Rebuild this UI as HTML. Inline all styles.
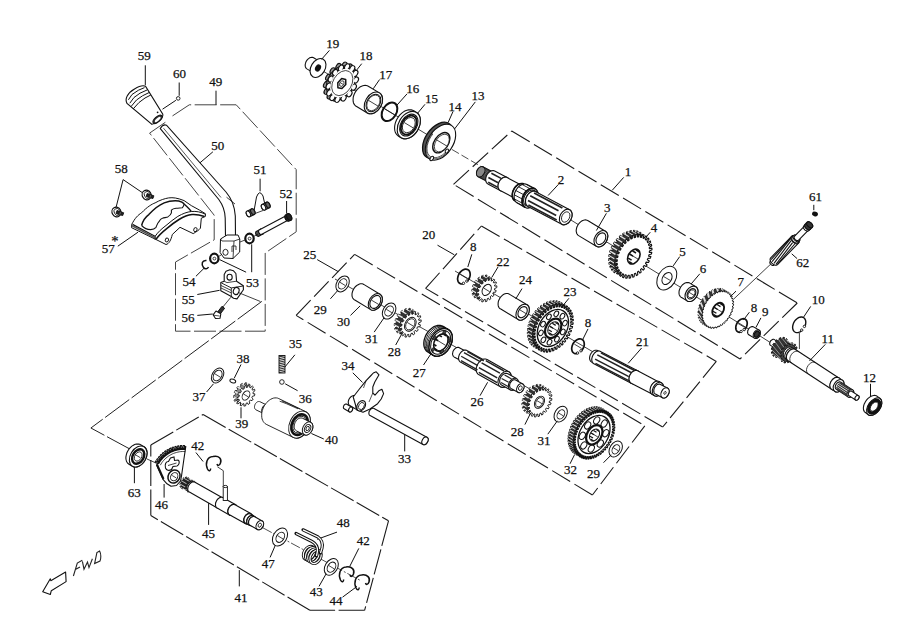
<!DOCTYPE html>
<html><head><meta charset="utf-8"><style>
html,body{margin:0;padding:0;background:#fff;width:906px;height:627px;overflow:hidden}
svg{display:block}
text{font-family:"Liberation Serif",serif;fill:#111;stroke:#111;stroke-width:0.25}
</style></head><body>
<svg width="906" height="627" viewBox="0 0 906 627">
<rect width="906" height="627" fill="#fff"/>
<polyline points="511.7,131 797.3,303" fill="none" stroke="#1a1a1a" stroke-width="1.1" stroke-dasharray="21 5" stroke-dashoffset="0"/>
<polyline points="797.3,303 740,359" fill="none" stroke="#1a1a1a" stroke-width="1.1" stroke-dasharray="21 5" stroke-dashoffset="0"/>
<polyline points="740,359 453.5,184.3" fill="none" stroke="#1a1a1a" stroke-width="1.1" stroke-dasharray="21 5" stroke-dashoffset="0"/>
<polyline points="453.5,184.3 511.7,131" fill="none" stroke="#1a1a1a" stroke-width="1.1" stroke-dasharray="21 5" stroke-dashoffset="0"/>
<polyline points="481.4,226 716.3,361.4" fill="none" stroke="#1a1a1a" stroke-width="1.1" stroke-dasharray="21 5" stroke-dashoffset="0"/>
<polyline points="716.3,361.4 662.7,427" fill="none" stroke="#1a1a1a" stroke-width="1.1" stroke-dasharray="21 5" stroke-dashoffset="0"/>
<polyline points="662.7,427 425.6,288.4" fill="none" stroke="#1a1a1a" stroke-width="1.1" stroke-dasharray="21 5" stroke-dashoffset="0"/>
<polyline points="425.6,288.4 481.4,226" fill="none" stroke="#1a1a1a" stroke-width="1.1" stroke-dasharray="21 5" stroke-dashoffset="0"/>
<polyline points="354.6,254.4 644.8,425.8" fill="none" stroke="#1a1a1a" stroke-width="1.1" stroke-dasharray="21 5" stroke-dashoffset="0"/>
<polyline points="644.8,425.8 592.4,495" fill="none" stroke="#1a1a1a" stroke-width="1.1" stroke-dasharray="21 5" stroke-dashoffset="0"/>
<polyline points="592.4,495 296.1,315.4" fill="none" stroke="#1a1a1a" stroke-width="1.1" stroke-dasharray="21 5" stroke-dashoffset="0"/>
<polyline points="296.1,315.4 354.6,254.4" fill="none" stroke="#1a1a1a" stroke-width="1.1" stroke-dasharray="21 5" stroke-dashoffset="0"/>
<polyline points="203.1,414.5 388.5,520.8" fill="none" stroke="#1a1a1a" stroke-width="1.1" stroke-dasharray="26 3.5" stroke-dashoffset="0"/>
<polyline points="388.5,520.8 364.6,610.3" fill="none" stroke="#1a1a1a" stroke-width="1.1" stroke-dasharray="26 3.5" stroke-dashoffset="0"/>
<polyline points="364.6,610.3 309.9,610.3" fill="none" stroke="#1a1a1a" stroke-width="1.1" stroke-dasharray="26 3.5" stroke-dashoffset="0"/>
<polyline points="309.9,610.3 150.8,515.5" fill="none" stroke="#1a1a1a" stroke-width="1.1" stroke-dasharray="26 3.5" stroke-dashoffset="0"/>
<polyline points="150.8,515.5 150.8,445" fill="none" stroke="#1a1a1a" stroke-width="1.1" stroke-dasharray="26 3.5" stroke-dashoffset="0"/>
<polyline points="150.8,445 203.1,414.5" fill="none" stroke="#1a1a1a" stroke-width="1.1" stroke-dasharray="26 3.5" stroke-dashoffset="0"/>
<polyline points="172.5,115.9 189.3,104.8 236.2,104.8 296.2,169.6 296.2,231.8 265.2,253 265.2,331.2 175.5,331.2 175.5,262 214.2,239.8 214.2,215.2 149.6,133.1 165.8,122" fill="none" stroke="#444" stroke-width="1.0" stroke-dasharray="22 3.5" stroke-dashoffset="0"/>
<polyline points="261.8,301.4 90.9,428 130.2,449.2" fill="none" stroke="#222" stroke-width="1.0" stroke-dasharray="30 3" stroke-dashoffset="0"/>
<text x="628" y="176" font-size="13.0" text-anchor="middle">1</text>
<text x="561" y="183.8" font-size="13.0" text-anchor="middle">2</text>
<text x="607.2" y="211.8" font-size="13.0" text-anchor="middle">3</text>
<text x="654" y="232.2" font-size="13.0" text-anchor="middle">4</text>
<text x="682.5" y="255.6" font-size="13.0" text-anchor="middle">5</text>
<text x="703" y="273.4" font-size="13.0" text-anchor="middle">6</text>
<text x="740.7" y="285.8" font-size="13.0" text-anchor="middle">7</text>
<text x="754" y="311.7" font-size="13.0" text-anchor="middle">8</text>
<text x="765.2" y="315.5" font-size="13.0" text-anchor="middle">9</text>
<text x="818.3" y="304" font-size="13.0" text-anchor="middle">10</text>
<text x="827.8" y="342.6" font-size="13.0" text-anchor="middle">11</text>
<text x="869.4" y="382.4" font-size="13.0" text-anchor="middle">12</text>
<text x="478" y="100.1" font-size="13.0" text-anchor="middle">13</text>
<text x="455" y="110.6" font-size="13.0" text-anchor="middle">14</text>
<text x="431.4" y="103" font-size="13.0" text-anchor="middle">15</text>
<text x="412.8" y="93.2" font-size="13.0" text-anchor="middle">16</text>
<text x="385.8" y="79.2" font-size="13.0" text-anchor="middle">17</text>
<text x="366" y="60.1" font-size="13.0" text-anchor="middle">18</text>
<text x="332.8" y="47.9" font-size="13.0" text-anchor="middle">19</text>
<text x="428.7" y="239.4" font-size="13.0" text-anchor="middle">20</text>
<text x="642.6" y="345.6" font-size="13.0" text-anchor="middle">21</text>
<text x="502.9" y="265.7" font-size="13.0" text-anchor="middle">22</text>
<text x="569.9" y="295.9" font-size="13.0" text-anchor="middle">23</text>
<text x="525.6" y="283.7" font-size="13.0" text-anchor="middle">24</text>
<text x="309.8" y="259.2" font-size="13.0" text-anchor="middle">25</text>
<text x="477" y="405.7" font-size="13.0" text-anchor="middle">26</text>
<text x="419.2" y="377" font-size="13.0" text-anchor="middle">27</text>
<text x="394.3" y="355.5" font-size="13.0" text-anchor="middle">28</text>
<text x="517.2" y="435.6" font-size="13.0" text-anchor="middle">28</text>
<text x="320.2" y="313.6" font-size="13.0" text-anchor="middle">29</text>
<text x="593.5" y="478" font-size="13.0" text-anchor="middle">29</text>
<text x="343.5" y="326.3" font-size="13.0" text-anchor="middle">30</text>
<text x="371.5" y="342.5" font-size="13.0" text-anchor="middle">31</text>
<text x="544" y="445.1" font-size="13.0" text-anchor="middle">31</text>
<text x="570.5" y="473.6" font-size="13.0" text-anchor="middle">32</text>
<text x="404.5" y="462.6" font-size="13.0" text-anchor="middle">33</text>
<text x="348" y="370.1" font-size="13.0" text-anchor="middle">34</text>
<text x="295.5" y="348.1" font-size="13.0" text-anchor="middle">35</text>
<text x="305.2" y="403.3" font-size="13.0" text-anchor="middle">36</text>
<text x="199" y="401.1" font-size="13.0" text-anchor="middle">37</text>
<text x="243.1" y="362.6" font-size="13.0" text-anchor="middle">38</text>
<text x="241.7" y="428.1" font-size="13.0" text-anchor="middle">39</text>
<text x="331.4" y="444" font-size="13.0" text-anchor="middle">40</text>
<text x="241.1" y="601.5" font-size="13.0" text-anchor="middle">41</text>
<text x="197.7" y="449.5" font-size="13.0" text-anchor="middle">42</text>
<text x="363.3" y="545.4" font-size="13.0" text-anchor="middle">42</text>
<text x="316.2" y="596.1" font-size="13.0" text-anchor="middle">43</text>
<text x="336.1" y="605.1" font-size="13.0" text-anchor="middle">44</text>
<text x="208.5" y="538.2" font-size="13.0" text-anchor="middle">45</text>
<text x="161.5" y="509.3" font-size="13.0" text-anchor="middle">46</text>
<text x="268.2" y="568" font-size="13.0" text-anchor="middle">47</text>
<text x="343.3" y="527.3" font-size="13.0" text-anchor="middle">48</text>
<text x="215.8" y="86.2" font-size="13.0" text-anchor="middle">49</text>
<text x="217.7" y="149.6" font-size="13.0" text-anchor="middle">50</text>
<text x="260" y="174" font-size="13.0" text-anchor="middle">51</text>
<text x="286" y="197.6" font-size="13.0" text-anchor="middle">52</text>
<text x="252.4" y="286.9" font-size="13.0" text-anchor="middle">53</text>
<text x="189" y="285.5" font-size="13.0" text-anchor="middle">54</text>
<text x="188.3" y="304.3" font-size="13.0" text-anchor="middle">55</text>
<text x="188" y="321.8" font-size="13.0" text-anchor="middle">56</text>
<text x="108.2" y="252.7" font-size="13.0" text-anchor="middle">57</text>
<text x="121.3" y="172.8" font-size="13.0" text-anchor="middle">58</text>
<text x="144.2" y="59.6" font-size="13.0" text-anchor="middle">59</text>
<text x="179.6" y="77.8" font-size="13.0" text-anchor="middle">60</text>
<text x="815.5" y="200.5" font-size="13.0" text-anchor="middle">61</text>
<text x="802.8" y="266.5" font-size="13.0" text-anchor="middle">62</text>
<text x="134.3" y="496.6" font-size="13.0" text-anchor="middle">63</text>
<line x1="318" y1="68" x2="445" y2="145.5" stroke="#111" stroke-width="0.8"/>
<line x1="566" y1="217" x2="760" y2="336" stroke="#111" stroke-width="0.8"/>
<line x1="760" y1="336" x2="790" y2="355" stroke="#111" stroke-width="0.8"/>
<line x1="770.5" y1="264.3" x2="734" y2="298.8" stroke="#111" stroke-width="0.8"/>
<polygon points="306.9,68.9 306.5,68.6 306.1,68.1 305.7,67.6 305.5,67 305.3,66.4 305.2,65.7 305.2,64.9 305.3,64.1 305.5,63.4 305.7,62.6 306,61.8 306.4,61.1 306.9,60.3 307.4,59.7 308,59.1 308.6,58.6 309.3,58.1 309.9,57.8 310.6,57.5 311.3,57.4 311.9,57.3 312.5,57.4 313.1,57.5 313.6,57.8 320.5,61.9 321,62.3 321.4,62.7 321.7,63.2 322,63.8 322.1,64.5 322.2,65.2 322.2,65.9 322.1,66.7 322,67.5 321.7,68.3 321.4,69 321,69.8 320.5,70.5 320,71.2 319.4,71.8 318.8,72.3 318.2,72.7 317.5,73.1 316.8,73.3 316.2,73.5 315.5,73.5 314.9,73.5 314.3,73.3 313.8,73.1" fill="#fff" stroke="#111" stroke-width="1.1" stroke-linejoin="round"/>
<ellipse cx="317.1" cy="67.5" rx="6.5" ry="4.5" transform="rotate(-59 317.1 67.5)" fill="#fff" stroke="#111" stroke-width="1.1"/>
<ellipse cx="318" cy="68" rx="10.2" ry="7" transform="rotate(-59 318 68)" fill="#fff" stroke="#111" stroke-width="1.1"/>
<ellipse cx="318" cy="68" rx="3.2" ry="2.2" transform="rotate(-59 318 68)" fill="#111" stroke="#111" stroke-width="1.1"/>
<ellipse cx="349.6" cy="67.2" rx="3.4" ry="2.3" transform="rotate(-59 349.6 67.2)" fill="#999" stroke="#111" stroke-width="1.1"/>
<ellipse cx="352.8" cy="71.9" rx="3.4" ry="2.3" transform="rotate(-59 352.8 71.9)" fill="#999" stroke="#111" stroke-width="1.1"/>
<ellipse cx="353.3" cy="78.5" rx="3.4" ry="2.3" transform="rotate(-59 353.3 78.5)" fill="#999" stroke="#111" stroke-width="1.1"/>
<ellipse cx="351.2" cy="85.7" rx="3.4" ry="2.3" transform="rotate(-59 351.2 85.7)" fill="#999" stroke="#111" stroke-width="1.1"/>
<ellipse cx="346.8" cy="92.1" rx="3.4" ry="2.3" transform="rotate(-59 346.8 92.1)" fill="#999" stroke="#111" stroke-width="1.1"/>
<ellipse cx="341" cy="96.4" rx="3.4" ry="2.3" transform="rotate(-59 341 96.4)" fill="#999" stroke="#111" stroke-width="1.1"/>
<ellipse cx="334.9" cy="97.8" rx="3.4" ry="2.3" transform="rotate(-59 334.9 97.8)" fill="#999" stroke="#111" stroke-width="1.1"/>
<ellipse cx="329.8" cy="95.9" rx="3.4" ry="2.3" transform="rotate(-59 329.8 95.9)" fill="#999" stroke="#111" stroke-width="1.1"/>
<ellipse cx="326.7" cy="91.2" rx="3.4" ry="2.3" transform="rotate(-59 326.7 91.2)" fill="#999" stroke="#111" stroke-width="1.1"/>
<ellipse cx="326.1" cy="84.6" rx="3.4" ry="2.3" transform="rotate(-59 326.1 84.6)" fill="#999" stroke="#111" stroke-width="1.1"/>
<ellipse cx="328.3" cy="77.4" rx="3.4" ry="2.3" transform="rotate(-59 328.3 77.4)" fill="#999" stroke="#111" stroke-width="1.1"/>
<ellipse cx="332.7" cy="71" rx="3.4" ry="2.3" transform="rotate(-59 332.7 71)" fill="#999" stroke="#111" stroke-width="1.1"/>
<ellipse cx="338.5" cy="66.7" rx="3.4" ry="2.3" transform="rotate(-59 338.5 66.7)" fill="#999" stroke="#111" stroke-width="1.1"/>
<ellipse cx="344.5" cy="65.3" rx="3.4" ry="2.3" transform="rotate(-59 344.5 65.3)" fill="#999" stroke="#111" stroke-width="1.1"/>
<ellipse cx="339.7" cy="81.6" rx="17" ry="11.7" transform="rotate(-59 339.7 81.6)" fill="#999" stroke="#111" stroke-width="1.0"/>
<ellipse cx="342.3" cy="83.1" rx="17" ry="11.7" transform="rotate(-59 342.3 83.1)" fill="#fff" stroke="#111" stroke-width="1.1"/>
<ellipse cx="352.2" cy="68.7" rx="3.3" ry="2.3" transform="rotate(-59 352.2 68.7)" fill="#fff" stroke="#111" stroke-width="1.1"/>
<ellipse cx="355.3" cy="73.4" rx="3.3" ry="2.3" transform="rotate(-59 355.3 73.4)" fill="#fff" stroke="#111" stroke-width="1.1"/>
<ellipse cx="355.9" cy="80" rx="3.3" ry="2.3" transform="rotate(-59 355.9 80)" fill="#fff" stroke="#111" stroke-width="1.1"/>
<ellipse cx="353.8" cy="87.2" rx="3.3" ry="2.3" transform="rotate(-59 353.8 87.2)" fill="#fff" stroke="#111" stroke-width="1.1"/>
<ellipse cx="349.4" cy="93.7" rx="3.3" ry="2.3" transform="rotate(-59 349.4 93.7)" fill="#fff" stroke="#111" stroke-width="1.1"/>
<ellipse cx="343.6" cy="98" rx="3.3" ry="2.3" transform="rotate(-59 343.6 98)" fill="#fff" stroke="#111" stroke-width="1.1"/>
<ellipse cx="337.5" cy="99.3" rx="3.3" ry="2.3" transform="rotate(-59 337.5 99.3)" fill="#fff" stroke="#111" stroke-width="1.1"/>
<ellipse cx="332.4" cy="97.5" rx="3.3" ry="2.3" transform="rotate(-59 332.4 97.5)" fill="#fff" stroke="#111" stroke-width="1.1"/>
<ellipse cx="329.3" cy="92.8" rx="3.3" ry="2.3" transform="rotate(-59 329.3 92.8)" fill="#fff" stroke="#111" stroke-width="1.1"/>
<ellipse cx="328.7" cy="86.2" rx="3.3" ry="2.3" transform="rotate(-59 328.7 86.2)" fill="#fff" stroke="#111" stroke-width="1.1"/>
<ellipse cx="330.8" cy="79" rx="3.3" ry="2.3" transform="rotate(-59 330.8 79)" fill="#fff" stroke="#111" stroke-width="1.1"/>
<ellipse cx="335.2" cy="72.5" rx="3.3" ry="2.3" transform="rotate(-59 335.2 72.5)" fill="#fff" stroke="#111" stroke-width="1.1"/>
<ellipse cx="341" cy="68.2" rx="3.3" ry="2.3" transform="rotate(-59 341 68.2)" fill="#fff" stroke="#111" stroke-width="1.1"/>
<ellipse cx="347.1" cy="66.9" rx="3.3" ry="2.3" transform="rotate(-59 347.1 66.9)" fill="#fff" stroke="#111" stroke-width="1.1"/>
<ellipse cx="342.3" cy="83.1" rx="15.5" ry="10.7" transform="rotate(-59 342.3 83.1)" fill="#fff" stroke="none" stroke-width="0"/>
<ellipse cx="342.3" cy="83.1" rx="13.5" ry="9.3" transform="rotate(-59 342.3 83.1)" fill="none" stroke="#111" stroke-width="0.7"/>
<polygon points="345.7,79.5 345.8,84.5 341.9,88.6 337.9,87.7 337.8,82.7 341.7,78.6" fill="#fff" stroke="#111" stroke-width="1.5" stroke-linejoin="round"/>
<polygon points="343.9,81.3 344,84.1 341.9,86.4 339.7,85.9 339.6,83.1 341.7,80.8" fill="#fff" stroke="#111" stroke-width="0.8" stroke-linejoin="round"/>
<polygon points="356.2,106.3 355.4,105.7 354.6,104.9 354,103.9 353.5,102.9 353.2,101.7 353.1,100.4 353.1,99.1 353.2,97.7 353.5,96.2 354,94.8 354.6,93.4 355.3,92.1 356.2,90.8 357.1,89.6 358.1,88.6 359.2,87.6 360.4,86.8 361.6,86.2 362.8,85.8 364,85.5 365.1,85.4 366.3,85.5 367.3,85.8 368.3,86.2 379.4,92.9 380.2,93.5 381,94.3 381.6,95.3 382.1,96.3 382.4,97.5 382.5,98.8 382.5,100.1 382.4,101.5 382.1,103 381.6,104.4 381,105.8 380.3,107.1 379.4,108.4 378.5,109.6 377.5,110.6 376.4,111.6 375.2,112.4 374,113 372.8,113.4 371.6,113.7 370.5,113.8 369.3,113.7 368.3,113.4 367.3,113" fill="#fff" stroke="#111" stroke-width="1.1" stroke-linejoin="round"/>
<ellipse cx="373.4" cy="102.9" rx="11.7" ry="8.1" transform="rotate(-59 373.4 102.9)" fill="#fff" stroke="#111" stroke-width="1.1"/>
<ellipse cx="373.4" cy="102.9" rx="9.4" ry="6.5" transform="rotate(-59 373.4 102.9)" fill="#fff" stroke="#111" stroke-width="1.0"/>
<ellipse cx="373.4" cy="102.9" rx="8.4" ry="5.8" transform="rotate(-59 373.4 102.9)" fill="#fff" stroke="#111" stroke-width="0.7"/>
<ellipse cx="389.5" cy="111.8" rx="10" ry="6.9" transform="rotate(-59 389.5 111.8)" fill="none" stroke="#111" stroke-width="2.0"/>
<polygon points="398.6,136.2 397.5,135.4 396.6,134.4 395.8,133.2 395.2,131.9 394.8,130.4 394.6,128.8 394.6,127.1 394.8,125.3 395.2,123.5 395.8,121.7 396.5,120 397.5,118.3 398.5,116.7 399.7,115.2 401,113.8 402.4,112.6 403.9,111.6 405.4,110.8 406.9,110.3 408.4,109.9 409.9,109.8 411.3,109.9 412.6,110.3 413.8,110.8 416.4,112.4 417.5,113.2 418.4,114.2 419.2,115.4 419.8,116.7 420.2,118.2 420.4,119.8 420.4,121.5 420.2,123.3 419.8,125.1 419.2,126.9 418.5,128.6 417.5,130.3 416.5,131.9 415.3,133.4 414,134.8 412.6,136 411.1,137 409.6,137.8 408.1,138.3 406.6,138.7 405.1,138.8 403.7,138.7 402.4,138.3 401.2,137.8" fill="#fff" stroke="#111" stroke-width="1.1" stroke-linejoin="round"/>
<ellipse cx="408.8" cy="125.1" rx="14.8" ry="10.2" transform="rotate(-59 408.8 125.1)" fill="#fff" stroke="#111" stroke-width="1.1"/>
<ellipse cx="408.8" cy="125.1" rx="11.8" ry="8.1" transform="rotate(-59 408.8 125.1)" fill="#fff" stroke="#111" stroke-width="1.0"/>
<ellipse cx="408.8" cy="125.1" rx="10.2" ry="7" transform="rotate(-59 408.8 125.1)" fill="#fff" stroke="#111" stroke-width="1.8"/>
<ellipse cx="408.8" cy="125.1" rx="8.2" ry="5.7" transform="rotate(-59 408.8 125.1)" fill="#fff" stroke="#111" stroke-width="0.8"/>
<ellipse cx="438" cy="140.5" rx="20.3" ry="12.6" transform="rotate(-56 438 140.5)" fill="#555" stroke="#111" stroke-width="1.3"/>
<ellipse cx="440.5" cy="142.2" rx="20" ry="12.4" transform="rotate(-56 440.5 142.2)" fill="#fff" stroke="#111" stroke-width="1.1"/>
<polyline points="448.1,151 445.7,153.6 443,155.8 440.3,157.4 437.5,158.5 434.8,158.9 432.4,158.7 430.3,157.9 428.5,156.4 427.2,154.4 426.4,152 426.2,149.1 426.4,146 427.3,142.8 428.6,139.5 430.3,136.4 432.5,133.4" fill="none" stroke="#111" stroke-width="0.7"/>
<polyline points="447.4,150.4 445.1,152.8 442.6,154.8 440.1,156.3 437.5,157.3 435,157.7 432.8,157.5 430.8,156.8 429.1,155.4 427.9,153.6 427.2,151.3 427,148.7 427.2,145.8 428,142.8 429.2,139.7 430.8,136.8 432.8,134" fill="none" stroke="#111" stroke-width="0.7"/>
<ellipse cx="441.3" cy="142.7" rx="11.3" ry="7" transform="rotate(-56 441.3 142.7)" fill="#fff" stroke="#111" stroke-width="1.4"/>
<ellipse cx="441.8" cy="143" rx="9.8" ry="6.1" transform="rotate(-56 441.8 143)" fill="#fff" stroke="#111" stroke-width="0.7"/>
<ellipse cx="431.8" cy="158.5" rx="2.4" ry="1.5" transform="rotate(-56 431.8 158.5)" fill="#fff" stroke="#111" stroke-width="1.0"/>
<ellipse cx="446.9" cy="151.1" rx="2.2" ry="1.4" transform="rotate(-56 446.9 151.1)" fill="#fff" stroke="#111" stroke-width="1.0"/>
<polyline points="452,149.5 481,166.5" fill="none" stroke="#222" stroke-width="0.8" stroke-dasharray="8 3" stroke-dashoffset="0"/>
<polygon points="478.1,176.7 477.7,176.4 477.3,176 477,175.6 476.8,175.1 476.6,174.6 476.5,174 476.5,173.3 476.5,172.7 476.6,172 476.8,171.3 477,170.7 477.3,170 477.7,169.4 478.1,168.8 478.6,168.3 479.1,167.8 479.6,167.4 480.2,167.1 480.7,166.9 481.3,166.7 481.8,166.6 482.3,166.6 482.8,166.8 483.3,166.9 493.9,172.6 494.3,172.9 494.7,173.2 495,173.6 495.2,174.1 495.4,174.7 495.5,175.3 495.5,175.9 495.5,176.5 495.4,177.2 495.2,177.9 495,178.6 494.6,179.2 494.3,179.8 493.9,180.4 493.4,180.9 492.9,181.4 492.4,181.8 491.8,182.1 491.3,182.4 490.7,182.5 490.2,182.6 489.7,182.6 489.2,182.5 488.7,182.3" fill="#666" stroke="#111" stroke-width="1.1" stroke-linejoin="round"/>
<ellipse cx="491.3" cy="177.4" rx="5.5" ry="3.8" transform="rotate(-62 491.3 177.4)" fill="#666" stroke="#111" stroke-width="1.1"/>
<polyline points="479.4,177.4 478.4,176.3 477.8,174.7 477.9,172.7 478.7,170.7 479.9,169 481.5,167.8 483.1,167.3 484.6,167.6" fill="none" stroke="#222" stroke-width="0.6"/>
<polyline points="480.9,178.1 479.8,177.1 479.2,175.4 479.4,173.5 480.1,171.5 481.3,169.8 482.9,168.6 484.5,168.1 486,168.4" fill="none" stroke="#222" stroke-width="0.6"/>
<polyline points="482.3,178.9 481.2,177.8 480.7,176.2 480.8,174.2 481.5,172.2 482.7,170.5 484.3,169.3 486,168.8 487.4,169.2" fill="none" stroke="#222" stroke-width="0.6"/>
<polyline points="483.7,179.6 482.6,178.6 482.1,176.9 482.2,175 482.9,173 484.2,171.3 485.7,170.1 487.4,169.6 488.8,169.9" fill="none" stroke="#222" stroke-width="0.6"/>
<polyline points="485.1,180.4 484,179.3 483.5,177.7 483.6,175.7 484.3,173.7 485.6,172 487.1,170.8 488.8,170.3 490.3,170.7" fill="none" stroke="#222" stroke-width="0.6"/>
<polyline points="486.5,181.1 485.4,180.1 484.9,178.4 485,176.5 485.7,174.5 487,172.8 488.5,171.6 490.2,171.1 491.7,171.4" fill="none" stroke="#222" stroke-width="0.6"/>
<polyline points="487.9,181.9 486.8,180.8 486.3,179.2 486.4,177.2 487.1,175.2 488.4,173.5 490,172.3 491.6,171.8 493.1,172.2" fill="none" stroke="#222" stroke-width="0.6"/>
<ellipse cx="480.7" cy="171.8" rx="5.5" ry="3.8" transform="rotate(-62 480.7 171.8)" fill="#888" stroke="#111" stroke-width="1.0"/>
<polygon points="487.9,183.9 487.3,183.5 486.8,183 486.4,182.5 486.1,181.8 485.9,181.1 485.7,180.3 485.7,179.5 485.7,178.6 485.9,177.7 486.1,176.8 486.4,175.9 486.8,175.1 487.3,174.2 487.9,173.5 488.5,172.8 489.2,172.2 489.9,171.6 490.6,171.2 491.3,170.9 492,170.7 492.8,170.6 493.5,170.6 494.1,170.7 494.7,171 507.1,177.6 507.6,177.9 508.1,178.4 508.5,179 508.8,179.6 509.1,180.3 509.2,181.1 509.3,182 509.2,182.8 509.1,183.7 508.8,184.6 508.5,185.5 508.1,186.4 507.6,187.2 507.1,188 506.5,188.7 505.8,189.3 505.1,189.8 504.4,190.2 503.6,190.6 502.9,190.8 502.2,190.9 501.5,190.8 500.8,190.7 500.2,190.5" fill="#fff" stroke="#111" stroke-width="1.1" stroke-linejoin="round"/>
<ellipse cx="503.7" cy="184" rx="7.3" ry="5" transform="rotate(-62 503.7 184)" fill="#fff" stroke="#111" stroke-width="1.1"/>
<polygon points="500.2,190.5 499.7,190.1 499.2,189.6 498.8,189.1 498.5,188.4 498.2,187.7 498.1,186.9 498,186.1 498.1,185.2 498.2,184.3 498.5,183.4 498.8,182.5 499.2,181.6 499.7,180.8 500.2,180.1 500.9,179.4 501.5,178.7 502.2,178.2 502.9,177.8 503.7,177.5 504.4,177.2 505.1,177.1 505.8,177.2 506.5,177.3 507.1,177.6 523,186 523.5,186.4 524,186.8 524.4,187.4 524.7,188.1 525,188.8 525.1,189.6 525.2,190.4 525.1,191.3 525,192.2 524.7,193.1 524.4,194 524,194.8 523.5,195.6 523,196.4 522.3,197.1 521.7,197.7 521,198.3 520.3,198.7 519.5,199 518.8,199.2 518.1,199.3 517.4,199.3 516.7,199.2 516.1,198.9" fill="#fff" stroke="#111" stroke-width="1.1" stroke-linejoin="round"/>
<ellipse cx="519.5" cy="192.5" rx="7.3" ry="5" transform="rotate(-62 519.5 192.5)" fill="#fff" stroke="#111" stroke-width="1.1"/>
<polygon points="515.1,200.8 514.4,200.4 513.7,199.8 513.2,199 512.8,198.2 512.5,197.2 512.3,196.2 512.2,195.1 512.3,194 512.5,192.8 512.8,191.7 513.2,190.5 513.8,189.4 514.4,188.3 515.1,187.3 515.9,186.4 516.8,185.6 517.7,184.9 518.6,184.3 519.6,183.9 520.5,183.7 521.5,183.5 522.4,183.6 523.2,183.7 524,184.1 526.7,185.5 527.4,186 528,186.6 528.5,187.3 529,188.1 529.3,189.1 529.4,190.1 529.5,191.2 529.4,192.3 529.3,193.5 528.9,194.7 528.5,195.8 528,196.9 527.4,198 526.6,199 525.8,199.9 525,200.7 524.1,201.4 523.1,202 522.2,202.4 521.2,202.7 520.3,202.8 519.4,202.8 518.5,202.6 517.7,202.3" fill="#fff" stroke="#111" stroke-width="1.1" stroke-linejoin="round"/>
<ellipse cx="522.2" cy="193.9" rx="9.5" ry="6.6" transform="rotate(-62 522.2 193.9)" fill="#fff" stroke="#111" stroke-width="1.1"/>
<polygon points="517.3,203.1 516.5,202.6 515.8,201.9 515.2,201.1 514.7,200.2 514.4,199.1 514.2,198 514.1,196.8 514.2,195.6 514.4,194.3 514.7,193 515.2,191.7 515.8,190.5 516.5,189.3 517.3,188.2 518.2,187.2 519.1,186.3 520.1,185.5 521.2,184.9 522.2,184.4 523.3,184.1 524.3,184 525.3,184 526.3,184.2 527.1,184.6 535.1,188.8 535.9,189.3 536.6,190 537.1,190.8 537.6,191.8 538,192.8 538.2,193.9 538.2,195.1 538.1,196.4 537.9,197.7 537.6,199 537.1,200.3 536.5,201.5 535.8,202.7 535,203.8 534.2,204.8 533.2,205.7 532.2,206.4 531.2,207.1 530.1,207.5 529.1,207.8 528,208 527,207.9 526.1,207.7 525.2,207.4" fill="#fff" stroke="#111" stroke-width="1.1" stroke-linejoin="round"/>
<ellipse cx="530.1" cy="198.1" rx="10.5" ry="7.2" transform="rotate(-62 530.1 198.1)" fill="#fff" stroke="#111" stroke-width="1.1"/>
<polygon points="526.2,205.6 525.5,205.2 525,204.6 524.5,204 524.1,203.2 523.8,202.4 523.7,201.5 523.6,200.5 523.7,199.5 523.8,198.4 524.1,197.4 524.5,196.3 525,195.3 525.5,194.4 526.2,193.5 526.9,192.7 527.7,192 528.5,191.3 529.3,190.8 530.2,190.5 531,190.2 531.9,190.1 532.7,190.1 533.4,190.3 534.1,190.6 535.9,191.5 536.5,191.9 537.1,192.5 537.6,193.1 538,193.9 538.2,194.8 538.4,195.7 538.4,196.6 538.4,197.7 538.2,198.7 537.9,199.7 537.6,200.8 537.1,201.8 536.5,202.7 535.9,203.6 535.2,204.4 534.4,205.2 533.6,205.8 532.8,206.3 531.9,206.7 531,206.9 530.2,207 529.4,207 528.6,206.8 527.9,206.5" fill="#fff" stroke="#111" stroke-width="1.1" stroke-linejoin="round"/>
<ellipse cx="531.9" cy="199" rx="8.5" ry="5.9" transform="rotate(-62 531.9 199)" fill="#fff" stroke="#111" stroke-width="1.1"/>
<polygon points="528,206.4 527.4,205.9 526.8,205.4 526.4,204.8 526,204 525.7,203.2 525.6,202.3 525.5,201.4 525.6,200.4 525.7,199.3 526,198.3 526.4,197.3 526.9,196.3 527.4,195.4 528,194.5 528.7,193.7 529.5,193 530.3,192.4 531.1,191.9 531.9,191.6 532.8,191.3 533.6,191.2 534.4,191.3 535.1,191.4 535.8,191.7 569.6,209.7 570.3,210.1 570.8,210.6 571.3,211.3 571.6,212 571.9,212.8 572.1,213.7 572.1,214.7 572.1,215.7 571.9,216.7 571.6,217.7 571.2,218.7 570.8,219.7 570.2,220.6 569.6,221.5 568.9,222.3 568.2,223 567.4,223.6 566.5,224.1 565.7,224.5 564.9,224.7 564.1,224.8 563.3,224.8 562.5,224.6 561.8,224.3" fill="#fff" stroke="#111" stroke-width="1.1" stroke-linejoin="round"/>
<ellipse cx="565.7" cy="217" rx="8.3" ry="5.7" transform="rotate(-62 565.7 217)" fill="#fff" stroke="#111" stroke-width="1.1"/>
<line x1="488.2" y1="182.2" x2="497.9" y2="187.4" stroke="#222" stroke-width="1.6"/>
<line x1="488.4" y1="177.5" x2="498.1" y2="182.7" stroke="#222" stroke-width="1.6"/>
<line x1="491.4" y1="173.3" x2="501.1" y2="178.4" stroke="#222" stroke-width="1.6"/>
<polyline points="515.1,200.8 514,200.1 513.2,199 512.6,197.7 512.3,196.2 512.3,194.6 512.5,192.8 513,191.1 513.8,189.4 514.7,187.8 515.9,186.4 517.2,185.2 518.6,184.3 520,183.8 521.5,183.5 522.8,183.6 524,184.1" fill="none" stroke="#111" stroke-width="1.6"/>
<line x1="516" y1="202.1" x2="523.9" y2="206.4" stroke="#111" stroke-width="0.9"/>
<line x1="514.4" y1="199" x2="522.3" y2="203.2" stroke="#111" stroke-width="0.9"/>
<line x1="514.3" y1="194.8" x2="522.2" y2="199" stroke="#111" stroke-width="0.9"/>
<line x1="515.8" y1="190.5" x2="523.7" y2="194.7" stroke="#111" stroke-width="0.9"/>
<line x1="518.6" y1="186.8" x2="526.5" y2="191" stroke="#111" stroke-width="0.9"/>
<line x1="522.1" y1="184.5" x2="530" y2="188.7" stroke="#111" stroke-width="0.9"/>
<line x1="525.6" y1="184.1" x2="533.5" y2="188.3" stroke="#111" stroke-width="0.9"/>
<polyline points="525.2,207.4 524.1,206.5 523.1,205.4 522.5,203.9 522.1,202.2 522.1,200.4 522.3,198.5 522.9,196.6 523.7,194.7 524.8,192.9 526.1,191.4 527.6,190.1 529.1,189.1 530.7,188.5 532.3,188.2 533.7,188.3 535.1,188.8" fill="none" stroke="#111" stroke-width="1.8"/>
<line x1="528.4" y1="204.9" x2="556.7" y2="219.9" stroke="#222" stroke-width="1.7"/>
<line x1="528" y1="200.4" x2="556.2" y2="215.4" stroke="#222" stroke-width="1.7"/>
<line x1="530.2" y1="195.7" x2="558.5" y2="210.7" stroke="#222" stroke-width="1.7"/>
<line x1="534.1" y1="193" x2="562.4" y2="208" stroke="#222" stroke-width="1.7"/>
<ellipse cx="565.7" cy="217" rx="5.5" ry="3.8" transform="rotate(-62 565.7 217)" fill="#fff" stroke="#111" stroke-width="0.8"/>
<polygon points="578.6,235.6 578,235.1 577.4,234.5 576.9,233.8 576.6,233 576.4,232.1 576.2,231.2 576.2,230.2 576.4,229.1 576.6,228.1 576.9,227 577.4,226 577.9,224.9 578.6,224 579.3,223.1 580.1,222.3 580.9,221.6 581.8,221 582.7,220.5 583.6,220.2 584.5,220 585.3,219.9 586.2,220 586.9,220.2 587.7,220.5 605.4,231.2 606,231.7 606.6,232.3 607.1,233 607.4,233.8 607.6,234.7 607.8,235.6 607.8,236.6 607.6,237.7 607.4,238.7 607.1,239.8 606.6,240.8 606.1,241.9 605.4,242.8 604.7,243.7 603.9,244.5 603.1,245.2 602.2,245.8 601.3,246.3 600.4,246.6 599.5,246.8 598.7,246.9 597.8,246.8 597.1,246.6 596.3,246.3" fill="#fff" stroke="#111" stroke-width="1.1" stroke-linejoin="round"/>
<ellipse cx="600.9" cy="238.7" rx="8.8" ry="6.1" transform="rotate(-59 600.9 238.7)" fill="#fff" stroke="#111" stroke-width="1.1"/>
<ellipse cx="600.9" cy="238.7" rx="6.3" ry="4.3" transform="rotate(-59 600.9 238.7)" fill="#fff" stroke="#111" stroke-width="1.1"/>
<polygon points="637.9,234.8 639.9,232.3 640.9,233 639.3,235.9 640.1,236.6 642.3,234.4 643.1,235.4 641.2,238 641.8,239 644.2,237.3 644.7,238.5 642.5,240.7 642.9,241.9 645.4,240.7 645.7,242.1 643.3,243.9 643.4,245.2 645.9,244.5 646,246.1 643.4,247.4 643.3,248.8 645.8,248.7 645.5,250.3 643,251.1 642.6,252.5 644.9,253 644.3,254.7 641.9,254.8 641.3,256.2 643.3,257.3 642.5,258.9 640.2,258.5 639.5,259.8 641.1,261.4 640.1,262.9 638.1,261.9 637.2,263.1 638.4,265.2 637.2,266.5 635.6,265 634.5,266 635.2,268.5 633.9,269.6 632.7,267.6 631.5,268.4 631.8,271.1 630.4,272 629.6,269.6 628.4,270.2 628.1,273.1 626.8,273.6 626.4,270.9 625.2,271.2 624.5,274.3 623.1,274.5 623.3,271.6 622.2,271.6 620.9,274.6 619.7,274.5 620.3,271.5 619.3,271.2 617.6,274 616.5,273.6 617.6,270.6 616.7,270.2 614.7,272.7 613.7,272 615.3,269.1 614.5,268.4 612.3,270.6 611.5,269.6 613.4,267 612.8,266 610.4,267.7 609.9,266.5 612.1,264.3 611.7,263.1 609.2,264.3 608.9,262.9 611.3,261.1 611.2,259.8 608.7,260.5 608.6,258.9 611.2,257.6 611.3,256.2 608.8,256.3 609.1,254.7 611.6,253.9 612,252.5 609.7,252 610.3,250.3 612.7,250.2 613.3,248.8 611.3,247.7 612.1,246.1 614.4,246.5 615.1,245.2 613.5,243.6 614.5,242.1 616.5,243.1 617.4,241.9 616.2,239.8 617.4,238.5 619,240 620.1,239 619.4,236.5 620.7,235.4 621.9,237.4 623.1,236.6 622.8,233.8 624.2,233 625,235.4 626.2,234.8 626.5,231.9 627.8,231.4 628.2,234.1 629.4,233.7 630.1,230.7 631.5,230.5 631.3,233.4 632.4,233.4 633.7,230.4 634.9,230.5 634.3,233.5 635.3,233.7 637,230.9 638.1,231.4 637,234.3" fill="#333" stroke="#111" stroke-width="1.1" stroke-linejoin="round"/>
<polygon points="616.7,270.2 615.7,269.4 614.7,268.6 613.9,267.7 613.2,266.6 612.5,265.4 612,264.1 611.6,262.8 611.3,261.3 611.2,259.8 611.1,258.2 611.2,256.6 611.4,255 611.8,253.3 612.2,251.7 612.8,250 613.5,248.4 614.2,246.7 615.1,245.2 616.1,243.7 617.1,242.2 618.3,240.9 619.5,239.6 620.7,238.4 622.1,237.3 623.4,236.4 624.8,235.5 626.2,234.8 627.6,234.3 629,233.8 630.4,233.5 631.8,233.4 633.1,233.4 634.4,233.5 635.6,233.8 636.8,234.3 637.9,234.8 643.9,238.4 644.9,239.1 645.9,240 646.7,240.9 647.4,242 648.1,243.2 648.6,244.5 649,245.8 649.3,247.3 649.4,248.8 649.5,250.4 649.4,252 649.2,253.6 648.8,255.3 648.4,256.9 647.8,258.6 647.1,260.2 646.4,261.9 645.5,263.4 644.5,264.9 643.5,266.4 642.3,267.7 641.1,269 639.9,270.2 638.5,271.3 637.2,272.2 635.8,273.1 634.4,273.8 633,274.3 631.6,274.8 630.2,275.1 628.8,275.2 627.5,275.2 626.2,275.1 625,274.8 623.8,274.3 622.7,273.8" fill="#333" stroke="none" stroke-width="0" stroke-linejoin="round"/>
<polygon points="646,236 646.8,236.5 640.8,232.9 640,232.4" fill="#e8e8e8" stroke="none" stroke-width="0" stroke-linejoin="round"/>
<polygon points="648.4,238.2 649,238.9 643,235.3 642.4,234.6" fill="#e8e8e8" stroke="none" stroke-width="0" stroke-linejoin="round"/>
<polygon points="626.8,278.2 625.8,278.1 619.8,274.5 620.8,274.6" fill="#e8e8e8" stroke="none" stroke-width="0" stroke-linejoin="round"/>
<polygon points="623.5,277.6 622.6,277.3 616.6,273.7 617.5,274" fill="#e8e8e8" stroke="none" stroke-width="0" stroke-linejoin="round"/>
<polygon points="620.6,276.2 619.8,275.7 613.8,272.1 614.6,272.6" fill="#e8e8e8" stroke="none" stroke-width="0" stroke-linejoin="round"/>
<polygon points="618.2,274 617.6,273.3 611.6,269.7 612.2,270.4" fill="#e8e8e8" stroke="none" stroke-width="0" stroke-linejoin="round"/>
<polygon points="616.3,271.2 615.9,270.3 609.9,266.7 610.3,267.6" fill="#e8e8e8" stroke="none" stroke-width="0" stroke-linejoin="round"/>
<polygon points="615.1,267.7 614.9,266.7 608.9,263.1 609.1,264.1" fill="#e8e8e8" stroke="none" stroke-width="0" stroke-linejoin="round"/>
<polygon points="614.6,263.9 614.6,262.7 608.6,259.1 608.6,260.3" fill="#e8e8e8" stroke="none" stroke-width="0" stroke-linejoin="round"/>
<polygon points="614.9,259.7 615.1,258.5 609.1,254.9 608.9,256.1" fill="#e8e8e8" stroke="none" stroke-width="0" stroke-linejoin="round"/>
<polygon points="615.8,255.4 616.2,254.1 610.2,250.5 609.8,251.8" fill="#e8e8e8" stroke="none" stroke-width="0" stroke-linejoin="round"/>
<polygon points="617.4,251.1 618,249.9 612,246.3 611.4,247.5" fill="#e8e8e8" stroke="none" stroke-width="0" stroke-linejoin="round"/>
<polygon points="619.6,247 620.4,245.9 614.4,242.3 613.6,243.4" fill="#e8e8e8" stroke="none" stroke-width="0" stroke-linejoin="round"/>
<polygon points="622.4,243.2 623.2,242.3 617.2,238.6 616.4,239.6" fill="#e8e8e8" stroke="none" stroke-width="0" stroke-linejoin="round"/>
<polygon points="625.5,240 626.5,239.2 620.5,235.6 619.5,236.4" fill="#e8e8e8" stroke="none" stroke-width="0" stroke-linejoin="round"/>
<polygon points="629,237.3 630,236.7 624,233.1 623,233.7" fill="#e8e8e8" stroke="none" stroke-width="0" stroke-linejoin="round"/>
<polygon points="632.6,235.4 633.7,235 627.7,231.4 626.6,231.8" fill="#e8e8e8" stroke="none" stroke-width="0" stroke-linejoin="round"/>
<polygon points="636.3,234.3 637.3,234.1 631.3,230.5 630.3,230.7" fill="#e8e8e8" stroke="none" stroke-width="0" stroke-linejoin="round"/>
<polygon points="639.8,234 640.8,234.1 634.8,230.5 633.8,230.4" fill="#e8e8e8" stroke="none" stroke-width="0" stroke-linejoin="round"/>
<polygon points="643.1,234.6 644,234.9 638,231.3 637.1,231" fill="#e8e8e8" stroke="none" stroke-width="0" stroke-linejoin="round"/>
<polygon points="643.9,238.4 645.9,235.9 646.9,236.6 645.3,239.5 646.1,240.2 648.3,238 649.1,239 647.2,241.6 647.8,242.6 650.2,240.9 650.7,242.1 648.5,244.3 648.9,245.5 651.4,244.3 651.7,245.7 649.3,247.5 649.4,248.8 651.9,248.1 652,249.7 649.4,251 649.3,252.4 651.8,252.3 651.5,253.9 649,254.7 648.6,256.1 650.9,256.6 650.3,258.3 647.9,258.4 647.3,259.8 649.3,260.9 648.5,262.5 646.2,262.1 645.5,263.4 647.1,265 646.1,266.5 644.1,265.5 643.2,266.7 644.4,268.8 643.2,270.1 641.6,268.6 640.5,269.6 641.2,272.1 639.9,273.2 638.7,271.2 637.5,272 637.8,274.8 636.4,275.6 635.6,273.2 634.4,273.8 634.1,276.7 632.8,277.2 632.4,274.5 631.2,274.8 630.5,277.9 629.1,278.1 629.3,275.2 628.2,275.2 626.9,278.2 625.7,278.1 626.3,275.1 625.3,274.8 623.6,277.7 622.5,277.2 623.6,274.3 622.7,273.8 620.7,276.3 619.7,275.6 621.3,272.7 620.5,272 618.3,274.2 617.5,273.2 619.4,270.6 618.8,269.6 616.4,271.3 615.9,270.1 618.1,267.9 617.7,266.7 615.2,267.9 614.9,266.5 617.3,264.7 617.2,263.4 614.7,264.1 614.6,262.5 617.2,261.2 617.3,259.8 614.8,259.9 615.1,258.3 617.6,257.5 618,256.1 615.7,255.6 616.3,253.9 618.7,253.8 619.3,252.4 617.3,251.3 618.1,249.7 620.4,250.1 621.1,248.8 619.5,247.2 620.5,245.7 622.5,246.7 623.4,245.5 622.2,243.4 623.4,242.1 625,243.6 626.1,242.6 625.4,240.1 626.7,239 627.9,241 629.1,240.2 628.8,237.4 630.2,236.6 631,239 632.2,238.4 632.5,235.5 633.8,235 634.2,237.7 635.4,237.4 636.1,234.3 637.5,234.1 637.3,237 638.4,237 639.7,234 640.9,234.1 640.3,237.1 641.3,237.4 643,234.5 644.1,235 643,237.9" fill="#fff" stroke="#111" stroke-width="1.1" stroke-linejoin="round"/>
<ellipse cx="633.8" cy="256.6" rx="8" ry="5.5" transform="rotate(-59 633.8 256.6)" fill="#fff" stroke="#111" stroke-width="1.6"/>
<line x1="629" y1="261.7" x2="632.4" y2="263.7" stroke="#111" stroke-width="1.5"/>
<line x1="628.2" y1="258.2" x2="631.6" y2="260.2" stroke="#111" stroke-width="1.5"/>
<line x1="629.5" y1="254" x2="633" y2="256.1" stroke="#111" stroke-width="1.5"/>
<line x1="632.5" y1="250.9" x2="636" y2="253" stroke="#111" stroke-width="1.5"/>
<line x1="636" y1="249.9" x2="639.4" y2="252" stroke="#111" stroke-width="1.5"/>
<ellipse cx="666.8" cy="278.1" rx="12.8" ry="8.8" transform="rotate(-59 666.8 278.1)" fill="#fff" stroke="#111" stroke-width="1.0"/>
<ellipse cx="667" cy="278.5" rx="6.5" ry="4.5" transform="rotate(-59 667 278.5)" fill="#fff" stroke="#111" stroke-width="1.0"/>
<polygon points="681.2,297.3 680.6,296.9 680.1,296.3 679.7,295.6 679.3,294.9 679.1,294 679,293.1 679,292.2 679.1,291.2 679.3,290.2 679.7,289.2 680.1,288.2 680.6,287.2 681.2,286.3 681.9,285.5 682.6,284.7 683.4,284.1 684.2,283.5 685.1,283.1 685.9,282.8 686.7,282.6 687.6,282.5 688.4,282.6 689.1,282.8 689.8,283.1 695.8,286.7 696.4,287.1 696.9,287.7 697.3,288.4 697.7,289.1 697.9,290 698,290.9 698,291.8 697.9,292.8 697.7,293.8 697.3,294.8 696.9,295.8 696.4,296.8 695.8,297.7 695.1,298.5 694.4,299.3 693.6,299.9 692.8,300.5 691.9,300.9 691.1,301.2 690.3,301.4 689.4,301.5 688.6,301.4 687.9,301.2 687.2,300.9" fill="#fff" stroke="#111" stroke-width="1.1" stroke-linejoin="round"/>
<ellipse cx="691.5" cy="293.8" rx="8.3" ry="5.7" transform="rotate(-59 691.5 293.8)" fill="#fff" stroke="#111" stroke-width="1.1"/>
<ellipse cx="691.5" cy="293.8" rx="5.6" ry="3.9" transform="rotate(-59 691.5 293.8)" fill="#fff" stroke="#111" stroke-width="1.1"/>
<ellipse cx="691.5" cy="293.8" rx="4.3" ry="3" transform="rotate(-59 691.5 293.8)" fill="#fff" stroke="#111" stroke-width="0.8"/>
<polygon points="723.5,291.1 724.5,289.9 725.3,290.5 724.7,291.9 725.3,292.5 726.4,291.5 727,292.2 726.2,293.6 726.7,294.3 727.9,293.6 728.4,294.5 727.4,295.7 727.8,296.6 729,296 729.3,297.1 728.2,298.1 728.4,299.1 729.6,298.8 729.7,300 728.6,300.9 728.6,301.9 729.8,301.9 729.7,303.1 728.5,303.8 728.3,304.9 729.4,305.1 729.1,306.4 727.9,306.8 727.6,307.9 728.6,308.4 728.1,309.6 727,309.8 726.5,311 727.3,311.6 726.7,312.9 725.6,312.8 725,313.9 725.6,314.8 724.9,315.9 723.9,315.6 723.1,316.6 723.6,317.6 722.7,318.7 721.8,318.1 721,319 721.3,320.2 720.3,321.1 719.5,320.3 718.6,321 718.7,322.4 717.7,323.1 717.1,322.1 716.1,322.7 716,324.1 714.9,324.6 714.6,323.4 713.6,323.8 713.2,325.3 712.2,325.6 712,324.3 711,324.5 710.5,325.9 709.4,326 709.5,324.6 708.5,324.6 707.8,326 706.9,325.9 707.1,324.4 706.2,324.2 705.3,325.5 704.5,325.1 704.9,323.7 704.2,323.3 703.1,324.4 702.4,323.9 703,322.5 702.4,321.9 701.3,322.9 700.6,322.1 701.4,320.8 700.9,320 699.8,320.8 699.3,319.9 700.2,318.7 699.9,317.8 698.7,318.3 698.4,317.3 699.5,316.2 699.3,315.2 698.1,315.5 698,314.4 699.1,313.5 699.1,312.4 697.9,312.5 698,311.3 699.2,310.6 699.4,309.5 698.3,309.2 698.5,308 699.8,307.6 700.1,306.4 699.1,306 699.5,304.7 700.7,304.5 701.2,303.4 700.4,302.7 701,301.5 702.1,301.6 702.7,300.5 702.1,299.6 702.8,298.5 703.8,298.8 704.6,297.8 704.1,296.7 705,295.7 705.9,296.3 706.7,295.4 706.4,294.2 707.4,293.3 708.1,294.1 709.1,293.3 709,292 710,291.3 710.6,292.3 711.5,291.7 711.7,290.3 712.7,289.8 713.1,290.9 714.1,290.5 714.5,289.1 715.5,288.8 715.7,290.1 716.7,289.9 717.2,288.5 718.2,288.4 718.2,289.7 719.1,289.8 719.9,288.4 720.8,288.5 720.6,289.9 721.4,290.2 722.3,288.9 723.2,289.2 722.8,290.7" fill="#333" stroke="#111" stroke-width="0.9" stroke-linejoin="round"/>
<polygon points="704.1,323.5 703.1,322.8 702.3,322 701.5,321.2 700.8,320.2 700.2,319.1 699.7,317.9 699.4,316.7 699.1,315.3 699,313.9 698.9,312.5 699,311 699.2,309.5 699.5,307.9 699.9,306.4 700.5,304.9 701.1,303.4 701.8,301.9 702.6,300.4 703.5,299 704.5,297.7 705.5,296.4 706.6,295.3 707.8,294.2 709,293.2 710.3,292.3 711.5,291.5 712.8,290.9 714.1,290.4 715.4,290 716.7,289.7 718,289.6 719.2,289.6 720.4,289.7 721.5,290 722.6,290.4 723.6,290.9 727.5,293.2 728.4,293.9 729.3,294.6 730.1,295.5 730.7,296.5 731.3,297.6 731.8,298.8 732.2,300 732.4,301.4 732.6,302.8 732.6,304.2 732.5,305.7 732.3,307.2 732,308.7 731.6,310.3 731.1,311.8 730.5,313.3 729.7,314.8 728.9,316.3 728,317.6 727.1,319 726,320.2 724.9,321.4 723.7,322.5 722.5,323.5 721.3,324.4 720,325.1 718.7,325.8 717.4,326.3 716.1,326.7 714.8,327 713.6,327.1 712.3,327.1 711.2,327 710,326.7 708.9,326.3 707.9,325.8" fill="#333" stroke="none" stroke-width="0" stroke-linejoin="round"/>
<polygon points="711.5,328.2 709.8,327.9 703.6,324.6 705.1,325.3" fill="#ddd" stroke="none" stroke-width="0" stroke-linejoin="round"/>
<polygon points="707.5,326.9 706.1,325.9 700.5,321.8 701.6,323.1" fill="#ddd" stroke="none" stroke-width="0" stroke-linejoin="round"/>
<polygon points="704.3,324.1 703.4,322.5 698.6,317.6 699.2,319.4" fill="#ddd" stroke="none" stroke-width="0" stroke-linejoin="round"/>
<polygon points="702.4,319.9 702,318 698,312.5 698.1,314.6" fill="#ddd" stroke="none" stroke-width="0" stroke-linejoin="round"/>
<polygon points="701.9,314.8 702,312.6 698.9,307 698.4,309.2" fill="#ddd" stroke="none" stroke-width="0" stroke-linejoin="round"/>
<polygon points="702.7,309.2 703.5,307 701.1,301.4 700.1,303.6" fill="#ddd" stroke="none" stroke-width="0" stroke-linejoin="round"/>
<polygon points="705,303.7 706.2,301.6 704.5,296.4 703,298.3" fill="#ddd" stroke="none" stroke-width="0" stroke-linejoin="round"/>
<polygon points="708.3,298.7 709.9,296.9 708.7,292.3 706.9,293.8" fill="#ddd" stroke="none" stroke-width="0" stroke-linejoin="round"/>
<polygon points="712.6,294.6 714.4,293.4 713.4,289.6 711.5,290.5" fill="#ddd" stroke="none" stroke-width="0" stroke-linejoin="round"/>
<polygon points="717.2,291.9 719.1,291.3 718.1,288.5 716.2,288.7" fill="#ddd" stroke="none" stroke-width="0" stroke-linejoin="round"/>
<polygon points="721.9,290.8 723.7,290.8 722.4,289 720.8,288.6" fill="#ddd" stroke="none" stroke-width="0" stroke-linejoin="round"/>
<polygon points="726.3,291.3 727.8,292 726,291.2 724.7,290.1" fill="#ddd" stroke="none" stroke-width="0" stroke-linejoin="round"/>
<polygon points="727.6,293 728.4,292.3 729.2,292.8 728.8,293.9 729.4,294.5 730.3,293.8 730.9,294.6 730.4,295.6 730.9,296.4 731.8,295.9 732.2,296.8 731.6,297.7 731.9,298.7 732.9,298.4 733.2,299.4 732.4,300.2 732.6,301.3 733.5,301.2 733.6,302.3 732.7,303 732.8,304.1 733.6,304.2 733.5,305.4 732.6,306 732.5,307.2 733.3,307.4 733,308.7 732.1,309.1 731.8,310.3 732.4,310.7 732,312 731.1,312.2 730.6,313.4 731.2,314 730.6,315.2 729.7,315.2 729.1,316.3 729.5,317.1 728.7,318.2 727.9,318.1 727.2,319.1 727.4,320 726.6,321 725.8,320.6 725,321.5 725.1,322.5 724.2,323.4 723.5,322.9 722.6,323.6 722.6,324.7 721.5,325.4 721,324.7 720,325.3 719.8,326.4 718.8,326.9 718.4,326.1 717.4,326.5 717.1,327.6 716,327.9 715.8,327 714.8,327.2 714.3,328.2 713.3,328.3 713.2,327.3 712.3,327.3 711.7,328.3 710.7,328.2 710.8,327.1 709.9,326.9 709.2,327.8 708.3,327.5 708.6,326.4 707.8,326 707,326.7 706.2,326.2 706.6,325.1 706,324.5 705.1,325.2 704.5,324.4 705,323.4 704.5,322.6 703.6,323.1 703.2,322.2 703.8,321.3 703.5,320.3 702.5,320.6 702.2,319.6 703,318.8 702.8,317.7 701.9,317.8 701.8,316.7 702.7,316 702.6,314.9 701.8,314.8 701.9,313.6 702.8,313 702.9,311.8 702.1,311.6 702.4,310.3 703.3,309.9 703.6,308.7 703,308.3 703.4,307 704.3,306.8 704.8,305.6 704.2,305 704.8,303.8 705.7,303.8 706.3,302.7 705.9,301.9 706.7,300.8 707.5,300.9 708.2,299.9 708,299 708.8,298 709.6,298.4 710.4,297.5 710.3,296.5 711.2,295.6 711.9,296.1 712.8,295.4 712.8,294.3 713.9,293.6 714.4,294.3 715.4,293.7 715.6,292.6 716.6,292.1 717,292.9 718,292.5 718.3,291.4 719.4,291.1 719.6,292 720.6,291.8 721.1,290.8 722.1,290.7 722.2,291.7 723.1,291.7 723.7,290.7 724.7,290.8 724.6,291.9 725.5,292.1 726.2,291.2 727.1,291.5 726.8,292.6" fill="#fff" stroke="#111" stroke-width="1.0" stroke-linejoin="round"/>
<ellipse cx="718.2" cy="309.8" rx="7.5" ry="5.2" transform="rotate(-59 718.2 309.8)" fill="#fff" stroke="#111" stroke-width="1.9"/>
<line x1="713.7" y1="314.5" x2="717.1" y2="316.6" stroke="#111" stroke-width="1.3"/>
<line x1="713" y1="311.2" x2="716.4" y2="313.3" stroke="#111" stroke-width="1.3"/>
<line x1="714.2" y1="307.4" x2="717.7" y2="309.5" stroke="#111" stroke-width="1.3"/>
<line x1="717" y1="304.5" x2="720.5" y2="306.6" stroke="#111" stroke-width="1.3"/>
<line x1="720.3" y1="303.6" x2="723.7" y2="305.7" stroke="#111" stroke-width="1.3"/>
<polyline points="741.1,332.1 740.3,332.2 739.5,332.3 738.7,332.2 738.1,331.9 737.5,331.6 736.9,331.1 736.5,330.5 736.1,329.8 735.9,329 735.8,328.1 735.8,327.2 735.9,326.3 736.1,325.3 736.5,324.4 736.9,323.4 737.4,322.5 738,321.7 738.7,320.9 739.4,320.3 740.2,319.7 741,319.3 741.8,319 742.6,318.8 743.4,318.7 744.2,318.8 744.9,319 745.5,319.4 746,319.9 746.5,320.5 746.8,321.1 747.1,321.9 747.2,322.8 747.2,323.7 747.1,324.6 746.9,325.6 746.6,326.5 746.2,327.5 745.6,328.4 745,329.2 744.4,330" fill="none" stroke="#111" stroke-width="1.7"/>
<circle cx="744.1" cy="329.6" r="1.2" fill="#fff" stroke="#111" stroke-width="0.9"/>
<circle cx="741.1" cy="331.5" r="1.2" fill="#fff" stroke="#111" stroke-width="0.9"/>
<polygon points="748.8,334.8 748.5,334.5 748.2,334.2 748,333.8 747.8,333.4 747.7,333 747.6,332.5 747.6,331.9 747.7,331.4 747.8,330.8 748,330.3 748.2,329.7 748.5,329.2 748.8,328.7 749.2,328.2 749.6,327.8 750,327.4 750.5,327.1 751,326.9 751.4,326.7 751.9,326.6 752.4,326.6 752.8,326.6 753.2,326.7 753.6,326.9 759.2,330.2 759.5,330.5 759.8,330.8 760,331.2 760.2,331.6 760.3,332 760.4,332.5 760.4,333.1 760.3,333.6 760.2,334.2 760,334.7 759.8,335.3 759.5,335.8 759.2,336.3 758.8,336.8 758.4,337.2 758,337.6 757.5,337.9 757,338.1 756.6,338.3 756.1,338.4 755.6,338.4 755.2,338.4 754.8,338.3 754.4,338.1" fill="#fff" stroke="#111" stroke-width="1.1" stroke-linejoin="round"/>
<ellipse cx="756.8" cy="334.2" rx="4.6" ry="3.2" transform="rotate(-59 756.8 334.2)" fill="#fff" stroke="#111" stroke-width="1.1"/>
<ellipse cx="756.8" cy="334.2" rx="3.2" ry="2.2" transform="rotate(-59 756.8 334.2)" fill="#fff" stroke="#111" stroke-width="1.1"/>
<ellipse cx="756.8" cy="334.2" rx="3.2" ry="2.2" transform="rotate(-59 756.8 334.2)" fill="#333" stroke="#111" stroke-width="1.0"/>
<polyline points="801.9,330.5 801,331.2 800.1,331.8 799.2,332.2 798.3,332.5 797.3,332.6 796.5,332.6 795.6,332.4 794.9,332 794.2,331.5 793.7,330.9 793.2,330.1 792.9,329.3 792.7,328.3 792.6,327.3 792.7,326.3 792.9,325.2 793.2,324.1 793.6,323 794.2,321.9 794.8,320.9 795.6,320 796.4,319.2 797.3,318.5 798.2,317.9 799.1,317.4 800,317.2 801,317 801.8,317 802.7,317.2 803.4,317.5 804.1,318 804.7,318.6 805.1,319.4 805.5,320.2 805.7,321.1 805.8,322.2 805.7,323.2 805.6,324.3 805.3,325.4 804.8,326.5" fill="none" stroke="#111" stroke-width="1.4"/>
<circle cx="804.4" cy="326.4" r="1.2" fill="#fff" stroke="#111" stroke-width="0.9"/>
<circle cx="801.7" cy="330.1" r="1.2" fill="#fff" stroke="#111" stroke-width="0.9"/>
<polygon points="770.6,345.4 770.3,345.2 770.1,345 770,344.7 769.8,344.4 769.7,344 769.7,343.6 769.7,343.2 769.8,342.8 769.9,342.4 770.1,342 770.2,341.6 770.5,341.2 770.7,340.8 771,340.5 771.4,340.2 771.7,339.9 772.1,339.7 772.4,339.5 772.8,339.4 773.1,339.3 773.5,339.3 773.8,339.3 774.1,339.4 774.4,339.6 779.4,342.9 779.7,343.1 779.9,343.3 780.1,343.6 780.2,343.9 780.3,344.3 780.3,344.6 780.3,345.1 780.2,345.5 780.1,345.9 780,346.3 779.8,346.7 779.5,347.1 779.3,347.5 779,347.8 778.7,348.1 778.3,348.4 778,348.6 777.6,348.8 777.2,348.9 776.9,349 776.5,349 776.2,349 775.9,348.9 775.6,348.7" fill="#fff" stroke="#111" stroke-width="1.1" stroke-linejoin="round"/>
<ellipse cx="777.5" cy="345.8" rx="3.5" ry="2.4" transform="rotate(-56.8 777.5 345.8)" fill="#fff" stroke="#111" stroke-width="1.1"/>
<polygon points="785,339.9 786.4,338.5 787.3,339.4 786.2,341.1 786.7,342.1 788.4,341.4 788.7,342.8 787.2,344.1 787.2,345.4 788.7,345.5 788.4,347.2 786.7,347.7 786.2,349.1 787.3,350 786.4,351.6 785,351.2 784,352.4 784.5,354 783.1,355.2 782.2,354 781,354.8 780.8,356.7 779.3,357.2 779,355.5 777.8,355.7 776.9,357.5 775.6,357.3 776.1,355.4 775.1,355 773.7,356.4 772.7,355.5 773.9,353.7 773.3,352.7 771.7,353.5 771.4,352 772.9,350.8 772.9,349.5 771.4,349.4 771.7,347.7 773.3,347.2 773.9,345.8 772.7,344.9 773.7,343.3 775.1,343.6 776.1,342.4 775.6,340.9 776.9,339.7 777.9,340.8 779,340.1 779.3,338.2 780.8,337.6 781,339.3 782.2,339.2 783.1,337.3 784.5,337.5 784,339.4" fill="#333" stroke="#111" stroke-width="0.9" stroke-linejoin="round"/>
<polygon points="774.8,355.4 774.4,355 774,354.6 773.6,354.2 773.3,353.7 773,353.1 772.8,352.5 772.6,351.9 772.5,351.2 772.5,350.5 772.5,349.8 772.6,349 772.7,348.3 772.9,347.5 773.1,346.8 773.4,346 773.7,345.3 774.1,344.5 774.5,343.8 775,343.2 775.5,342.5 776.1,341.9 776.7,341.3 777.3,340.8 777.9,340.3 778.5,339.9 779.2,339.6 779.8,339.3 780.5,339 781.1,338.9 781.8,338.7 782.4,338.7 783,338.7 783.6,338.8 784.2,339 784.7,339.2 785.2,339.5 793.6,345 794.1,345.3 794.5,345.7 794.8,346.2 795.2,346.7 795.4,347.2 795.6,347.8 795.8,348.5 795.9,349.1 796,349.8 795.9,350.5 795.9,351.3 795.7,352 795.6,352.8 795.3,353.6 795,354.3 794.7,355.1 794.3,355.8 793.9,356.5 793.4,357.2 792.9,357.8 792.4,358.4 791.8,359 791.2,359.5 790.5,360 789.9,360.4 789.3,360.8 788.6,361.1 787.9,361.3 787.3,361.5 786.6,361.6 786,361.6 785.4,361.6 784.8,361.5 784.2,361.4 783.7,361.1 783.2,360.9" fill="#333" stroke="none" stroke-width="0" stroke-linejoin="round"/>
<polygon points="793.3,345.4 794.8,343.9 795.7,344.9 794.6,346.6 795.1,347.6 796.7,346.8 797.1,348.3 795.5,349.5 795.5,350.9 797.1,350.9 796.7,352.7 795.1,353.1 794.6,354.5 795.7,355.4 794.7,357.1 793.3,356.7 792.4,357.9 792.9,359.4 791.5,360.6 790.6,359.5 789.4,360.3 789.1,362.1 787.6,362.7 787.4,361 786.2,361.2 785.3,363 783.9,362.8 784.4,360.9 783.5,360.4 782,361.9 781.1,361 782.2,359.2 781.7,358.2 780.1,359 779.7,357.5 781.3,356.3 781.3,354.9 779.7,354.9 780.1,353.2 781.7,352.7 782.2,351.3 781.1,350.4 782,348.7 783.5,349.1 784.4,347.9 783.9,346.4 785.3,345.2 786.2,346.3 787.4,345.5 787.7,343.7 789.1,343.1 789.4,344.8 790.6,344.6 791.5,342.8 792.9,343 792.4,344.9" fill="#444" stroke="#111" stroke-width="0.9" stroke-linejoin="round"/>
<line x1="787.3" y1="341.2" x2="793.9" y2="344.5" stroke="#bbb" stroke-width="0.7"/>
<line x1="772.7" y1="353.7" x2="782.9" y2="361.3" stroke="#bbb" stroke-width="0.7"/>
<line x1="772.1" y1="350.1" x2="781" y2="358.8" stroke="#bbb" stroke-width="0.7"/>
<line x1="773" y1="346" x2="780.5" y2="355.2" stroke="#bbb" stroke-width="0.7"/>
<line x1="775.3" y1="342.2" x2="781.6" y2="351.1" stroke="#bbb" stroke-width="0.7"/>
<line x1="778.5" y1="339.5" x2="784" y2="347.4" stroke="#bbb" stroke-width="0.7"/>
<line x1="782.1" y1="338.3" x2="787.3" y2="344.7" stroke="#bbb" stroke-width="0.7"/>
<line x1="785.2" y1="338.9" x2="790.8" y2="343.7" stroke="#bbb" stroke-width="0.7"/>
<ellipse cx="788.4" cy="352.9" rx="6.5" ry="4.5" transform="rotate(-56.8 788.4 352.9)" fill="#fff" stroke="#111" stroke-width="0.9"/>
<polygon points="786.5,359.5 786,359.1 785.6,358.7 785.3,358.1 785,357.5 784.9,356.9 784.8,356.1 784.8,355.4 785,354.6 785.2,353.8 785.5,353 785.8,352.2 786.3,351.5 786.8,350.8 787.3,350.2 787.9,349.6 788.6,349.1 789.2,348.7 789.9,348.3 790.6,348.1 791.3,348 792,347.9 792.6,348 793.2,348.2 793.7,348.5 795.4,349.6 795.8,349.9 796.2,350.4 796.5,350.9 796.8,351.6 796.9,352.2 797,353 797,353.7 796.9,354.5 796.6,355.3 796.4,356.1 796,356.8 795.6,357.6 795.1,358.3 794.5,358.9 793.9,359.5 793.2,360 792.6,360.4 791.9,360.8 791.2,361 790.5,361.1 789.9,361.2 789.2,361.1 788.7,360.9 788.1,360.6" fill="#fff" stroke="#111" stroke-width="1.1" stroke-linejoin="round"/>
<ellipse cx="791.7" cy="355.1" rx="6.6" ry="4.6" transform="rotate(-56.8 791.7 355.1)" fill="#fff" stroke="#111" stroke-width="1.1"/>
<polygon points="788.1,360.7 787.6,360.3 787.2,359.9 786.9,359.3 786.6,358.7 786.5,358 786.4,357.3 786.4,356.5 786.6,355.7 786.8,354.9 787.1,354.1 787.4,353.3 787.9,352.6 788.4,351.9 789,351.2 789.6,350.6 790.2,350.1 790.9,349.7 791.6,349.3 792.3,349.1 793,349 793.7,348.9 794.3,349 794.9,349.2 795.4,349.5 838.9,378 839.4,378.3 839.8,378.8 840.1,379.4 840.4,380 840.5,380.7 840.6,381.4 840.6,382.2 840.4,383 840.2,383.8 839.9,384.6 839.6,385.3 839.1,386.1 838.6,386.8 838,387.5 837.4,388.1 836.8,388.6 836.1,389 835.4,389.3 834.7,389.6 834,389.7 833.3,389.7 832.7,389.6 832.1,389.5 831.6,389.2" fill="#fff" stroke="#111" stroke-width="1.1" stroke-linejoin="round"/>
<ellipse cx="835.3" cy="383.6" rx="6.7" ry="4.6" transform="rotate(-56.8 835.3 383.6)" fill="#fff" stroke="#111" stroke-width="1.1"/>
<polygon points="831.5,389.3 831.1,388.9 830.6,388.4 830.3,387.8 830.1,387.2 829.9,386.5 829.8,385.8 829.9,385 830,384.2 830.2,383.4 830.5,382.6 830.9,381.8 831.3,381 831.9,380.3 832.4,379.6 833.1,379 833.7,378.5 834.4,378.1 835.1,377.7 835.8,377.5 836.5,377.4 837.2,377.3 837.8,377.4 838.4,377.6 839,377.9 842.3,380.1 842.8,380.5 843.2,380.9 843.5,381.5 843.8,382.1 843.9,382.8 844,383.6 844,384.3 843.9,385.1 843.7,386 843.4,386.8 843,387.6 842.5,388.3 842,389 841.4,389.7 840.8,390.3 840.1,390.8 839.5,391.3 838.7,391.6 838,391.8 837.3,392 836.7,392 836,391.9 835.4,391.7 834.9,391.4" fill="#fff" stroke="#111" stroke-width="1.1" stroke-linejoin="round"/>
<ellipse cx="838.6" cy="385.8" rx="6.8" ry="4.7" transform="rotate(-56.8 838.6 385.8)" fill="#fff" stroke="#111" stroke-width="1.1"/>
<polygon points="836.3,389.3 836,389 835.8,388.7 835.6,388.4 835.4,388 835.3,387.6 835.3,387.1 835.3,386.6 835.4,386.1 835.5,385.6 835.7,385.1 835.9,384.6 836.2,384.2 836.5,383.7 836.9,383.3 837.2,382.9 837.7,382.6 838.1,382.4 838.5,382.2 839,382 839.4,381.9 839.8,381.9 840.2,382 840.6,382.1 840.9,382.2 852.6,389.9 852.9,390.1 853.2,390.4 853.4,390.8 853.5,391.2 853.6,391.6 853.7,392.1 853.6,392.5 853.6,393 853.4,393.5 853.3,394 853,394.5 852.7,395 852.4,395.5 852.1,395.9 851.7,396.2 851.3,396.6 850.8,396.8 850.4,397 850,397.2 849.5,397.3 849.1,397.3 848.7,397.2 848.4,397.1 848,396.9" fill="#fff" stroke="#111" stroke-width="1.1" stroke-linejoin="round"/>
<ellipse cx="850.3" cy="393.4" rx="4.2" ry="2.9" transform="rotate(-56.8 850.3 393.4)" fill="#fff" stroke="#111" stroke-width="1.1"/>
<polygon points="848.9,395.6 848.7,395.5 848.6,395.3 848.4,395.1 848.3,394.8 848.3,394.6 848.3,394.3 848.3,394 848.3,393.7 848.4,393.3 848.5,393 848.6,392.7 848.8,392.4 849,392.2 849.2,391.9 849.5,391.7 849.7,391.5 850,391.3 850.3,391.2 850.5,391.1 850.8,391 851.1,391 851.3,391.1 851.5,391.1 851.7,391.2 858.4,395.6 858.6,395.8 858.8,396 858.9,396.2 859,396.4 859.1,396.7 859.1,397 859.1,397.3 859,397.6 858.9,397.9 858.8,398.2 858.7,398.5 858.5,398.8 858.3,399.1 858.1,399.3 857.9,399.5 857.6,399.7 857.3,399.9 857.1,400 856.8,400.1 856.5,400.2 856.3,400.2 856,400.2 855.8,400.1 855.6,400" fill="#fff" stroke="#111" stroke-width="1.1" stroke-linejoin="round"/>
<ellipse cx="857" cy="397.8" rx="2.6" ry="1.8" transform="rotate(-56.8 857 397.8)" fill="#fff" stroke="#111" stroke-width="1.1"/>
<polyline points="791.4,362.9 790.4,361.8 789.9,360.3 789.8,358.5 790.3,356.6 791.2,354.8 792.5,353.1 794.1,351.9 795.8,351.3 797.4,351.2 798.8,351.7" fill="none" stroke="#111" stroke-width="0.8"/>
<polyline points="808.2,373.8 807.1,372.8 806.6,371.3 806.5,369.5 807,367.6 808,365.7 809.3,364.1 810.9,362.9 812.5,362.2 814.1,362.1 815.5,362.6" fill="none" stroke="#111" stroke-width="0.8"/>
<line x1="836.7" y1="388.8" x2="847.6" y2="395.9" stroke="#333" stroke-width="1.2"/>
<line x1="836.4" y1="387.3" x2="847.2" y2="394.4" stroke="#333" stroke-width="1.2"/>
<line x1="836.8" y1="385.6" x2="847.7" y2="392.7" stroke="#333" stroke-width="1.2"/>
<line x1="837.9" y1="384" x2="848.8" y2="391.1" stroke="#333" stroke-width="1.2"/>
<line x1="839.4" y1="383" x2="850.2" y2="390.1" stroke="#333" stroke-width="1.2"/>
<line x1="840.8" y1="382.8" x2="851.7" y2="389.9" stroke="#333" stroke-width="1.2"/>
<line x1="799.4" y1="333" x2="799.4" y2="349" stroke="#111" stroke-width="0.8"/>
<polygon points="865.1,412.3 864.5,411.8 864,411.1 863.7,410.3 863.5,409.5 863.4,408.5 863.4,407.5 863.6,406.4 863.8,405.2 864.2,404.1 864.8,402.9 865.4,401.8 866.1,400.7 866.9,399.7 867.8,398.7 868.7,397.9 869.7,397.1 870.7,396.5 871.7,396 872.7,395.7 873.6,395.5 874.6,395.4 875.4,395.5 876.2,395.7 876.9,396.1 880.1,398.5 880.7,399 881.2,399.7 881.5,400.5 881.7,401.3 881.8,402.3 881.8,403.3 881.6,404.4 881.4,405.6 881,406.7 880.4,407.9 879.8,409 879.1,410.1 878.3,411.1 877.4,412.1 876.5,412.9 875.5,413.7 874.5,414.3 873.5,414.8 872.5,415.1 871.6,415.3 870.6,415.4 869.8,415.3 869,415.1 868.3,414.7" fill="#fff" stroke="#111" stroke-width="1.1" stroke-linejoin="round"/>
<ellipse cx="874.2" cy="406.6" rx="10" ry="6" transform="rotate(-54 874.2 406.6)" fill="#fff" stroke="#111" stroke-width="1.1"/>
<ellipse cx="874.2" cy="406.6" rx="7.2" ry="4.3" transform="rotate(-54 874.2 406.6)" fill="none" stroke="#111" stroke-width="3.4"/>
<ellipse cx="874.2" cy="406.6" rx="5.2" ry="3.1" transform="rotate(-54 874.2 406.6)" fill="#fff" stroke="#111" stroke-width="0.8"/>
<polygon points="773.9,265.2 773.7,265.3 773.5,265.4 773.3,265.5 773.1,265.5 772.8,265.5 772.5,265.5 772.3,265.4 772,265.3 771.7,265.1 771.4,264.9 771.2,264.7 770.9,264.5 770.7,264.3 770.5,264 770.3,263.7 770.1,263.5 770,263.2 769.9,262.9 769.9,262.6 769.8,262.4 769.9,262.1 769.9,261.9 770,261.7 770.1,261.6 772.2,259.4 772.4,259.3 772.6,259.2 772.8,259.1 773,259.1 773.3,259.1 773.5,259.2 773.8,259.3 774.1,259.4 774.4,259.5 774.7,259.7 774.9,259.9 775.2,260.1 775.4,260.4 775.6,260.6 775.8,260.9 776,261.2 776.1,261.5 776.2,261.7 776.2,262 776.3,262.3 776.2,262.5 776.2,262.7 776.1,262.9 776,263.1" fill="#fff" stroke="#111" stroke-width="1.1" stroke-linejoin="round"/>
<ellipse cx="774.1" cy="261.3" rx="2.6" ry="1.6" transform="rotate(-135.7 774.1 261.3)" fill="#fff" stroke="#111" stroke-width="1.1"/>
<polygon points="777.5,264.6 777.2,264.8 776.9,265 776.5,265.1 776.1,265.2 775.6,265.2 775.1,265.1 774.6,264.9 774.1,264.7 773.6,264.4 773,264.1 772.5,263.7 772.1,263.3 771.7,262.9 771.3,262.4 770.9,261.9 770.6,261.4 770.4,260.8 770.2,260.3 770.1,259.8 770.1,259.4 770.2,258.9 770.3,258.5 770.4,258.2 770.7,257.9 791.6,236.4 791.9,236.2 792.3,236 792.6,235.9 793.1,235.8 793.5,235.9 794,236 794.6,236.1 795.1,236.3 795.6,236.6 796.1,236.9 796.6,237.3 797.1,237.7 797.5,238.2 797.9,238.7 798.2,239.2 798.5,239.7 798.7,240.2 798.9,240.7 799,241.2 799,241.7 799,242.1 798.9,242.5 798.7,242.8 798.5,243.1" fill="#fff" stroke="#111" stroke-width="1.1" stroke-linejoin="round"/>
<ellipse cx="795" cy="239.8" rx="4.8" ry="2.9" transform="rotate(-135.7 795 239.8)" fill="#fff" stroke="#111" stroke-width="1.1"/>
<polygon points="797.9,242.6 797.7,242.8 797.4,242.9 797.1,243 796.7,243.1 796.3,243 795.9,243 795.5,242.8 795,242.7 794.6,242.4 794.2,242.2 793.8,241.8 793.4,241.5 793,241.1 792.7,240.7 792.4,240.3 792.2,239.9 792,239.4 791.8,239 791.8,238.6 791.7,238.2 791.8,237.9 791.8,237.5 792,237.2 792.2,237 793.6,235.6 793.8,235.4 794.1,235.2 794.4,235.1 794.8,235.1 795.2,235.1 795.6,235.2 796,235.3 796.5,235.5 796.9,235.7 797.3,236 797.7,236.3 798.1,236.6 798.5,237 798.8,237.4 799.1,237.8 799.3,238.3 799.5,238.7 799.7,239.1 799.7,239.5 799.8,239.9 799.7,240.3 799.6,240.6 799.5,240.9 799.3,241.1" fill="#fff" stroke="#111" stroke-width="1.1" stroke-linejoin="round"/>
<ellipse cx="796.4" cy="238.4" rx="4" ry="2.4" transform="rotate(-135.7 796.4 238.4)" fill="#fff" stroke="#111" stroke-width="1.1"/>
<polygon points="798.4,240.3 798.3,240.4 798.1,240.6 797.8,240.6 797.6,240.6 797.3,240.6 797,240.6 796.7,240.5 796.4,240.4 796.1,240.2 795.8,240 795.5,239.8 795.3,239.6 795,239.3 794.8,239 794.6,238.7 794.4,238.4 794.3,238.1 794.2,237.8 794.1,237.5 794.1,237.3 794.1,237 794.2,236.8 794.3,236.6 794.4,236.4 804.2,226.4 804.4,226.2 804.6,226.1 804.8,226.1 805.1,226 805.3,226 805.6,226.1 805.9,226.2 806.2,226.3 806.5,226.5 806.8,226.7 807.1,226.9 807.4,227.1 807.6,227.4 807.9,227.7 808.1,228 808.2,228.3 808.4,228.6 808.5,228.9 808.5,229.2 808.5,229.4 808.5,229.7 808.5,229.9 808.4,230.1 808.2,230.3" fill="#fff" stroke="#111" stroke-width="1.1" stroke-linejoin="round"/>
<ellipse cx="806.2" cy="228.3" rx="2.8" ry="1.7" transform="rotate(-135.7 806.2 228.3)" fill="#fff" stroke="#111" stroke-width="1.1"/>
<polygon points="808.7,230.7 808.4,230.9 808.2,231 807.9,231.1 807.6,231.1 807.3,231.1 806.9,231 806.6,230.9 806.2,230.8 805.8,230.6 805.5,230.4 805.1,230.1 804.8,229.8 804.5,229.5 804.2,229.1 804,228.8 803.8,228.4 803.6,228 803.5,227.7 803.4,227.3 803.4,227 803.4,226.7 803.5,226.4 803.6,226.2 803.8,226 805.2,224.5 805.4,224.4 805.6,224.2 805.9,224.1 806.2,224.1 806.6,224.1 806.9,224.2 807.3,224.3 807.6,224.4 808,224.6 808.4,224.9 808.7,225.1 809,225.4 809.3,225.8 809.6,226.1 809.9,226.5 810.1,226.8 810.2,227.2 810.3,227.5 810.4,227.9 810.4,228.2 810.4,228.5 810.3,228.8 810.2,229.1 810.1,229.3" fill="#fff" stroke="#111" stroke-width="1.1" stroke-linejoin="round"/>
<ellipse cx="807.6" cy="226.9" rx="3.4" ry="2" transform="rotate(-135.7 807.6 226.9)" fill="#fff" stroke="#111" stroke-width="1.1"/>
<polygon points="810.2,229.4 810,229.6 809.7,229.7 809.4,229.8 809.1,229.9 808.7,229.8 808.4,229.8 808,229.7 807.6,229.5 807.2,229.3 806.8,229 806.5,228.8 806.1,228.4 805.8,228.1 805.5,227.7 805.2,227.4 805,227 804.9,226.6 804.7,226.2 804.7,225.8 804.6,225.5 804.7,225.2 804.7,224.9 804.9,224.6 805,224.4 807.1,222.2 807.4,222.1 807.6,221.9 807.9,221.8 808.2,221.8 808.6,221.8 809,221.9 809.3,222 809.7,222.2 810.1,222.4 810.5,222.6 810.9,222.9 811.2,223.2 811.5,223.5 811.8,223.9 812.1,224.3 812.3,224.7 812.5,225.1 812.6,225.4 812.7,225.8 812.7,226.2 812.7,226.5 812.6,226.8 812.5,227 812.3,227.3" fill="#333" stroke="#111" stroke-width="1.1" stroke-linejoin="round"/>
<ellipse cx="809.7" cy="224.8" rx="3.6" ry="2.2" transform="rotate(-135.7 809.7 224.8)" fill="#333" stroke="#111" stroke-width="1.1"/>
<line x1="777.7" y1="264" x2="794.7" y2="244" stroke="#111" stroke-width="1.1"/>
<line x1="776" y1="264.3" x2="792.6" y2="242.7" stroke="#111" stroke-width="1.1"/>
<line x1="774" y1="263.4" x2="791.1" y2="240.7" stroke="#111" stroke-width="1.1"/>
<line x1="772.1" y1="261.7" x2="790.5" y2="238.7" stroke="#111" stroke-width="1.1"/>
<line x1="771.1" y1="259.7" x2="791.1" y2="237.3" stroke="#111" stroke-width="1.1"/>
<ellipse cx="815" cy="214" rx="3" ry="2.3" transform="rotate(20 815 214)" fill="#111"/>
<line x1="455" y1="271" x2="600" y2="356" stroke="#111" stroke-width="0.8"/>
<polyline points="463.4,283.8 462.5,284 461.7,284 460.9,283.9 460.1,283.6 459.5,283.2 458.9,282.7 458.4,282.1 458,281.3 457.8,280.4 457.6,279.5 457.6,278.5 457.8,277.4 458,276.4 458.4,275.3 458.8,274.3 459.4,273.3 460.1,272.4 460.8,271.6 461.6,270.9 462.5,270.3 463.4,269.8 464.3,269.4 465.2,269.2 466,269.2 466.8,269.3 467.6,269.5 468.3,269.9 468.9,270.4 469.4,271.1 469.7,271.8 470,272.7 470.1,273.6 470.2,274.6 470.1,275.6 469.8,276.7 469.5,277.7 469,278.8 468.4,279.7 467.8,280.7 467,281.5" fill="none" stroke="#111" stroke-width="1.7"/>
<circle cx="466.8" cy="281.1" r="1.2" fill="#fff" stroke="#111" stroke-width="0.9"/>
<circle cx="463.5" cy="283.3" r="1.2" fill="#fff" stroke="#111" stroke-width="0.9"/>
<polygon points="487.3,278.2 489,276.2 490.1,277 488.6,279.4 489.2,280.3 491.3,279 491.8,280.4 489.9,282.1 490,283.4 492.2,283 492.1,284.7 489.9,285.6 489.6,287.1 491.5,287.6 490.8,289.4 488.8,289.4 488.1,290.7 489.4,292.2 488.2,293.8 486.6,292.7 485.6,293.8 486.1,296 484.7,297.1 483.7,295.3 482.5,295.9 482.2,298.4 480.7,298.9 480.6,296.5 479.4,296.6 478.3,299.1 476.9,298.9 477.6,296.3 476.7,295.9 474.9,298 473.9,297.1 475.4,294.8 474.8,293.8 472.7,295.2 472.1,293.8 474.1,292 473.9,290.7 471.8,291.1 471.9,289.4 474,288.5 474.3,287.1 472.5,286.5 473.1,284.7 475.2,284.8 475.9,283.4 474.6,281.9 475.8,280.4 477.4,281.4 478.4,280.3 477.9,278.1 479.3,277 480.2,278.9 481.4,278.2 481.8,275.7 483.3,275.2 483.4,277.6 484.6,277.5 485.7,275 487.1,275.2 486.3,277.8" fill="#333" stroke="#111" stroke-width="0.9" stroke-linejoin="round"/>
<polygon points="476.7,295.9 476.2,295.5 475.7,295.1 475.3,294.6 474.9,294.1 474.6,293.5 474.3,292.9 474.1,292.2 474,291.5 473.9,290.7 473.9,289.9 474,289.1 474.1,288.3 474.2,287.5 474.4,286.6 474.7,285.8 475.1,285 475.5,284.2 475.9,283.4 476.4,282.7 476.9,281.9 477.5,281.2 478.1,280.6 478.7,280 479.4,279.5 480,279 480.7,278.6 481.4,278.2 482.1,278 482.8,277.7 483.5,277.6 484.2,277.5 484.9,277.5 485.5,277.6 486.2,277.7 486.7,278 487.3,278.2 492,281.1 492.5,281.4 493,281.8 493.4,282.3 493.8,282.9 494.1,283.4 494.3,284.1 494.5,284.8 494.7,285.5 494.8,286.2 494.8,287 494.7,287.8 494.6,288.7 494.5,289.5 494.2,290.3 494,291.2 493.6,292 493.2,292.8 492.8,293.6 492.3,294.3 491.8,295 491.2,295.7 490.6,296.4 490,296.9 489.3,297.5 488.6,298 488,298.4 487.3,298.7 486.6,299 485.8,299.2 485.2,299.4 484.5,299.4 483.8,299.4 483.2,299.4 482.5,299.2 481.9,299 481.4,298.7" fill="#333" stroke="none" stroke-width="0" stroke-linejoin="round"/>
<polygon points="493.9,279.1 494.6,279.7 489.9,276.9 489.2,276.3" fill="#e8e8e8" stroke="none" stroke-width="0" stroke-linejoin="round"/>
<polygon points="482.8,301.9 481.8,301.8 477.1,298.9 478.1,299.1" fill="#e8e8e8" stroke="none" stroke-width="0" stroke-linejoin="round"/>
<polygon points="479.5,300.7 478.8,300.1 474,297.2 474.8,297.9" fill="#e8e8e8" stroke="none" stroke-width="0" stroke-linejoin="round"/>
<polygon points="477.3,297.8 476.9,296.8 472.2,294 472.6,295" fill="#e8e8e8" stroke="none" stroke-width="0" stroke-linejoin="round"/>
<polygon points="476.5,293.8 476.6,292.5 471.8,289.6 471.8,290.9" fill="#e8e8e8" stroke="none" stroke-width="0" stroke-linejoin="round"/>
<polygon points="477.3,289.1 477.8,287.8 473,284.9 472.6,286.3" fill="#e8e8e8" stroke="none" stroke-width="0" stroke-linejoin="round"/>
<polygon points="479.5,284.5 480.3,283.4 475.6,280.6 474.8,281.7" fill="#e8e8e8" stroke="none" stroke-width="0" stroke-linejoin="round"/>
<polygon points="482.8,280.8 483.8,280 479.1,277.2 478.1,278" fill="#e8e8e8" stroke="none" stroke-width="0" stroke-linejoin="round"/>
<polygon points="486.7,278.5 487.8,278.1 483.1,275.3 482,275.6" fill="#e8e8e8" stroke="none" stroke-width="0" stroke-linejoin="round"/>
<polygon points="490.6,277.9 491.6,278 486.9,275.2 485.9,275" fill="#e8e8e8" stroke="none" stroke-width="0" stroke-linejoin="round"/>
<polygon points="492,281.1 493.8,279 494.8,279.9 493.3,282.2 493.9,283.1 496,281.8 496.5,283.2 494.6,285 494.8,286.2 496.9,285.8 496.8,287.6 494.7,288.5 494.4,289.9 496.2,290.5 495.5,292.3 493.5,292.2 492.8,293.6 494.1,295 492.9,296.6 491.3,295.6 490.3,296.7 490.8,298.8 489.4,299.9 488.4,298.1 487.3,298.7 486.9,301.3 485.4,301.7 485.3,299.4 484.1,299.5 483,301.9 481.6,301.7 482.4,299.2 481.4,298.7 479.6,300.8 478.6,299.9 480.1,297.6 479.5,296.7 477.4,298 476.9,296.6 478.8,294.8 478.6,293.6 476.5,294 476.6,292.2 478.7,291.3 479,289.9 477.2,289.3 477.9,287.5 479.9,287.6 480.6,286.2 479.3,284.8 480.5,283.2 482.1,284.2 483.1,283.1 482.6,281 484,279.9 485,281.7 486.1,281.1 486.5,278.5 488,278.1 488.1,280.4 489.3,280.3 490.4,277.9 491.8,278.1 491,280.6" fill="#fff" stroke="#111" stroke-width="0.9" stroke-linejoin="round"/>
<ellipse cx="486.7" cy="289.9" rx="6" ry="4.1" transform="rotate(-59 486.7 289.9)" fill="#fff" stroke="#111" stroke-width="0.9"/>
<polygon points="500.4,308.8 499.7,308.4 499.2,307.8 498.7,307.1 498.4,306.3 498.2,305.4 498.1,304.5 498.1,303.5 498.2,302.5 498.4,301.4 498.7,300.4 499.2,299.4 499.7,298.4 500.3,297.5 501,296.6 501.8,295.8 502.6,295.1 503.4,294.5 504.3,294.1 505.2,293.7 506.1,293.5 506.9,293.5 507.7,293.5 508.5,293.7 509.2,294.1 527,304.8 527.7,305.2 528.2,305.8 528.7,306.5 529,307.3 529.2,308.2 529.3,309.1 529.3,310.1 529.2,311.1 529,312.2 528.7,313.2 528.2,314.2 527.7,315.2 527.1,316.1 526.4,317 525.6,317.8 524.8,318.5 524,319.1 523.1,319.5 522.2,319.9 521.3,320.1 520.5,320.1 519.7,320.1 518.9,319.9 518.2,319.5" fill="#fff" stroke="#111" stroke-width="1.1" stroke-linejoin="round"/>
<ellipse cx="522.6" cy="312.2" rx="8.6" ry="5.9" transform="rotate(-59 522.6 312.2)" fill="#fff" stroke="#111" stroke-width="1.1"/>
<ellipse cx="522.6" cy="312.2" rx="6" ry="4.1" transform="rotate(-59 522.6 312.2)" fill="#fff" stroke="#111" stroke-width="1.1"/>
<polygon points="559.5,305.4 561.4,302.8 562.3,303.4 560.8,306.2 561.5,306.9 563.6,304.6 564.4,305.4 562.5,308 563.1,308.8 565.4,306.9 566,307.9 563.9,310.2 564.3,311.2 566.8,309.6 567.2,310.7 564.9,312.8 565.2,313.9 567.7,312.7 567.9,314 565.5,315.7 565.6,316.8 568.1,316.1 568.1,317.5 565.6,318.8 565.6,320 568,319.7 567.9,321.1 565.3,322 565.1,323.3 567.4,323.5 567.1,324.9 564.6,325.3 564.2,326.6 566.4,327.3 565.8,328.7 563.5,328.6 562.9,329.9 564.8,331 564.1,332.4 561.9,331.8 561.2,333 562.9,334.6 562,335.9 560,334.9 559.2,336 560.6,337.9 559.6,339.1 557.9,337.7 557,338.7 557.9,340.9 556.8,342 555.4,340.2 554.4,341 555,343.6 553.9,344.4 552.8,342.3 551.8,343 552,345.7 550.8,346.4 550.1,343.9 549,344.5 548.8,347.4 547.6,347.9 547.2,345.2 546.2,345.5 545.6,348.5 544.4,348.7 544.5,345.9 543.4,346 542.4,349 541.3,349 541.7,346.1 540.8,346 539.4,348.9 538.3,348.7 539.2,345.7 538.3,345.5 536.6,348.3 535.6,347.9 536.8,344.9 536,344.5 534.1,347 533.2,346.4 534.8,343.6 534,342.9 531.9,345.2 531.1,344.4 533,341.8 532.4,341 530.1,343 529.5,342 531.6,339.6 531.2,338.6 528.7,340.2 528.3,339.1 530.6,337 530.3,336 527.8,337.1 527.6,335.9 530,334.2 529.9,333 527.4,333.7 527.4,332.4 529.9,331.1 529.9,329.8 527.5,330.1 527.6,328.7 530.2,327.8 530.4,326.6 528.1,326.3 528.4,324.9 530.9,324.5 531.3,323.2 529.1,322.6 529.7,321.1 532.1,321.2 532.6,320 530.7,318.8 531.4,317.4 533.6,318 534.3,316.8 532.6,315.3 533.5,313.9 535.5,314.9 536.3,313.8 535,311.9 535.9,310.7 537.7,312.1 538.6,311.2 537.6,308.9 538.7,307.8 540.1,309.7 541.1,308.8 540.5,306.3 541.6,305.4 542.7,307.6 543.7,306.9 543.6,304.1 544.8,303.4 545.5,305.9 546.5,305.4 546.7,302.4 548,302 548.3,304.7 549.3,304.3 549.9,301.3 551.1,301.1 551.1,304 552.1,303.8 553.1,300.8 554.2,300.8 553.8,303.8 554.8,303.8 556.1,300.9 557.2,301.1 556.3,304.1 557.2,304.3 558.9,301.6 559.9,302 558.7,304.9" fill="#333" stroke="#111" stroke-width="1.1" stroke-linejoin="round"/>
<polygon points="536,344.5 534.9,343.7 533.9,342.7 532.9,341.7 532.1,340.5 531.4,339.2 530.8,337.8 530.4,336.3 530.1,334.7 529.9,333 529.9,331.3 530,329.5 530.2,327.7 530.6,325.8 531.1,324 531.7,322.1 532.4,320.3 533.3,318.5 534.3,316.8 535.3,315.1 536.5,313.5 537.8,312 539.1,310.6 540.5,309.3 542,308.1 543.4,307.1 545,306.1 546.5,305.4 548.1,304.7 549.6,304.3 551.2,303.9 552.7,303.8 554.2,303.8 555.6,303.9 557,304.3 558.3,304.7 559.5,305.4 564.6,308.5 565.8,309.2 566.8,310.2 567.7,311.2 568.5,312.4 569.2,313.7 569.8,315.1 570.3,316.6 570.6,318.2 570.7,319.9 570.8,321.6 570.7,323.4 570.4,325.2 570.1,327.1 569.6,328.9 569,330.8 568.2,332.6 567.4,334.4 566.4,336.1 565.3,337.8 564.1,339.4 562.9,340.9 561.6,342.3 560.2,343.6 558.7,344.8 557.2,345.8 555.7,346.8 554.1,347.5 552.6,348.2 551,348.7 549.5,349 548,349.1 546.5,349.1 545,349 543.7,348.7 542.4,348.2 541.2,347.5" fill="#333" stroke="none" stroke-width="0" stroke-linejoin="round"/>
<polygon points="566.7,306 567.3,306.4 562.2,303.3 561.6,302.9" fill="#e8e8e8" stroke="none" stroke-width="0" stroke-linejoin="round"/>
<polygon points="568.9,307.8 569.4,308.4 564.3,305.3 563.7,304.7" fill="#e8e8e8" stroke="none" stroke-width="0" stroke-linejoin="round"/>
<polygon points="544.4,352 543.6,351.9 538.5,348.8 539.3,348.9" fill="#e8e8e8" stroke="none" stroke-width="0" stroke-linejoin="round"/>
<polygon points="541.6,351.3 540.9,351 535.7,347.9 536.5,348.2" fill="#e8e8e8" stroke="none" stroke-width="0" stroke-linejoin="round"/>
<polygon points="539.1,350 538.5,349.6 533.3,346.5 534,346.9" fill="#e8e8e8" stroke="none" stroke-width="0" stroke-linejoin="round"/>
<polygon points="536.9,348.2 536.4,347.6 531.2,344.5 531.8,345.1" fill="#e8e8e8" stroke="none" stroke-width="0" stroke-linejoin="round"/>
<polygon points="535.1,345.9 534.7,345.2 529.6,342.1 530,342.8" fill="#e8e8e8" stroke="none" stroke-width="0" stroke-linejoin="round"/>
<polygon points="533.8,343.2 533.5,342.3 528.4,339.2 528.6,340.1" fill="#e8e8e8" stroke="none" stroke-width="0" stroke-linejoin="round"/>
<polygon points="532.9,340 532.8,339.1 527.6,336 527.8,337" fill="#e8e8e8" stroke="none" stroke-width="0" stroke-linejoin="round"/>
<polygon points="532.5,336.6 532.5,335.6 527.4,332.5 527.4,333.5" fill="#e8e8e8" stroke="none" stroke-width="0" stroke-linejoin="round"/>
<polygon points="532.6,333 532.8,332 527.6,328.9 527.5,329.9" fill="#e8e8e8" stroke="none" stroke-width="0" stroke-linejoin="round"/>
<polygon points="533.3,329.2 533.5,328.2 528.4,325.1 528.1,326.2" fill="#e8e8e8" stroke="none" stroke-width="0" stroke-linejoin="round"/>
<polygon points="534.4,325.5 534.7,324.4 529.6,321.3 529.2,322.4" fill="#e8e8e8" stroke="none" stroke-width="0" stroke-linejoin="round"/>
<polygon points="535.9,321.7 536.4,320.7 531.3,317.6 530.8,318.6" fill="#e8e8e8" stroke="none" stroke-width="0" stroke-linejoin="round"/>
<polygon points="537.9,318.2 538.5,317.2 533.4,314.1 532.7,315.1" fill="#e8e8e8" stroke="none" stroke-width="0" stroke-linejoin="round"/>
<polygon points="540.2,314.8 540.9,314 535.8,310.9 535.1,311.8" fill="#e8e8e8" stroke="none" stroke-width="0" stroke-linejoin="round"/>
<polygon points="542.9,311.8 543.7,311.1 538.5,308 537.7,308.8" fill="#e8e8e8" stroke="none" stroke-width="0" stroke-linejoin="round"/>
<polygon points="545.8,309.2 546.6,308.6 541.5,305.5 540.6,306.1" fill="#e8e8e8" stroke="none" stroke-width="0" stroke-linejoin="round"/>
<polygon points="548.9,307.1 549.7,306.6 544.6,303.5 543.7,304" fill="#e8e8e8" stroke="none" stroke-width="0" stroke-linejoin="round"/>
<polygon points="552,305.5 552.9,305.1 547.8,302 546.9,302.4" fill="#e8e8e8" stroke="none" stroke-width="0" stroke-linejoin="round"/>
<polygon points="555.2,304.4 556.1,304.2 551,301.1 550.1,301.3" fill="#e8e8e8" stroke="none" stroke-width="0" stroke-linejoin="round"/>
<polygon points="558.4,303.9 559.2,303.9 554.1,300.8 553.2,300.8" fill="#e8e8e8" stroke="none" stroke-width="0" stroke-linejoin="round"/>
<polygon points="561.4,304 562.2,304.1 557,301.1 556.2,300.9" fill="#e8e8e8" stroke="none" stroke-width="0" stroke-linejoin="round"/>
<polygon points="564.2,304.7 564.9,305 559.8,301.9 559,301.6" fill="#e8e8e8" stroke="none" stroke-width="0" stroke-linejoin="round"/>
<polygon points="564.6,308.5 566.6,305.9 567.5,306.5 565.9,309.3 566.6,310 568.8,307.7 569.5,308.5 567.7,311.1 568.2,311.9 570.6,310 571.2,310.9 569.1,313.3 569.5,314.3 572,312.7 572.4,313.8 570.1,315.9 570.3,317 572.9,315.8 573.1,317.1 570.6,318.8 570.7,319.9 573.3,319.2 573.3,320.6 570.8,321.8 570.7,323.1 573.2,322.8 573,324.2 570.5,325.1 570.2,326.3 572.6,326.6 572.2,328 569.7,328.4 569.4,329.7 571.5,330.4 571,331.8 568.6,331.7 568.1,332.9 570,334.1 569.3,335.5 567.1,334.9 566.4,336.1 568,337.7 567.2,339 565.2,338 564.4,339.1 565.7,341 564.7,342.2 563,340.8 562.1,341.7 563.1,344 562,345.1 560.6,343.2 559.6,344.1 560.2,346.6 559,347.5 557.9,345.4 556.9,346 557.1,348.8 555.9,349.5 555.2,347 554.1,347.5 553.9,350.5 552.7,350.9 552.4,348.2 551.3,348.6 550.7,351.6 549.5,351.8 549.6,349 548.6,349.1 547.6,352.1 546.4,352.1 546.9,349.2 545.9,349.1 544.6,352 543.5,351.8 544.3,348.8 543.4,348.6 541.8,351.3 540.8,350.9 542,348 541.2,347.5 539.2,350.1 538.3,349.5 539.9,346.7 539.2,346 537,348.3 536.3,347.5 538.1,344.9 537.6,344.1 535.2,346 534.6,345.1 536.7,342.7 536.3,341.7 533.8,343.3 533.4,342.2 535.7,340.1 535.5,339 532.9,340.2 532.7,338.9 535.2,337.2 535.1,336.1 532.5,336.8 532.5,335.4 535,334.2 535.1,332.9 532.6,333.2 532.8,331.8 535.3,330.9 535.6,329.7 533.2,329.4 533.6,328 536.1,327.6 536.4,326.3 534.3,325.6 534.8,324.2 537.2,324.3 537.7,323.1 535.8,321.9 536.5,320.5 538.7,321.1 539.4,319.9 537.8,318.3 538.6,317 540.6,318 541.4,316.9 540.1,315 541.1,313.8 542.8,315.2 543.7,314.3 542.7,312 543.8,310.9 545.2,312.8 546.2,311.9 545.6,309.4 546.8,308.5 547.9,310.6 548.9,310 548.7,307.2 549.9,306.5 550.6,309 551.7,308.5 551.9,305.5 553.1,305.1 553.4,307.8 554.5,307.4 555.1,304.4 556.3,304.2 556.2,307 557.2,306.9 558.2,303.9 559.4,303.9 558.9,306.8 559.9,306.9 561.2,304 562.3,304.2 561.5,307.2 562.4,307.4 564,304.7 565,305.1 563.8,308" fill="#fff" stroke="#111" stroke-width="1.1" stroke-linejoin="round"/>
<ellipse cx="552.9" cy="328" rx="20" ry="13.8" transform="rotate(-59 552.9 328)" fill="#fff" stroke="#111" stroke-width="1.3"/>
<ellipse cx="562.4" cy="316.2" rx="3" ry="2.1" transform="rotate(-59 562.4 316.2)" fill="#fff" stroke="#111" stroke-width="1.0"/>
<ellipse cx="564.9" cy="323.1" rx="3" ry="2.1" transform="rotate(-59 564.9 323.1)" fill="#fff" stroke="#111" stroke-width="1.0"/>
<ellipse cx="562.8" cy="331.9" rx="3" ry="2.1" transform="rotate(-59 562.8 331.9)" fill="#fff" stroke="#111" stroke-width="1.0"/>
<ellipse cx="556.9" cy="339.2" rx="3" ry="2.1" transform="rotate(-59 556.9 339.2)" fill="#fff" stroke="#111" stroke-width="1.0"/>
<ellipse cx="549.5" cy="342.2" rx="3" ry="2.1" transform="rotate(-59 549.5 342.2)" fill="#fff" stroke="#111" stroke-width="1.0"/>
<ellipse cx="543.4" cy="339.8" rx="3" ry="2.1" transform="rotate(-59 543.4 339.8)" fill="#fff" stroke="#111" stroke-width="1.0"/>
<ellipse cx="540.9" cy="332.9" rx="3" ry="2.1" transform="rotate(-59 540.9 332.9)" fill="#fff" stroke="#111" stroke-width="1.0"/>
<ellipse cx="543" cy="324.1" rx="3" ry="2.1" transform="rotate(-59 543 324.1)" fill="#fff" stroke="#111" stroke-width="1.0"/>
<ellipse cx="548.9" cy="316.8" rx="3" ry="2.1" transform="rotate(-59 548.9 316.8)" fill="#fff" stroke="#111" stroke-width="1.0"/>
<ellipse cx="556.3" cy="313.8" rx="3" ry="2.1" transform="rotate(-59 556.3 313.8)" fill="#fff" stroke="#111" stroke-width="1.0"/>
<ellipse cx="553.2" cy="328.3" rx="10.5" ry="7.2" transform="rotate(-59 553.2 328.3)" fill="#fff" stroke="#111" stroke-width="2.2"/>
<ellipse cx="553.4" cy="328.4" rx="7.2" ry="5" transform="rotate(-59 553.4 328.4)" fill="#fff" stroke="#111" stroke-width="1.0"/>
<line x1="549.1" y1="332.9" x2="552.5" y2="335" stroke="#111" stroke-width="1.3"/>
<line x1="548.4" y1="329.8" x2="551.8" y2="331.8" stroke="#111" stroke-width="1.3"/>
<line x1="549.6" y1="326.1" x2="553" y2="328.2" stroke="#111" stroke-width="1.3"/>
<line x1="552.3" y1="323.3" x2="555.7" y2="325.4" stroke="#111" stroke-width="1.3"/>
<line x1="555.4" y1="322.5" x2="558.8" y2="324.5" stroke="#111" stroke-width="1.3"/>
<polyline points="577.5,353.5 576.6,353.7 575.8,353.7 575,353.6 574.2,353.3 573.6,352.9 573,352.4 572.5,351.8 572.1,351 571.9,350.1 571.7,349.2 571.7,348.2 571.9,347.1 572.1,346.1 572.5,345 572.9,344 573.5,343 574.2,342.1 574.9,341.3 575.7,340.6 576.6,340 577.5,339.5 578.4,339.1 579.3,338.9 580.1,338.9 580.9,339 581.7,339.2 582.4,339.6 583,340.1 583.5,340.8 583.8,341.5 584.1,342.4 584.2,343.3 584.3,344.3 584.2,345.3 583.9,346.4 583.6,347.4 583.1,348.5 582.5,349.4 581.9,350.4 581.1,351.2" fill="none" stroke="#111" stroke-width="1.7"/>
<circle cx="580.9" cy="350.8" r="1.2" fill="#fff" stroke="#111" stroke-width="0.9"/>
<circle cx="577.6" cy="353" r="1.2" fill="#fff" stroke="#111" stroke-width="0.9"/>
<polygon points="591.5,361.9 591.1,361.6 590.6,361.2 590.3,360.7 590,360.1 589.8,359.5 589.6,358.8 589.6,358 589.6,357.3 589.8,356.5 590,355.7 590.2,354.9 590.6,354.2 591,353.4 591.5,352.8 592,352.1 592.6,351.6 593.2,351.1 593.8,350.7 594.5,350.5 595.1,350.3 595.7,350.2 596.3,350.2 596.9,350.3 597.5,350.5 600.1,351.9 600.6,352.2 601,352.6 601.4,353.1 601.7,353.7 601.9,354.3 602,355 602.1,355.7 602,356.5 601.9,357.3 601.7,358.1 601.4,358.9 601.1,359.6 600.7,360.3 600.2,361 599.6,361.6 599.1,362.2 598.5,362.7 597.8,363 597.2,363.3 596.6,363.5 595.9,363.6 595.3,363.6 594.7,363.5 594.2,363.3" fill="#fff" stroke="#111" stroke-width="1.1" stroke-linejoin="round"/>
<ellipse cx="597.2" cy="357.6" rx="6.4" ry="4.4" transform="rotate(-62.5 597.2 357.6)" fill="#fff" stroke="#111" stroke-width="1.1"/>
<polygon points="593.9,363.8 593.4,363.5 592.9,363 592.5,362.5 592.2,361.8 592,361.2 591.8,360.4 591.8,359.6 591.8,358.8 592,357.9 592.2,357 592.5,356.2 592.9,355.4 593.3,354.6 593.9,353.8 594.4,353.1 595.1,352.5 595.7,352 596.4,351.6 597.1,351.3 597.8,351.1 598.5,351 599.2,351 599.8,351.1 600.4,351.4 637.6,370.8 638.2,371.1 638.6,371.6 639,372.1 639.4,372.7 639.6,373.4 639.7,374.2 639.8,375 639.7,375.8 639.6,376.7 639.4,377.5 639.1,378.4 638.7,379.2 638.2,380 637.7,380.7 637.1,381.4 636.5,382 635.8,382.5 635.2,382.9 634.5,383.3 633.8,383.5 633.1,383.6 632.4,383.6 631.8,383.4 631.2,383.2" fill="#fff" stroke="#111" stroke-width="1.1" stroke-linejoin="round"/>
<ellipse cx="634.4" cy="377" rx="7" ry="4.8" transform="rotate(-62.5 634.4 377)" fill="#fff" stroke="#111" stroke-width="1.1"/>
<polygon points="631.2,383.2 630.7,382.8 630.2,382.4 629.8,381.9 629.5,381.2 629.2,380.5 629.1,379.8 629,379 629.1,378.2 629.2,377.3 629.4,376.4 629.7,375.6 630.1,374.7 630.6,374 631.1,373.2 631.7,372.5 632.3,371.9 633,371.4 633.7,371 634.4,370.7 635.1,370.5 635.8,370.4 636.4,370.4 637.1,370.5 637.6,370.8 658.9,381.9 659.5,382.2 659.9,382.6 660.3,383.2 660.6,383.8 660.9,384.5 661,385.2 661.1,386.1 661,386.9 660.9,387.7 660.7,388.6 660.4,389.5 660,390.3 659.5,391.1 659,391.8 658.4,392.5 657.8,393.1 657.1,393.6 656.4,394 655.7,394.3 655,394.6 654.4,394.7 653.7,394.6 653.1,394.5 652.5,394.3" fill="#fff" stroke="#111" stroke-width="1.1" stroke-linejoin="round"/>
<ellipse cx="655.7" cy="388.1" rx="7" ry="4.8" transform="rotate(-62.5 655.7 388.1)" fill="#fff" stroke="#111" stroke-width="1.1"/>
<polygon points="652.3,394.5 651.8,394.2 651.3,393.7 650.9,393.2 650.6,392.5 650.3,391.8 650.2,391 650.1,390.2 650.1,389.3 650.3,388.4 650.5,387.5 650.8,386.6 651.2,385.7 651.7,384.9 652.3,384.1 652.9,383.4 653.5,382.8 654.2,382.3 654.9,381.8 655.7,381.5 656.4,381.3 657.1,381.2 657.8,381.2 658.5,381.3 659.1,381.6 661.3,382.7 661.8,383.1 662.3,383.6 662.7,384.1 663.1,384.8 663.3,385.5 663.5,386.3 663.5,387.1 663.5,388 663.3,388.9 663.1,389.8 662.8,390.7 662.4,391.5 661.9,392.4 661.4,393.1 660.8,393.8 660.1,394.5 659.4,395 658.7,395.4 658,395.8 657.2,396 656.5,396.1 655.8,396.1 655.2,395.9 654.6,395.7" fill="#fff" stroke="#111" stroke-width="1.1" stroke-linejoin="round"/>
<ellipse cx="657.9" cy="389.2" rx="7.3" ry="5" transform="rotate(-62.5 657.9 389.2)" fill="#fff" stroke="#111" stroke-width="1.1"/>
<polygon points="655.4,394 655,393.7 654.7,393.4 654.4,393 654.1,392.5 653.9,392 653.8,391.4 653.8,390.8 653.8,390.1 653.9,389.5 654.1,388.8 654.3,388.1 654.6,387.5 655,386.9 655.4,386.3 655.8,385.8 656.3,385.3 656.8,384.9 657.3,384.6 657.9,384.4 658.4,384.2 659,384.1 659.5,384.1 660,384.2 660.4,384.4 667.5,388.1 667.9,388.4 668.3,388.7 668.6,389.1 668.8,389.6 669,390.2 669.1,390.7 669.2,391.4 669.1,392 669,392.7 668.9,393.3 668.6,394 668.3,394.6 668,395.2 667.6,395.8 667.1,396.3 666.6,396.8 666.1,397.2 665.6,397.5 665.1,397.8 664.5,397.9 664,398 663.5,398 663,397.9 662.5,397.7" fill="#fff" stroke="#111" stroke-width="1.1" stroke-linejoin="round"/>
<ellipse cx="665" cy="392.9" rx="5.4" ry="3.7" transform="rotate(-62.5 665 392.9)" fill="#fff" stroke="#111" stroke-width="1.1"/>
<line x1="595.5" y1="363.4" x2="629.2" y2="380.9" stroke="#222" stroke-width="1.5"/>
<line x1="595.1" y1="359.1" x2="628.8" y2="376.6" stroke="#222" stroke-width="1.5"/>
<line x1="597.3" y1="354.9" x2="631" y2="372.5" stroke="#222" stroke-width="1.5"/>
<line x1="600.9" y1="352.9" x2="634.6" y2="370.5" stroke="#222" stroke-width="1.5"/>
<ellipse cx="665" cy="392.9" rx="1.5" ry="1" transform="rotate(-62.5 665 392.9)" fill="#fff" stroke="#111" stroke-width="0.8"/>
<line x1="335" y1="279" x2="530" y2="389" stroke="#111" stroke-width="0.8"/>
<ellipse cx="342.6" cy="283.9" rx="8.6" ry="5.9" transform="rotate(-59 342.6 283.9)" fill="#fff" stroke="#111" stroke-width="1.0"/>
<ellipse cx="342.6" cy="283.9" rx="5.5" ry="3.8" transform="rotate(-59 342.6 283.9)" fill="#fff" stroke="#111" stroke-width="0.9"/>
<polygon points="354.4,299.8 353.8,299.3 353.2,298.7 352.7,298 352.4,297.2 352.1,296.3 352,295.3 352,294.3 352.1,293.2 352.4,292.1 352.7,291 353.2,289.9 353.7,288.9 354.4,287.9 355.1,287 355.9,286.2 356.8,285.5 357.7,284.9 358.6,284.4 359.5,284 360.4,283.8 361.3,283.8 362.2,283.8 363,284 363.7,284.4 380,294.2 380.6,294.7 381.2,295.3 381.7,296 382,296.8 382.3,297.7 382.4,298.7 382.4,299.7 382.3,300.8 382,301.9 381.7,303 381.2,304.1 380.7,305.1 380,306.1 379.3,307 378.5,307.8 377.6,308.5 376.7,309.1 375.8,309.6 374.9,310 374,310.2 373.1,310.2 372.2,310.2 371.4,310 370.7,309.6" fill="#fff" stroke="#111" stroke-width="1.1" stroke-linejoin="round"/>
<ellipse cx="375.3" cy="301.9" rx="9" ry="6.2" transform="rotate(-59 375.3 301.9)" fill="#fff" stroke="#111" stroke-width="1.1"/>
<ellipse cx="375.3" cy="301.9" rx="7" ry="4.8" transform="rotate(-59 375.3 301.9)" fill="#fff" stroke="#111" stroke-width="1.1"/>
<ellipse cx="389.1" cy="311" rx="8.7" ry="6" transform="rotate(-59 389.1 311)" fill="#fff" stroke="#111" stroke-width="1.0"/>
<ellipse cx="389.1" cy="311" rx="5.5" ry="3.8" transform="rotate(-59 389.1 311)" fill="#fff" stroke="#111" stroke-width="0.9"/>
<polygon points="410.8,311.8 412.7,309.5 413.8,310.5 412.2,313 412.9,314 415.1,312.5 415.7,314 413.6,315.9 413.8,317.3 416.1,316.8 416,318.7 413.7,319.7 413.3,321.2 415.3,321.8 414.6,323.7 412.4,323.7 411.7,325.1 413,326.7 411.8,328.4 410.1,327.3 409,328.4 409.5,330.8 408,331.9 407,330 405.8,330.6 405.4,333.3 403.8,333.9 403.7,331.3 402.4,331.4 401.2,334.1 399.7,333.9 400.5,331.1 399.5,330.6 397.6,332.9 396.5,331.9 398.1,329.4 397.4,328.4 395.2,329.9 394.6,328.4 396.7,326.5 396.6,325.1 394.3,325.6 394.3,323.7 396.7,322.7 397,321.2 395,320.6 395.7,318.7 397.9,318.7 398.7,317.3 397.3,315.7 398.5,314 400.2,315.1 401.3,314 400.8,311.7 402.3,310.5 403.3,312.5 404.6,311.8 404.9,309.1 406.5,308.6 406.7,311.1 407.9,311 409.1,308.3 410.6,308.6 409.8,311.3" fill="#333" stroke="#111" stroke-width="0.9" stroke-linejoin="round"/>
<polygon points="399.5,330.6 398.9,330.3 398.4,329.8 398,329.3 397.6,328.7 397.3,328.1 397,327.4 396.8,326.7 396.6,325.9 396.6,325.1 396.5,324.3 396.6,323.4 396.7,322.5 396.9,321.7 397.1,320.8 397.4,319.9 397.8,319 398.2,318.1 398.7,317.3 399.2,316.5 399.7,315.7 400.3,315 401,314.3 401.7,313.7 402.4,313.1 403.1,312.6 403.8,312.2 404.6,311.8 405.3,311.5 406.1,311.2 406.8,311.1 407.5,311 408.3,311 408.9,311.1 409.6,311.2 410.2,311.5 410.8,311.8 416,314.9 416.5,315.2 417,315.7 417.5,316.2 417.8,316.8 418.2,317.4 418.5,318.1 418.7,318.8 418.8,319.6 418.9,320.4 418.9,321.2 418.9,322.1 418.8,323 418.6,323.9 418.4,324.7 418.1,325.6 417.7,326.5 417.3,327.4 416.8,328.2 416.3,329 415.7,329.8 415.1,330.5 414.5,331.2 413.8,331.8 413.1,332.4 412.4,332.9 411.6,333.4 410.9,333.7 410.1,334 409.4,334.3 408.6,334.4 407.9,334.5 407.2,334.5 406.5,334.4 405.9,334.3 405.2,334 404.6,333.7" fill="#333" stroke="none" stroke-width="0" stroke-linejoin="round"/>
<polygon points="418,312.7 418.8,313.4 413.6,310.3 412.8,309.7" fill="#e8e8e8" stroke="none" stroke-width="0" stroke-linejoin="round"/>
<polygon points="406.2,337.2 405.1,337 399.9,333.9 401,334.1" fill="#e8e8e8" stroke="none" stroke-width="0" stroke-linejoin="round"/>
<polygon points="402.6,335.9 401.8,335.2 396.7,332.1 397.5,332.8" fill="#e8e8e8" stroke="none" stroke-width="0" stroke-linejoin="round"/>
<polygon points="400.2,332.8 399.8,331.7 394.7,328.6 395.1,329.7" fill="#e8e8e8" stroke="none" stroke-width="0" stroke-linejoin="round"/>
<polygon points="399.4,328.4 399.5,327.1 394.3,324 394.3,325.3" fill="#e8e8e8" stroke="none" stroke-width="0" stroke-linejoin="round"/>
<polygon points="400.2,323.4 400.7,322 395.6,318.9 395.1,320.3" fill="#e8e8e8" stroke="none" stroke-width="0" stroke-linejoin="round"/>
<polygon points="402.6,318.6 403.5,317.3 398.3,314.3 397.4,315.5" fill="#e8e8e8" stroke="none" stroke-width="0" stroke-linejoin="round"/>
<polygon points="406.1,314.6 407.2,313.7 402.1,310.6 401,311.5" fill="#e8e8e8" stroke="none" stroke-width="0" stroke-linejoin="round"/>
<polygon points="410.3,312.1 411.5,311.7 406.3,308.6 405.1,309" fill="#e8e8e8" stroke="none" stroke-width="0" stroke-linejoin="round"/>
<polygon points="414.4,311.4 415.5,311.6 410.4,308.5 409.3,308.3" fill="#e8e8e8" stroke="none" stroke-width="0" stroke-linejoin="round"/>
<polygon points="416,314.9 417.8,312.6 418.9,313.6 417.4,316.1 418,317.1 420.3,315.6 420.8,317.1 418.7,319 418.9,320.4 421.2,319.9 421.1,321.8 418.8,322.8 418.5,324.3 420.5,324.9 419.8,326.8 417.6,326.8 416.8,328.2 418.2,329.8 417,331.5 415.2,330.4 414.1,331.5 414.7,333.8 413.2,335 412.2,333 410.9,333.7 410.5,336.4 408.9,337 408.8,334.4 407.6,334.5 406.3,337.2 404.9,336.9 405.7,334.2 404.6,333.7 402.8,336 401.7,335 403.2,332.5 402.6,331.5 400.3,333 399.8,331.5 401.9,329.6 401.7,328.2 399.4,328.7 399.5,326.8 401.8,325.8 402.1,324.3 400.1,323.7 400.8,321.8 403,321.8 403.8,320.4 402.4,318.8 403.6,317.1 405.4,318.2 406.5,317.1 405.9,314.8 407.4,313.6 408.4,315.6 409.7,314.9 410.1,312.2 411.7,311.6 411.8,314.2 413,314.1 414.3,311.4 415.7,311.7 414.9,314.4" fill="#fff" stroke="#111" stroke-width="0.9" stroke-linejoin="round"/>
<ellipse cx="410.3" cy="324.3" rx="7.5" ry="5.2" transform="rotate(-59 410.3 324.3)" fill="#fff" stroke="#111" stroke-width="0.9"/>
<ellipse cx="410.3" cy="324.3" rx="6" ry="4.1" transform="rotate(-59 410.3 324.3)" fill="#fff" stroke="#111" stroke-width="0.8"/>
<polygon points="427.8,352 426.7,351.2 425.8,350.2 425,349 424.4,347.6 424,346.1 423.8,344.5 423.8,342.8 424,341 424.4,339.2 425,337.4 425.7,335.6 426.6,333.9 427.7,332.3 428.9,330.8 430.3,329.4 431.7,328.2 433.1,327.2 434.7,326.4 436.2,325.9 437.7,325.5 439.2,325.4 440.6,325.5 441.9,325.9 443.1,326.4 448.3,329.5 449.4,330.3 450.3,331.3 451.1,332.5 451.7,333.9 452.1,335.4 452.3,337 452.3,338.7 452.1,340.5 451.7,342.3 451.1,344.1 450.3,345.9 449.4,347.6 448.3,349.2 447.1,350.7 445.8,352.1 444.4,353.3 442.9,354.3 441.4,355.1 439.9,355.7 438.4,356 436.9,356.1 435.5,356 434.1,355.7 432.9,355.1" fill="#fff" stroke="#111" stroke-width="1.3" stroke-linejoin="round"/>
<ellipse cx="440.6" cy="342.3" rx="14.9" ry="10.3" transform="rotate(-59 440.6 342.3)" fill="#fff" stroke="#111" stroke-width="1.3"/>
<polyline points="436.5,355.3 434.2,355.2 432.2,354.6 430.5,353.4 429.1,351.8 428.2,349.7 427.7,347.2 427.7,344.5 428.2,341.7 429.1,338.9 430.5,336.2 432.2,333.8 434.3,331.6 436.5,329.9 438.9,328.6 441.3,327.9 443.5,327.7 445.7,328.1 447.5,329.1 449,330.6 450.2,332.6" fill="none" stroke="#111" stroke-width="0.9"/>
<polyline points="435.2,354.5 433,354.5 430.9,353.8 429.2,352.7 427.8,351 426.9,348.9 426.4,346.4 426.4,343.8 426.9,341 427.8,338.2 429.2,335.5 431,333 433,330.8 435.2,329.1 437.6,327.8 440,327.1 442.3,326.9 444.4,327.4 446.2,328.3 447.8,329.8 448.9,331.8" fill="none" stroke="#111" stroke-width="0.9"/>
<polyline points="433.9,353.8 431.7,353.7 429.6,353.1 427.9,351.9 426.5,350.2 425.6,348.1 425.1,345.7 425.1,343 425.6,340.2 426.6,337.4 427.9,334.7 429.7,332.2 431.7,330.1 433.9,328.3 436.3,327 438.7,326.3 441,326.2 443.1,326.6 445,327.6 446.5,329.1 447.6,331" fill="none" stroke="#111" stroke-width="0.9"/>
<ellipse cx="440.6" cy="342.3" rx="14.9" ry="10.3" transform="rotate(-59 440.6 342.3)" fill="#fff" stroke="#111" stroke-width="1.4"/>
<ellipse cx="440.6" cy="342.3" rx="12.8" ry="8.8" transform="rotate(-59 440.6 342.3)" fill="none" stroke="#111" stroke-width="1.0"/>
<ellipse cx="440.9" cy="342.5" rx="9.3" ry="6.4" transform="rotate(-59 440.9 342.5)" fill="#fff" stroke="#111" stroke-width="1.6"/>
<line x1="438.1" y1="350.8" x2="440.7" y2="352.4" stroke="#111" stroke-width="1.6"/>
<line x1="434.8" y1="348.8" x2="437.4" y2="350.4" stroke="#111" stroke-width="1.6"/>
<line x1="433.9" y1="344.4" x2="436.4" y2="346" stroke="#111" stroke-width="1.6"/>
<line x1="435.6" y1="339.3" x2="438.1" y2="340.8" stroke="#111" stroke-width="1.6"/>
<line x1="439.3" y1="335.4" x2="441.9" y2="336.9" stroke="#111" stroke-width="1.6"/>
<line x1="443.7" y1="334.2" x2="446.2" y2="335.7" stroke="#111" stroke-width="1.6"/>
<line x1="447" y1="336.2" x2="449.5" y2="337.7" stroke="#111" stroke-width="1.6"/>
<polygon points="448.1,339 447.7,342.5 450.1,342 450.5,338.5" fill="#444" stroke="#111" stroke-width="0.8" stroke-linejoin="round"/>
<polygon points="443.3,349.2 440.4,350.8 440.8,353.3 443.7,351.7" fill="#444" stroke="#111" stroke-width="0.8" stroke-linejoin="round"/>
<polygon points="434.8,349.8 433.4,347.4 431.3,349.4 432.6,351.9" fill="#444" stroke="#111" stroke-width="0.8" stroke-linejoin="round"/>
<polygon points="434.3,340.1 436.4,336.9 434.6,335.7 432.6,338.8" fill="#444" stroke="#111" stroke-width="0.8" stroke-linejoin="round"/>
<polygon points="442.5,333.4 445.2,333.9 446.3,331.1 443.6,330.6" fill="#444" stroke="#111" stroke-width="0.8" stroke-linejoin="round"/>
<polygon points="454.1,356.9 453.7,356.6 453.4,356.3 453.1,355.9 452.9,355.4 452.7,354.9 452.6,354.3 452.6,353.7 452.6,353.1 452.8,352.4 452.9,351.8 453.2,351.1 453.5,350.5 453.9,349.9 454.3,349.4 454.8,348.9 455.2,348.4 455.8,348.1 456.3,347.8 456.8,347.5 457.4,347.4 457.9,347.3 458.4,347.4 458.9,347.5 459.3,347.7 466.3,351.6 466.7,351.9 467,352.2 467.3,352.6 467.5,353.1 467.7,353.7 467.8,354.2 467.8,354.8 467.7,355.5 467.6,356.1 467.4,356.8 467.2,357.4 466.9,358 466.5,358.6 466.1,359.2 465.6,359.7 465.1,360.1 464.6,360.5 464.1,360.8 463.5,361 463,361.1 462.5,361.2 462,361.2 461.5,361 461.1,360.8" fill="#fff" stroke="#111" stroke-width="1.1" stroke-linejoin="round"/>
<ellipse cx="463.7" cy="356.2" rx="5.3" ry="3.7" transform="rotate(-60.6 463.7 356.2)" fill="#fff" stroke="#111" stroke-width="1.1"/>
<polygon points="460.4,362 459.9,361.6 459.5,361.2 459.2,360.7 458.9,360.1 458.7,359.4 458.6,358.7 458.5,358 458.6,357.2 458.8,356.4 459,355.6 459.3,354.8 459.7,354 460.2,353.3 460.7,352.6 461.2,352 461.9,351.4 462.5,351 463.2,350.6 463.8,350.3 464.5,350.1 465.1,350.1 465.8,350.1 466.4,350.2 466.9,350.5 486.1,361.3 486.6,361.6 487,362.1 487.3,362.6 487.6,363.2 487.8,363.8 487.9,364.5 488,365.3 487.9,366.1 487.7,366.9 487.5,367.7 487.2,368.5 486.8,369.3 486.3,370 485.8,370.7 485.3,371.3 484.7,371.8 484,372.3 483.4,372.7 482.7,372.9 482,373.1 481.4,373.2 480.7,373.2 480.1,373 479.6,372.8" fill="#fff" stroke="#111" stroke-width="1.1" stroke-linejoin="round"/>
<ellipse cx="482.8" cy="367" rx="6.6" ry="4.6" transform="rotate(-60.6 482.8 367)" fill="#fff" stroke="#111" stroke-width="1.1"/>
<polygon points="478.6,374.5 478,374.1 477.4,373.5 477,372.8 476.6,372.1 476.3,371.2 476.2,370.3 476.2,369.3 476.2,368.3 476.4,367.2 476.8,366.2 477.2,365.1 477.7,364.1 478.3,363.2 478.9,362.3 479.7,361.5 480.5,360.8 481.3,360.2 482.2,359.7 483,359.3 483.9,359.1 484.8,359 485.6,359 486.3,359.2 487.1,359.5 508.8,371.8 509.5,372.3 510,372.8 510.5,373.5 510.9,374.3 511.1,375.1 511.3,376.1 511.3,377 511.2,378.1 511,379.1 510.7,380.2 510.3,381.2 509.8,382.2 509.2,383.2 508.5,384.1 507.8,384.9 507,385.6 506.1,386.2 505.3,386.7 504.4,387 503.5,387.2 502.7,387.3 501.9,387.3 501.1,387.1 500.4,386.8" fill="#fff" stroke="#111" stroke-width="1.1" stroke-linejoin="round"/>
<ellipse cx="504.6" cy="379.3" rx="8.6" ry="5.9" transform="rotate(-60.6 504.6 379.3)" fill="#fff" stroke="#111" stroke-width="1.1"/>
<polygon points="501.5,384.9 501,384.5 500.6,384.1 500.2,383.6 500,383 499.8,382.4 499.7,381.7 499.7,381 499.7,380.2 499.9,379.4 500.1,378.6 500.4,377.9 500.8,377.1 501.2,376.4 501.7,375.8 502.3,375.2 502.9,374.6 503.5,374.2 504.1,373.8 504.8,373.6 505.4,373.4 506,373.3 506.7,373.4 507.2,373.5 507.8,373.7 516.5,378.6 516.9,379 517.4,379.4 517.7,379.9 518,380.5 518.2,381.1 518.3,381.8 518.3,382.5 518.2,383.3 518.1,384.1 517.9,384.9 517.6,385.6 517.2,386.4 516.7,387.1 516.2,387.7 515.7,388.3 515.1,388.9 514.5,389.3 513.8,389.7 513.2,390 512.5,390.1 511.9,390.2 511.3,390.2 510.7,390 510.2,389.8" fill="#fff" stroke="#111" stroke-width="1.1" stroke-linejoin="round"/>
<ellipse cx="513.3" cy="384.2" rx="6.4" ry="4.4" transform="rotate(-60.6 513.3 384.2)" fill="#fff" stroke="#111" stroke-width="1.1"/>
<polygon points="511,388.4 510.6,388.1 510.3,387.8 510,387.5 509.8,387 509.7,386.5 509.6,386 509.6,385.5 509.7,384.9 509.8,384.3 509.9,383.7 510.2,383.1 510.4,382.6 510.8,382.1 511.2,381.6 511.6,381.1 512,380.7 512.5,380.4 513,380.1 513.4,379.9 513.9,379.8 514.4,379.7 514.9,379.7 515.3,379.9 515.7,380 522.7,384 523,384.2 523.3,384.5 523.6,384.9 523.8,385.3 523.9,385.8 524,386.3 524,386.9 524,387.5 523.9,388 523.7,388.6 523.5,389.2 523.2,389.8 522.9,390.3 522.5,390.8 522.1,391.2 521.6,391.6 521.2,392 520.7,392.2 520.2,392.4 519.7,392.6 519.2,392.6 518.8,392.6 518.3,392.5 517.9,392.3" fill="#fff" stroke="#111" stroke-width="1.1" stroke-linejoin="round"/>
<ellipse cx="520.3" cy="388.1" rx="4.8" ry="3.3" transform="rotate(-60.6 520.3 388.1)" fill="#fff" stroke="#111" stroke-width="1.1"/>
<line x1="461" y1="360.6" x2="477.5" y2="369.9" stroke="#222" stroke-width="1.3"/>
<line x1="461.2" y1="356.3" x2="477.8" y2="365.6" stroke="#222" stroke-width="1.3"/>
<line x1="464" y1="352.6" x2="480.6" y2="361.9" stroke="#222" stroke-width="1.3"/>
<line x1="467.3" y1="351.6" x2="483.8" y2="360.9" stroke="#222" stroke-width="1.3"/>
<line x1="478.8" y1="372.4" x2="497.1" y2="382.7" stroke="#222" stroke-width="1.5"/>
<line x1="478.9" y1="367.6" x2="497.2" y2="377.9" stroke="#222" stroke-width="1.5"/>
<line x1="481.6" y1="362.9" x2="499.9" y2="373.2" stroke="#222" stroke-width="1.5"/>
<line x1="485.8" y1="360.7" x2="504.1" y2="371" stroke="#222" stroke-width="1.5"/>
<line x1="501" y1="382.6" x2="508" y2="386.6" stroke="#222" stroke-width="1.2"/>
<line x1="501.6" y1="378.4" x2="508.6" y2="382.3" stroke="#222" stroke-width="1.2"/>
<line x1="504.6" y1="375" x2="511.6" y2="378.9" stroke="#222" stroke-width="1.2"/>
<ellipse cx="520.3" cy="388.1" rx="2.4" ry="1.7" transform="rotate(-60.6 520.3 388.1)" fill="#fff" stroke="#111" stroke-width="0.8"/>
<polygon points="541.1,388 542.9,385.7 543.9,386.5 542.4,389 543,389.8 545.2,388.1 545.8,389.3 543.9,391.4 544.2,392.5 546.5,391.5 546.8,393 544.5,394.5 544.5,395.8 546.8,395.5 546.6,397.2 544.3,398 544,399.3 545.9,399.9 545.3,401.6 543.2,401.6 542.5,402.9 544.1,404.2 543.1,405.8 541.3,404.9 540.4,406.1 541.3,408.1 540.1,409.3 538.7,407.8 537.7,408.7 538,411.1 536.6,412 535.8,409.9 534.7,410.4 534.3,413.1 532.9,413.6 532.8,411 531.7,411.2 530.6,413.9 529.3,413.8 529.9,411.1 528.9,410.8 527.3,413.3 526.2,412.7 527.4,410.1 526.6,409.4 524.6,411.5 523.8,410.5 525.5,408.1 525,407.1 522.7,408.5 522.3,407.2 524.4,405.3 524.2,404.1 521.9,404.8 521.9,403.2 524.2,402 524.4,400.7 522.2,400.5 522.6,398.8 524.9,398.4 525.4,397.1 523.6,396.1 524.4,394.5 526.4,394.9 527.2,393.7 525.9,392 527,390.6 528.7,391.8 529.6,390.7 529,388.5 530.3,387.4 531.4,389.3 532.5,388.6 532.6,385.9 534,385.3 534.4,387.7 535.6,387.3 536.3,384.6 537.7,384.4 537.4,387 538.5,387.1 539.8,384.5 541.1,384.8 540.1,387.5" fill="#333" stroke="#111" stroke-width="0.9" stroke-linejoin="round"/>
<polygon points="527.7,410.3 527,409.8 526.4,409.3 525.9,408.7 525.4,408 525,407.3 524.7,406.5 524.5,405.6 524.3,404.7 524.2,403.7 524.2,402.7 524.2,401.7 524.4,400.7 524.6,399.6 524.8,398.6 525.2,397.5 525.6,396.5 526.1,395.5 526.7,394.5 527.3,393.5 527.9,392.6 528.7,391.8 529.4,391 530.2,390.2 531,389.5 531.9,388.9 532.8,388.4 533.7,388 534.5,387.6 535.4,387.3 536.3,387.1 537.2,387.1 538,387.1 538.8,387.2 539.6,387.3 540.4,387.6 541.1,388 546.2,391.1 546.8,391.5 547.4,392 548,392.6 548.4,393.3 548.8,394.1 549.1,394.9 549.4,395.7 549.6,396.6 549.7,397.6 549.7,398.6 549.6,399.6 549.5,400.6 549.3,401.7 549,402.7 548.7,403.8 548.2,404.8 547.7,405.8 547.2,406.8 546.6,407.8 545.9,408.7 545.2,409.5 544.4,410.4 543.6,411.1 542.8,411.8 542,412.4 541.1,412.9 540.2,413.3 539.3,413.7 538.4,414 537.5,414.2 536.7,414.3 535.8,414.3 535,414.2 534.2,414 533.5,413.7 532.8,413.3" fill="#333" stroke="none" stroke-width="0" stroke-linejoin="round"/>
<polygon points="548.2,388.9 548.9,389.5 543.7,386.4 543,385.8" fill="#e8e8e8" stroke="none" stroke-width="0" stroke-linejoin="round"/>
<polygon points="535.6,417 534.6,416.9 529.5,413.8 530.5,413.9" fill="#e8e8e8" stroke="none" stroke-width="0" stroke-linejoin="round"/>
<polygon points="532.3,416.3 531.5,415.9 526.3,412.8 527.1,413.2" fill="#e8e8e8" stroke="none" stroke-width="0" stroke-linejoin="round"/>
<polygon points="529.6,414.4 529,413.7 523.9,410.6 524.5,411.3" fill="#e8e8e8" stroke="none" stroke-width="0" stroke-linejoin="round"/>
<polygon points="527.8,411.5 527.5,410.5 522.3,407.4 522.7,408.4" fill="#e8e8e8" stroke="none" stroke-width="0" stroke-linejoin="round"/>
<polygon points="527,407.7 527,406.5 521.9,403.4 521.9,404.6" fill="#e8e8e8" stroke="none" stroke-width="0" stroke-linejoin="round"/>
<polygon points="527.4,403.4 527.7,402.1 522.5,399 522.3,400.3" fill="#e8e8e8" stroke="none" stroke-width="0" stroke-linejoin="round"/>
<polygon points="528.8,399 529.4,397.8 524.3,394.7 523.7,395.9" fill="#e8e8e8" stroke="none" stroke-width="0" stroke-linejoin="round"/>
<polygon points="531.2,394.9 532,393.8 526.9,390.7 526.1,391.8" fill="#e8e8e8" stroke="none" stroke-width="0" stroke-linejoin="round"/>
<polygon points="534.3,391.4 535.3,390.6 530.1,387.5 529.2,388.3" fill="#e8e8e8" stroke="none" stroke-width="0" stroke-linejoin="round"/>
<polygon points="537.9,388.9 538.9,388.4 533.8,385.4 532.7,385.8" fill="#e8e8e8" stroke="none" stroke-width="0" stroke-linejoin="round"/>
<polygon points="541.6,387.6 542.6,387.5 537.5,384.4 536.5,384.5" fill="#e8e8e8" stroke="none" stroke-width="0" stroke-linejoin="round"/>
<polygon points="545.1,387.6 546,387.8 540.9,384.7 540,384.5" fill="#e8e8e8" stroke="none" stroke-width="0" stroke-linejoin="round"/>
<polygon points="546.2,391.1 548,388.8 549,389.6 547.5,392.1 548.2,392.9 550.3,391.2 551,392.4 549,394.5 549.4,395.6 551.7,394.6 551.9,396.1 549.7,397.6 549.7,398.9 551.9,398.6 551.7,400.3 549.4,401.1 549.1,402.4 551.1,403 550.5,404.7 548.3,404.7 547.7,406 549.2,407.3 548.3,408.9 546.4,408 545.5,409.2 546.5,411.2 545.3,412.4 543.9,410.9 542.8,411.8 543.1,414.2 541.7,415.1 541,413 539.8,413.5 539.4,416.2 538,416.6 537.9,414.1 536.8,414.2 535.8,417 534.4,416.9 535,414.2 534,413.9 532.4,416.4 531.3,415.8 532.5,413.2 531.7,412.5 529.7,414.6 528.9,413.6 530.6,411.2 530.1,410.2 527.9,411.6 527.4,410.3 529.6,408.4 529.4,407.2 527.1,407.9 527,406.3 529.3,405.1 529.5,403.8 527.4,403.6 527.8,401.9 530,401.5 530.5,400.2 528.7,399.2 529.5,397.6 531.6,398 532.3,396.8 531.1,395.1 532.2,393.7 533.8,394.9 534.8,393.8 534.1,391.6 535.5,390.5 536.5,392.4 537.7,391.6 537.7,389 539.1,388.4 539.5,390.7 540.7,390.4 541.4,387.7 542.8,387.5 542.5,390.1 543.6,390.2 545,387.6 546.2,387.9 545.3,390.6" fill="#fff" stroke="#111" stroke-width="0.9" stroke-linejoin="round"/>
<ellipse cx="539.5" cy="402.2" rx="6.5" ry="4.5" transform="rotate(-59 539.5 402.2)" fill="#fff" stroke="#111" stroke-width="0.9"/>
<ellipse cx="539.5" cy="402.2" rx="5" ry="3.4" transform="rotate(-59 539.5 402.2)" fill="#fff" stroke="#111" stroke-width="0.8"/>
<ellipse cx="560.7" cy="414.1" rx="8.5" ry="5.9" transform="rotate(-59 560.7 414.1)" fill="#fff" stroke="#111" stroke-width="1.0"/>
<ellipse cx="560.9" cy="414.4" rx="5" ry="3.4" transform="rotate(-59 560.9 414.4)" fill="#fff" stroke="#111" stroke-width="0.9"/>
<polygon points="601.1,411 602.7,408.8 603.4,409.3 602.1,411.7 602.7,412.2 604.5,410.2 605.1,410.8 603.6,413 604.1,413.6 606,411.8 606.6,412.5 604.9,414.7 605.3,415.3 607.3,413.8 607.7,414.6 605.9,416.5 606.3,417.3 608.3,415.9 608.6,416.8 606.7,418.6 606.9,419.4 609.1,418.4 609.3,419.3 607.2,420.8 607.4,421.7 609.5,421 609.6,422 607.5,423.3 607.5,424.2 609.6,423.7 609.6,424.8 607.5,425.8 607.4,426.8 609.5,426.6 609.3,427.7 607.2,428.4 607,429.4 609,429.5 608.8,430.7 606.6,431.1 606.4,432.1 608.2,432.5 607.9,433.6 605.8,433.7 605.5,434.7 607.2,435.5 606.7,436.6 604.8,436.4 604.3,437.3 605.9,438.4 605.3,439.4 603.5,438.9 602.9,439.9 604.3,441.2 603.7,442.2 602,441.4 601.4,442.3 602.5,443.8 601.8,444.8 600.3,443.7 599.6,444.5 600.6,446.3 599.8,447.2 598.4,445.8 597.7,446.6 598.4,448.5 597.5,449.3 596.4,447.7 595.6,448.4 596.1,450.5 595.2,451.2 594.3,449.4 593.5,450 593.7,452.3 592.8,452.8 592.1,450.8 591.3,451.3 591.2,453.7 590.3,454.1 589.9,451.9 589,452.3 588.7,454.8 587.8,455.1 587.6,452.8 586.8,453 586.2,455.5 585.3,455.7 585.4,453.3 584.5,453.4 583.8,455.9 582.8,456 583.2,453.5 582.4,453.5 581.4,456 580.5,455.9 581.1,453.4 580.3,453.2 579.1,455.7 578.3,455.5 579.1,452.9 578.4,452.7 576.9,455 576.2,454.7 577.3,452.2 576.6,451.8 575,454 574.3,453.5 575.6,451.1 575,450.6 573.2,452.6 572.6,452.1 574.1,449.8 573.6,449.2 571.7,451 571.2,450.3 572.8,448.2 572.4,447.5 570.4,449.1 570,448.3 571.8,446.3 571.5,445.5 569.4,446.9 569.1,446 571,444.2 570.8,443.4 568.6,444.5 568.4,443.5 570.5,442 570.3,441.1 568.2,441.8 568.1,440.8 570.2,439.6 570.2,438.6 568.1,439.1 568.1,438 570.2,437 570.3,436 568.2,436.2 568.4,435.1 570.5,434.4 570.7,433.4 568.7,433.3 569,432.1 571.1,431.7 571.3,430.7 569.5,430.3 569.8,429.2 571.9,429.1 572.3,428.1 570.5,427.3 571,426.2 572.9,426.5 573.4,425.5 571.8,424.5 572.4,423.4 574.2,423.9 574.8,423 573.4,421.7 574,420.6 575.7,421.4 576.4,420.6 575.2,419 575.9,418.1 577.4,419.1 578.1,418.3 577.2,416.5 578,415.7 579.3,417 580,416.3 579.3,414.3 580.2,413.5 581.3,415.1 582.1,414.4 581.6,412.3 582.5,411.6 583.4,413.4 584.2,412.9 584,410.6 584.9,410 585.6,412 586.4,411.6 586.5,409.1 587.4,408.7 587.8,410.9 588.7,410.5 589,408 589.9,407.7 590.1,410.1 590.9,409.8 591.5,407.3 592.4,407.1 592.3,409.5 593.2,409.4 594,406.9 594.9,406.8 594.5,409.3 595.3,409.3 596.3,406.8 597.2,406.9 596.6,409.4 597.4,409.6 598.6,407.2 599.5,407.4 598.6,409.9 599.3,410.1 600.8,407.8 601.5,408.2 600.5,410.6" fill="#333" stroke="#111" stroke-width="1.1" stroke-linejoin="round"/>
<polygon points="576.6,451.8 575.4,451 574.3,450 573.4,448.9 572.5,447.7 571.8,446.3 571.2,444.8 570.7,443.3 570.4,441.6 570.2,439.9 570.2,438 570.3,436.2 570.5,434.3 570.9,432.4 571.4,430.4 572.1,428.5 572.9,426.6 573.8,424.8 574.8,423 575.9,421.2 577.1,419.5 578.4,418 579.8,416.5 581.3,415.1 582.8,413.9 584.4,412.8 586,411.8 587.6,411 589.2,410.3 590.8,409.8 592.4,409.5 594,409.3 595.6,409.3 597.1,409.5 598.5,409.9 599.8,410.3 601.1,411 606.3,414.1 607.4,414.9 608.5,415.9 609.5,417 610.3,418.2 611.1,419.6 611.7,421.1 612.1,422.6 612.4,424.3 612.6,426.1 612.7,427.9 612.6,429.7 612.3,431.6 611.9,433.5 611.4,435.5 610.8,437.4 610,439.3 609.1,441.1 608.1,443 607,444.7 605.7,446.4 604.4,447.9 603,449.4 601.6,450.8 600.1,452 598.5,453.1 596.9,454.1 595.3,454.9 593.7,455.6 592,456.1 590.4,456.4 588.8,456.6 587.3,456.6 585.8,456.4 584.4,456.1 583,455.6 581.7,454.9" fill="#333" stroke="none" stroke-width="0" stroke-linejoin="round"/>
<polygon points="608,412 608.5,412.3 603.3,409.2 602.8,408.9" fill="#e8e8e8" stroke="none" stroke-width="0" stroke-linejoin="round"/>
<polygon points="609.7,413.3 610.2,413.8 605,410.7 604.6,410.2" fill="#e8e8e8" stroke="none" stroke-width="0" stroke-linejoin="round"/>
<polygon points="611.2,415 611.6,415.5 606.5,412.4 606.1,411.9" fill="#e8e8e8" stroke="none" stroke-width="0" stroke-linejoin="round"/>
<polygon points="586.4,459.1 585.7,459 580.6,455.9 581.3,456" fill="#e8e8e8" stroke="none" stroke-width="0" stroke-linejoin="round"/>
<polygon points="584.1,458.7 583.5,458.6 578.4,455.5 579,455.6" fill="#e8e8e8" stroke="none" stroke-width="0" stroke-linejoin="round"/>
<polygon points="582,458 581.4,457.8 576.3,454.7 576.8,455" fill="#e8e8e8" stroke="none" stroke-width="0" stroke-linejoin="round"/>
<polygon points="580,457 579.5,456.7 574.4,453.6 574.9,453.9" fill="#e8e8e8" stroke="none" stroke-width="0" stroke-linejoin="round"/>
<polygon points="578.3,455.7 577.8,455.2 572.7,452.1 573.1,452.6" fill="#e8e8e8" stroke="none" stroke-width="0" stroke-linejoin="round"/>
<polygon points="576.8,454 576.4,453.5 571.2,450.4 571.6,450.9" fill="#e8e8e8" stroke="none" stroke-width="0" stroke-linejoin="round"/>
<polygon points="575.5,452 575.2,451.5 570,448.4 570.3,449" fill="#e8e8e8" stroke="none" stroke-width="0" stroke-linejoin="round"/>
<polygon points="574.5,449.8 574.3,449.2 569.1,446.1 569.3,446.8" fill="#e8e8e8" stroke="none" stroke-width="0" stroke-linejoin="round"/>
<polygon points="573.8,447.4 573.6,446.7 568.5,443.6 568.6,444.3" fill="#e8e8e8" stroke="none" stroke-width="0" stroke-linejoin="round"/>
<polygon points="573.3,444.8 573.3,444 568.1,440.9 568.2,441.7" fill="#e8e8e8" stroke="none" stroke-width="0" stroke-linejoin="round"/>
<polygon points="573.2,442 573.2,441.2 568.1,438.1 568.1,438.9" fill="#e8e8e8" stroke="none" stroke-width="0" stroke-linejoin="round"/>
<polygon points="573.4,439.2 573.5,438.3 568.4,435.2 568.3,436.1" fill="#e8e8e8" stroke="none" stroke-width="0" stroke-linejoin="round"/>
<polygon points="573.9,436.2 574.1,435.4 568.9,432.3 568.7,433.1" fill="#e8e8e8" stroke="none" stroke-width="0" stroke-linejoin="round"/>
<polygon points="574.7,433.2 574.9,432.4 569.8,429.3 569.5,430.2" fill="#e8e8e8" stroke="none" stroke-width="0" stroke-linejoin="round"/>
<polygon points="575.7,430.3 576.1,429.5 570.9,426.4 570.6,427.2" fill="#e8e8e8" stroke="none" stroke-width="0" stroke-linejoin="round"/>
<polygon points="577,427.4 577.5,426.6 572.3,423.5 571.9,424.3" fill="#e8e8e8" stroke="none" stroke-width="0" stroke-linejoin="round"/>
<polygon points="578.6,424.6 579.1,423.9 573.9,420.8 573.5,421.5" fill="#e8e8e8" stroke="none" stroke-width="0" stroke-linejoin="round"/>
<polygon points="580.4,422 580.9,421.3 575.8,418.2 575.3,418.9" fill="#e8e8e8" stroke="none" stroke-width="0" stroke-linejoin="round"/>
<polygon points="582.4,419.5 583,418.9 577.8,415.8 577.3,416.4" fill="#e8e8e8" stroke="none" stroke-width="0" stroke-linejoin="round"/>
<polygon points="584.6,417.3 585.2,416.7 580.1,413.6 579.4,414.2" fill="#e8e8e8" stroke="none" stroke-width="0" stroke-linejoin="round"/>
<polygon points="586.9,415.3 587.5,414.8 582.4,411.7 581.7,412.2" fill="#e8e8e8" stroke="none" stroke-width="0" stroke-linejoin="round"/>
<polygon points="589.3,413.6 590,413.2 584.8,410.1 584.1,410.5" fill="#e8e8e8" stroke="none" stroke-width="0" stroke-linejoin="round"/>
<polygon points="591.7,412.2 592.4,411.8 587.3,408.7 586.6,409.1" fill="#e8e8e8" stroke="none" stroke-width="0" stroke-linejoin="round"/>
<polygon points="594.2,411.1 595,410.9 589.8,407.8 589.1,408" fill="#e8e8e8" stroke="none" stroke-width="0" stroke-linejoin="round"/>
<polygon points="596.8,410.4 597.4,410.2 592.3,407.1 591.6,407.3" fill="#e8e8e8" stroke="none" stroke-width="0" stroke-linejoin="round"/>
<polygon points="599.2,410 599.9,409.9 594.8,406.8 594.1,406.9" fill="#e8e8e8" stroke="none" stroke-width="0" stroke-linejoin="round"/>
<polygon points="601.6,409.9 602.3,410 597.1,406.9 596.5,406.9" fill="#e8e8e8" stroke="none" stroke-width="0" stroke-linejoin="round"/>
<polygon points="603.9,410.3 604.5,410.4 599.3,407.3 598.7,407.2" fill="#e8e8e8" stroke="none" stroke-width="0" stroke-linejoin="round"/>
<polygon points="606,411 606.6,411.2 601.4,408.1 600.9,407.9" fill="#e8e8e8" stroke="none" stroke-width="0" stroke-linejoin="round"/>
<polygon points="606.3,414.1 607.9,411.9 608.6,412.4 607.3,414.8 607.9,415.3 609.6,413.3 610.3,413.9 608.8,416.1 609.3,416.7 611.2,414.9 611.7,415.6 610,417.7 610.5,418.4 612.5,416.8 612.9,417.7 611.1,419.6 611.4,420.4 613.5,419 613.8,419.9 611.9,421.7 612.1,422.5 614.2,421.5 614.4,422.4 612.4,423.9 612.5,424.8 614.6,424.1 614.7,425.1 612.6,426.4 612.7,427.3 614.8,426.8 614.8,427.9 612.6,428.9 612.5,429.9 614.6,429.7 614.5,430.8 612.3,431.5 612.2,432.5 614.1,432.6 613.9,433.8 611.8,434.2 611.5,435.2 613.4,435.6 613,436.7 611,436.8 610.6,437.8 612.3,438.6 611.9,439.7 609.9,439.5 609.5,440.4 611,441.5 610.5,442.5 608.6,442 608.1,443 609.5,444.2 608.8,445.3 607.1,444.5 606.5,445.4 607.7,446.9 607,447.9 605.4,446.8 604.7,447.6 605.7,449.4 604.9,450.2 603.6,448.9 602.8,449.6 603.5,451.6 602.7,452.4 601.6,450.8 600.8,451.5 601.3,453.6 600.4,454.3 599.4,452.5 598.6,453 598.9,455.3 597.9,455.9 597.3,453.9 596.4,454.4 596.4,456.8 595.4,457.2 595,455 594.2,455.4 593.9,457.9 592.9,458.2 592.8,455.9 591.9,456.1 591.4,458.6 590.4,458.8 590.5,456.4 589.7,456.5 588.9,459 588,459.1 588.3,456.6 587.5,456.6 586.5,459.1 585.6,459 586.2,456.5 585.5,456.3 584.2,458.8 583.4,458.5 584.2,456 583.5,455.8 582.1,458.1 581.3,457.7 582.4,455.3 581.7,454.9 580.1,457.1 579.4,456.6 580.7,454.2 580.1,453.7 578.4,455.7 577.7,455.1 579.2,452.9 578.7,452.3 576.8,454.1 576.3,453.4 578,451.3 577.5,450.6 575.5,452.2 575.1,451.3 576.9,449.4 576.6,448.6 574.5,450 574.2,449.1 576.1,447.3 575.9,446.5 573.8,447.5 573.6,446.6 575.6,445.1 575.5,444.2 573.4,444.9 573.3,443.9 575.4,442.6 575.3,441.7 573.2,442.2 573.2,441.1 575.4,440.1 575.5,439.1 573.4,439.3 573.5,438.2 575.7,437.5 575.8,436.5 573.9,436.4 574.1,435.2 576.2,434.8 576.5,433.8 574.6,433.4 575,432.3 577,432.2 577.4,431.2 575.7,430.4 576.1,429.3 578.1,429.5 578.5,428.6 577,427.5 577.5,426.5 579.4,427 579.9,426 578.5,424.8 579.2,423.7 580.9,424.5 581.5,423.6 580.3,422.1 581,421.1 582.6,422.2 583.3,421.4 582.3,419.6 583.1,418.8 584.4,420.1 585.2,419.4 584.5,417.4 585.3,416.6 586.4,418.2 587.2,417.5 586.7,415.4 587.6,414.7 588.6,416.5 589.4,416 589.1,413.7 590.1,413.1 590.7,415.1 591.6,414.6 591.6,412.2 592.6,411.8 593,414 593.8,413.6 594.1,411.1 595.1,410.8 595.2,413.1 596.1,412.9 596.6,410.4 597.6,410.2 597.5,412.6 598.3,412.5 599.1,410 600,409.9 599.7,412.4 600.5,412.4 601.5,409.9 602.4,410 601.8,412.5 602.5,412.7 603.8,410.2 604.6,410.5 603.8,413 604.5,413.2 605.9,410.9 606.7,411.3 605.6,413.7" fill="#fff" stroke="#111" stroke-width="1.1" stroke-linejoin="round"/>
<ellipse cx="594" cy="434.5" rx="20.5" ry="14.1" transform="rotate(-59 594 434.5)" fill="#fff" stroke="#111" stroke-width="1.3"/>
<ellipse cx="604.2" cy="423.6" rx="3.9" ry="2.7" transform="rotate(-59 604.2 423.6)" fill="#fff" stroke="#111" stroke-width="1.0"/>
<ellipse cx="605.7" cy="433.2" rx="3.9" ry="2.7" transform="rotate(-59 605.7 433.2)" fill="#fff" stroke="#111" stroke-width="1.0"/>
<ellipse cx="600.3" cy="443.6" rx="3.9" ry="2.7" transform="rotate(-59 600.3 443.6)" fill="#fff" stroke="#111" stroke-width="1.0"/>
<ellipse cx="591.3" cy="448.6" rx="3.9" ry="2.7" transform="rotate(-59 591.3 448.6)" fill="#fff" stroke="#111" stroke-width="1.0"/>
<ellipse cx="583.8" cy="445.4" rx="3.9" ry="2.7" transform="rotate(-59 583.8 445.4)" fill="#fff" stroke="#111" stroke-width="1.0"/>
<ellipse cx="582.3" cy="435.8" rx="3.9" ry="2.7" transform="rotate(-59 582.3 435.8)" fill="#fff" stroke="#111" stroke-width="1.0"/>
<ellipse cx="587.7" cy="425.4" rx="3.9" ry="2.7" transform="rotate(-59 587.7 425.4)" fill="#fff" stroke="#111" stroke-width="1.0"/>
<ellipse cx="596.7" cy="420.4" rx="3.9" ry="2.7" transform="rotate(-59 596.7 420.4)" fill="#fff" stroke="#111" stroke-width="1.0"/>
<ellipse cx="594.3" cy="434.8" rx="10.5" ry="7.2" transform="rotate(-59 594.3 434.8)" fill="#fff" stroke="#111" stroke-width="2.2"/>
<ellipse cx="594.5" cy="435" rx="6.5" ry="4.5" transform="rotate(-59 594.5 435)" fill="#fff" stroke="#111" stroke-width="1.0"/>
<line x1="590.6" y1="439.1" x2="593.6" y2="440.9" stroke="#111" stroke-width="1.2"/>
<line x1="590" y1="436.3" x2="593" y2="438.1" stroke="#111" stroke-width="1.2"/>
<line x1="591.1" y1="432.9" x2="594.1" y2="434.7" stroke="#111" stroke-width="1.2"/>
<line x1="593.5" y1="430.4" x2="596.5" y2="432.2" stroke="#111" stroke-width="1.2"/>
<line x1="596.3" y1="429.6" x2="599.3" y2="431.4" stroke="#111" stroke-width="1.2"/>
<ellipse cx="615.7" cy="449" rx="8.6" ry="5.9" transform="rotate(-59 615.7 449)" fill="#fff" stroke="#111" stroke-width="1.0"/>
<ellipse cx="615.9" cy="449.3" rx="5" ry="3.4" transform="rotate(-59 615.9 449.3)" fill="#fff" stroke="#111" stroke-width="0.9"/>
<line x1="623.7" y1="177.4" x2="612.2" y2="190.3" stroke="#111" stroke-width="1.0"/>
<line x1="558.5" y1="184.3" x2="548.1" y2="195.5" stroke="#111" stroke-width="1.0"/>
<line x1="606.4" y1="213.3" x2="596.4" y2="230.5" stroke="#111" stroke-width="1.0"/>
<line x1="650.3" y1="232.2" x2="646" y2="237" stroke="#111" stroke-width="1.0"/>
<line x1="679.7" y1="256.6" x2="673.2" y2="265.9" stroke="#111" stroke-width="1.0"/>
<line x1="699.8" y1="273.8" x2="691.2" y2="283.9" stroke="#111" stroke-width="1.0"/>
<line x1="736" y1="291.1" x2="730.2" y2="296.9" stroke="#111" stroke-width="1.0"/>
<line x1="749.4" y1="312.2" x2="743.6" y2="319.8" stroke="#111" stroke-width="1.0"/>
<line x1="760.9" y1="317.9" x2="755.9" y2="327.5" stroke="#111" stroke-width="1.0"/>
<line x1="810.7" y1="306.4" x2="803" y2="318" stroke="#111" stroke-width="1.0"/>
<line x1="825.3" y1="344.4" x2="809.5" y2="360.9" stroke="#111" stroke-width="1.0"/>
<line x1="870.5" y1="383.8" x2="870.5" y2="396.7" stroke="#111" stroke-width="1.0"/>
<line x1="475.3" y1="101.9" x2="454.5" y2="129" stroke="#111" stroke-width="1.0"/>
<line x1="453" y1="111.5" x2="448.1" y2="122.6" stroke="#111" stroke-width="1.0"/>
<line x1="425" y1="104.3" x2="417.8" y2="113" stroke="#111" stroke-width="1.0"/>
<line x1="407" y1="93.9" x2="396.3" y2="105.9" stroke="#111" stroke-width="1.0"/>
<line x1="379.6" y1="79.5" x2="373.2" y2="88.8" stroke="#111" stroke-width="1.0"/>
<line x1="361.7" y1="63.7" x2="356" y2="70.9" stroke="#111" stroke-width="1.0"/>
<line x1="329.4" y1="50.4" x2="321.5" y2="59.4" stroke="#111" stroke-width="1.0"/>
<line x1="437.5" y1="245.2" x2="454.3" y2="254.8" stroke="#111" stroke-width="1.0"/>
<line x1="641.6" y1="348" x2="628.2" y2="363.3" stroke="#111" stroke-width="1.0"/>
<line x1="498" y1="267" x2="491.8" y2="277.4" stroke="#111" stroke-width="1.0"/>
<line x1="568.9" y1="298.3" x2="561.2" y2="307.8" stroke="#111" stroke-width="1.0"/>
<line x1="522" y1="288.6" x2="515.7" y2="299" stroke="#111" stroke-width="1.0"/>
<line x1="317.2" y1="259.6" x2="338.2" y2="271.6" stroke="#111" stroke-width="1.0"/>
<line x1="480" y1="395.7" x2="487.6" y2="382.3" stroke="#111" stroke-width="1.0"/>
<line x1="423.5" y1="365" x2="431.1" y2="353.6" stroke="#111" stroke-width="1.0"/>
<line x1="395.7" y1="345" x2="401.5" y2="334.4" stroke="#111" stroke-width="1.0"/>
<line x1="524.9" y1="424.6" x2="530.6" y2="413.1" stroke="#111" stroke-width="1.0"/>
<line x1="330.4" y1="298.8" x2="337.4" y2="290.9" stroke="#111" stroke-width="1.0"/>
<line x1="603.5" y1="462.7" x2="611.3" y2="454.8" stroke="#111" stroke-width="1.0"/>
<line x1="350.5" y1="315.4" x2="360.2" y2="305.8" stroke="#111" stroke-width="1.0"/>
<line x1="374.2" y1="332.1" x2="383.9" y2="318" stroke="#111" stroke-width="1.0"/>
<line x1="547.8" y1="434.2" x2="557.4" y2="420.8" stroke="#111" stroke-width="1.0"/>
<line x1="570" y1="463.8" x2="574.5" y2="454.8" stroke="#111" stroke-width="1.0"/>
<line x1="404.7" y1="433.5" x2="404.7" y2="451.4" stroke="#111" stroke-width="1.0"/>
<line x1="352.8" y1="372.8" x2="362.5" y2="382.4" stroke="#111" stroke-width="1.0"/>
<line x1="294.9" y1="354.8" x2="282.4" y2="370" stroke="#111" stroke-width="1.0"/>
<line x1="285.2" y1="383.8" x2="297.6" y2="390.7" stroke="#111" stroke-width="1.0"/>
<line x1="206.6" y1="392" x2="213.5" y2="383.8" stroke="#111" stroke-width="1.0"/>
<line x1="241" y1="364.5" x2="234.2" y2="378.3" stroke="#111" stroke-width="1.0"/>
<line x1="241" y1="407.3" x2="241" y2="418.3" stroke="#111" stroke-width="1.0"/>
<line x1="311.4" y1="433.5" x2="323.8" y2="439" stroke="#111" stroke-width="1.0"/>
<line x1="239.3" y1="570.1" x2="239.3" y2="586.4" stroke="#111" stroke-width="1.0"/>
<line x1="195.9" y1="452.5" x2="203.1" y2="461.5" stroke="#111" stroke-width="1.0"/>
<line x1="358.8" y1="548.4" x2="349.7" y2="566.5" stroke="#111" stroke-width="1.0"/>
<line x1="319" y1="586.4" x2="326.2" y2="573.7" stroke="#111" stroke-width="1.0"/>
<line x1="342.5" y1="597.2" x2="357" y2="586.4" stroke="#111" stroke-width="1.0"/>
<line x1="208.6" y1="503.1" x2="208.6" y2="524.9" stroke="#111" stroke-width="1.0"/>
<line x1="164.1" y1="484" x2="164.1" y2="497.6" stroke="#111" stroke-width="1.0"/>
<line x1="270.1" y1="557.4" x2="275.5" y2="544.8" stroke="#111" stroke-width="1.0"/>
<line x1="337" y1="532.1" x2="317.2" y2="539.3" stroke="#111" stroke-width="1.0"/>
<line x1="216" y1="90.7" x2="216" y2="104.8" stroke="#111" stroke-width="1.0"/>
<line x1="212.9" y1="151.8" x2="197.4" y2="165" stroke="#111" stroke-width="1.0"/>
<line x1="260.1" y1="178.7" x2="260.1" y2="191.3" stroke="#111" stroke-width="1.0"/>
<line x1="286.6" y1="201" x2="286.6" y2="213.6" stroke="#111" stroke-width="1.0"/>
<line x1="251.7" y1="244.3" x2="251.7" y2="272.2" stroke="#111" stroke-width="1.0"/>
<line x1="246.1" y1="272.2" x2="219.6" y2="259.6" stroke="#111" stroke-width="1.0"/>
<line x1="195.9" y1="276.3" x2="204.3" y2="268" stroke="#111" stroke-width="1.0"/>
<line x1="197.3" y1="294.5" x2="219.6" y2="290.3" stroke="#111" stroke-width="1.0"/>
<line x1="197.3" y1="315.4" x2="212.7" y2="314" stroke="#111" stroke-width="1.0"/>
<line x1="117.8" y1="246.2" x2="138" y2="232.2" stroke="#111" stroke-width="1.0"/>
<line x1="123.1" y1="179.6" x2="116" y2="207.6" stroke="#111" stroke-width="1.0"/>
<line x1="123.1" y1="179.6" x2="142.4" y2="192.7" stroke="#111" stroke-width="1.0"/>
<line x1="145.3" y1="65.3" x2="145.3" y2="85.4" stroke="#111" stroke-width="1.0"/>
<line x1="179.2" y1="82.5" x2="179.2" y2="95.8" stroke="#111" stroke-width="1.0"/>
<line x1="162.5" y1="109.2" x2="175.9" y2="100.3" stroke="#111" stroke-width="1.0"/>
<line x1="813.8" y1="204.8" x2="813.8" y2="210.2" stroke="#111" stroke-width="1.0"/>
<line x1="797.1" y1="258.6" x2="791.7" y2="253.8" stroke="#111" stroke-width="1.0"/>
<line x1="134.4" y1="461.5" x2="134.4" y2="483.2" stroke="#111" stroke-width="1.0"/>
<line x1="471.8" y1="254.3" x2="467.8" y2="267" stroke="#111" stroke-width="1.0"/>
<line x1="588" y1="328.9" x2="582.3" y2="340.4" stroke="#111" stroke-width="1.0"/>
<text x="473.2" y="250.5" font-size="13.0" text-anchor="middle">8</text>
<text x="588" y="326.5" font-size="13.0" text-anchor="middle">8</text>
<ellipse cx="217.6" cy="375.5" rx="8" ry="5.5" transform="rotate(-59 217.6 375.5)" fill="#fff" stroke="#111" stroke-width="1.0"/>
<ellipse cx="217.6" cy="375.5" rx="5.8" ry="4" transform="rotate(-59 217.6 375.5)" fill="#fff" stroke="#111" stroke-width="0.9"/>
<ellipse cx="232.8" cy="381" rx="3" ry="1.8" transform="rotate(20 232.8 381)" fill="#fff" stroke="#111" stroke-width="1"/>
<polygon points="247.2,385.7 248.9,383.8 249.9,384.8 248.6,387 249.1,388.1 251.2,387.1 251.5,388.8 249.6,390.2 249.6,391.7 251.5,391.8 251,393.8 249,394.2 248.4,395.7 249.7,396.9 248.6,398.7 247,398 245.9,399.2 246.4,401.2 244.8,402.4 243.9,400.7 242.6,401.3 242.1,403.7 240.5,404.1 240.5,401.8 239.3,401.7 238,403.9 236.6,403.3 237.6,401 236.8,400.2 234.9,401.7 234.2,400.3 235.9,398.4 235.6,397.1 233.6,397.5 233.6,395.7 235.6,394.7 236,393.2 234.3,392.5 235.1,390.6 237,390.7 237.8,389.3 236.9,387.7 238.3,386.1 239.6,387.4 240.8,386.4 240.8,384.2 242.5,383.4 242.9,385.4 244.2,385.1 245.2,382.8 246.7,382.9 246.2,385.3" fill="#888" stroke="#111" stroke-width="0.9" stroke-linejoin="round"/>
<polygon points="237.9,401.2 237.5,400.8 237.1,400.5 236.7,400.1 236.4,399.6 236.1,399.1 235.9,398.5 235.7,397.9 235.6,397.3 235.5,396.6 235.5,395.9 235.6,395.2 235.6,394.5 235.8,393.8 236,393.1 236.2,392.3 236.5,391.6 236.9,390.9 237.2,390.2 237.7,389.6 238.1,389 238.6,388.4 239.2,387.8 239.7,387.3 240.3,386.8 240.9,386.4 241.5,386 242.1,385.7 242.7,385.5 243.3,385.3 243.9,385.2 244.5,385.1 245.1,385.1 245.7,385.2 246.2,385.3 246.7,385.5 247.2,385.7 250.6,387.8 251.1,388.1 251.5,388.5 251.9,388.9 252.2,389.3 252.5,389.9 252.7,390.4 252.9,391 253,391.6 253,392.3 253.1,393 253,393.7 252.9,394.4 252.8,395.1 252.6,395.9 252.3,396.6 252,397.3 251.7,398 251.3,398.7 250.9,399.4 250.4,400 249.9,400.6 249.4,401.1 248.9,401.7 248.3,402.1 247.7,402.5 247.1,402.9 246.5,403.2 245.9,403.5 245.3,403.7 244.6,403.8 244,403.8 243.5,403.8 242.9,403.8 242.4,403.7 241.8,403.5 241.4,403.2" fill="#888" stroke="none" stroke-width="0" stroke-linejoin="round"/>
<polygon points="252.5,386 253.3,386.8 249.8,384.7 249,384" fill="#e8e8e8" stroke="none" stroke-width="0" stroke-linejoin="round"/>
<polygon points="241.2,405.9 240.2,405.5 236.8,403.4 237.8,403.8" fill="#e8e8e8" stroke="none" stroke-width="0" stroke-linejoin="round"/>
<polygon points="238.2,403.5 237.7,402.5 234.2,400.5 234.8,401.5" fill="#e8e8e8" stroke="none" stroke-width="0" stroke-linejoin="round"/>
<polygon points="237,399.4 237,398 233.6,395.9 233.6,397.3" fill="#e8e8e8" stroke="none" stroke-width="0" stroke-linejoin="round"/>
<polygon points="237.8,394.3 238.4,392.9 235,390.8 234.4,392.2" fill="#e8e8e8" stroke="none" stroke-width="0" stroke-linejoin="round"/>
<polygon points="240.5,389.5 241.5,388.4 238.1,386.3 237.1,387.4" fill="#e8e8e8" stroke="none" stroke-width="0" stroke-linejoin="round"/>
<polygon points="244.5,386.1 245.7,385.5 242.3,383.4 241.1,384" fill="#e8e8e8" stroke="none" stroke-width="0" stroke-linejoin="round"/>
<polygon points="248.8,384.8 249.9,384.9 246.5,382.9 245.4,382.8" fill="#e8e8e8" stroke="none" stroke-width="0" stroke-linejoin="round"/>
<polygon points="250.6,387.8 252.3,385.9 253.4,386.9 252,389.1 252.6,390.2 254.6,389.2 254.9,390.8 253,392.3 253,393.7 254.9,393.9 254.5,395.8 252.5,396.2 251.8,397.7 253.2,399 252,400.7 250.4,400 249.3,401.2 249.8,403.3 248.2,404.5 247.3,402.8 246.1,403.4 245.6,405.8 243.9,406.1 244,403.8 242.8,403.8 241.4,405.9 240.1,405.4 241.1,403 240.2,402.2 238.3,403.7 237.6,402.3 239.3,400.5 239,399.2 237,399.6 237,397.7 239,396.8 239.4,395.2 237.7,394.6 238.5,392.6 240.4,392.8 241.3,391.4 240.4,389.7 241.7,388.2 243,389.4 244.3,388.5 244.3,386.2 245.9,385.4 246.3,387.5 247.6,387.2 248.6,384.8 250.1,385 249.6,387.3" fill="#fff" stroke="#111" stroke-width="0.9" stroke-linejoin="round"/>
<ellipse cx="246" cy="395.5" rx="5" ry="3.4" transform="rotate(-59 246 395.5)" fill="#fff" stroke="#111" stroke-width="0.9"/>
<rect x="279" y="355.5" width="6" height="17.5" fill="#fff" stroke="#111" stroke-width="0.9"/>
<path d="M279,356.9 L285,355.7" fill="none" stroke="#111" stroke-width="0.9"/>
<path d="M279,358.7 L285,357.4" fill="none" stroke="#111" stroke-width="0.9"/>
<path d="M279,360.4 L285,359.2" fill="none" stroke="#111" stroke-width="0.9"/>
<path d="M279,362.2 L285,360.9" fill="none" stroke="#111" stroke-width="0.9"/>
<path d="M279,363.9 L285,362.7" fill="none" stroke="#111" stroke-width="0.9"/>
<path d="M279,365.7 L285,364.4" fill="none" stroke="#111" stroke-width="0.9"/>
<path d="M279,367.4 L285,366.2" fill="none" stroke="#111" stroke-width="0.9"/>
<path d="M279,369.2 L285,367.9" fill="none" stroke="#111" stroke-width="0.9"/>
<path d="M279,370.9 L285,369.7" fill="none" stroke="#111" stroke-width="0.9"/>
<path d="M279,372.7 L285,371.4" fill="none" stroke="#111" stroke-width="0.9"/>
<circle cx="281.9" cy="382" r="2.3" fill="#fff" stroke="#111" stroke-width="0.9"/>
<polygon points="255.9,409.8 255.6,409.6 255.3,409.3 255,409 254.8,408.6 254.6,408.1 254.5,407.6 254.5,407.1 254.5,406.6 254.6,406 254.7,405.5 254.9,404.9 255.1,404.4 255.4,403.9 255.7,403.4 256.1,402.9 256.5,402.5 256.9,402.2 257.3,401.9 257.8,401.7 258.2,401.6 258.7,401.5 259.1,401.5 259.5,401.6 259.9,401.7 267.1,405.2 267.4,405.4 267.7,405.7 268,406 268.2,406.4 268.4,406.9 268.5,407.4 268.5,407.9 268.5,408.4 268.4,409 268.3,409.5 268.1,410.1 267.9,410.6 267.6,411.1 267.3,411.6 266.9,412.1 266.5,412.5 266.1,412.8 265.7,413.1 265.2,413.3 264.8,413.4 264.3,413.5 263.9,413.5 263.5,413.4 263.1,413.3" fill="#fff" stroke="#111" stroke-width="0.9" stroke-linejoin="round"/>
<ellipse cx="265.1" cy="409.3" rx="4.5" ry="3.1" transform="rotate(-64 265.1 409.3)" fill="#fff" stroke="#111" stroke-width="0.9"/>
<polygon points="266.2,424.3 265.1,423.6 264.2,422.7 263.3,421.6 262.7,420.4 262.1,419 261.8,417.5 261.7,415.8 261.7,414.1 261.9,412.3 262.3,410.6 262.9,408.8 263.6,407.1 264.5,405.5 265.6,403.9 266.7,402.5 268,401.3 269.3,400.2 270.7,399.3 272.1,398.6 273.5,398.1 274.9,397.9 276.3,397.9 277.6,398.1 278.8,398.6 305.8,411.7 306.9,412.4 307.8,413.3 308.7,414.4 309.3,415.6 309.9,417 310.2,418.5 310.3,420.2 310.3,421.9 310.1,423.7 309.7,425.4 309.1,427.2 308.4,428.9 307.5,430.5 306.4,432.1 305.3,433.5 304,434.7 302.7,435.8 301.3,436.7 299.9,437.4 298.5,437.9 297.1,438.1 295.7,438.1 294.4,437.9 293.2,437.4" fill="#fff" stroke="#111" stroke-width="0.9" stroke-linejoin="round"/>
<ellipse cx="299.5" cy="424.6" rx="14.3" ry="9.9" transform="rotate(-64 299.5 424.6)" fill="#fff" stroke="#111" stroke-width="0.9"/>
<polyline points="279.7,401.2 286.2,403.6 298,408.8" fill="none" stroke="#111" stroke-width="0.8"/>
<polyline points="281.8,400.9 288.3,403.6 300,409.1" fill="none" stroke="#111" stroke-width="0.8"/>
<ellipse cx="299.5" cy="424.6" rx="10.8" ry="7.5" transform="rotate(-64 299.5 424.6)" fill="#fff" stroke="#111" stroke-width="2.6"/>
<ellipse cx="299.5" cy="424.6" rx="8.8" ry="6.1" transform="rotate(-64 299.5 424.6)" fill="#fff" stroke="#111" stroke-width="0.8"/>
<polygon points="296.4,430.9 295.9,430.5 295.4,430.1 295,429.6 294.7,429 294.4,428.3 294.2,427.5 294.2,426.7 294.2,425.9 294.3,425 294.5,424.2 294.8,423.3 295.1,422.5 295.6,421.7 296.1,420.9 296.6,420.2 297.3,419.6 297.9,419.1 298.6,418.6 299.3,418.3 300,418.1 300.7,418 301.3,418 302,418.1 302.6,418.3 310.6,422.2 311.2,422.6 311.7,423 312.1,423.5 312.4,424.1 312.6,424.8 312.8,425.6 312.9,426.4 312.9,427.2 312.8,428.1 312.6,428.9 312.3,429.8 311.9,430.6 311.5,431.4 311,432.2 310.4,432.9 309.8,433.5 309.1,434 308.5,434.5 307.8,434.8 307.1,435 306.4,435.1 305.7,435.1 305.1,435 304.5,434.8" fill="#fff" stroke="#111" stroke-width="1.0" stroke-linejoin="round"/>
<ellipse cx="307.6" cy="428.5" rx="7" ry="4.8" transform="rotate(-64 307.6 428.5)" fill="#fff" stroke="#111" stroke-width="1.0"/>
<ellipse cx="307.6" cy="428.5" rx="4.2" ry="2.9" transform="rotate(-64 307.6 428.5)" fill="#fff" stroke="#111" stroke-width="0.9"/>
<ellipse cx="307.6" cy="428.5" rx="2.2" ry="1.5" transform="rotate(-64 307.6 428.5)" fill="#fff" stroke="#111" stroke-width="0.9"/>
<polygon points="370.1,415.6 369.8,415.4 369.5,415.2 369.3,414.8 369.1,414.5 369,414.1 368.9,413.6 368.9,413.2 368.9,412.7 369,412.2 369.1,411.7 369.3,411.2 369.6,410.7 369.8,410.2 370.2,409.8 370.5,409.4 370.9,409.1 371.3,408.8 371.7,408.5 372.1,408.4 372.5,408.2 372.9,408.2 373.3,408.2 373.7,408.3 374,408.4 426.9,437.2 427.2,437.4 427.5,437.6 427.7,438 427.9,438.3 428,438.7 428.1,439.2 428.1,439.6 428.1,440.1 428,440.6 427.9,441.1 427.7,441.6 427.4,442.1 427.2,442.6 426.8,443 426.5,443.4 426.1,443.7 425.7,444 425.3,444.3 424.9,444.4 424.5,444.6 424.1,444.6 423.7,444.6 423.3,444.5 423,444.4" fill="#fff" stroke="#111" stroke-width="1.1" stroke-linejoin="round"/>
<ellipse cx="425" cy="440.8" rx="4.1" ry="2.8" transform="rotate(-61.5 425 440.8)" fill="#fff" stroke="#111" stroke-width="1.1"/>
<polygon points="349.8,405.5 349.4,405.2 349,404.8 348.7,404.4 348.5,403.8 348.3,403.3 348.3,402.7 348.3,402 348.3,401.4 348.5,400.7 348.7,400 349,399.3 349.3,398.7 349.7,398.1 350.2,397.5 350.7,397 351.2,396.6 351.8,396.2 352.3,395.9 352.9,395.7 353.5,395.5 354,395.5 354.6,395.5 355.1,395.7 355.5,395.9 363.2,400.5 363.6,400.8 364,401.2 364.3,401.6 364.5,402.2 364.7,402.7 364.7,403.3 364.7,404 364.7,404.6 364.5,405.3 364.3,406 364,406.7 363.7,407.3 363.3,407.9 362.8,408.5 362.3,409 361.8,409.4 361.2,409.8 360.7,410.1 360.1,410.3 359.5,410.5 359,410.5 358.4,410.5 357.9,410.3 357.5,410.1" fill="#fff" stroke="#111" stroke-width="1.1" stroke-linejoin="round"/>
<ellipse cx="360.4" cy="405.3" rx="5.6" ry="3.9" transform="rotate(-59 360.4 405.3)" fill="#fff" stroke="#111" stroke-width="1.1"/>
<polygon points="353.2,397 359,389.5 366.1,380.7 371,375.5 373.3,373 376.2,371.8 379,374.8 374.8,382 372.8,387 372.8,393 375,395.2 378.8,390.8 381.9,389.3 383.6,393.6 381.2,399 377.6,403.7 370,409 363,412.3 357,410" fill="#fff" stroke="#111" stroke-width="1.1" stroke-linejoin="round"/>
<line x1="366.1" y1="380.7" x2="363.5" y2="388" stroke="#111" stroke-width="0.7"/>
<line x1="372.8" y1="393" x2="369" y2="402" stroke="#111" stroke-width="0.7"/>
<ellipse cx="361.2" cy="405.8" rx="5.6" ry="3.9" transform="rotate(-59 361.2 405.8)" fill="#fff" stroke="#111" stroke-width="1.1"/>
<ellipse cx="361.4" cy="406" rx="3.8" ry="2.6" transform="rotate(-59 361.4 406)" fill="#fff" stroke="#111" stroke-width="0.8"/>
<polygon points="344.1,408.7 343.9,408.5 343.7,408.4 343.6,408.2 343.5,407.9 343.4,407.7 343.4,407.4 343.4,407.1 343.4,406.8 343.5,406.5 343.6,406.1 343.7,405.8 343.9,405.5 344.1,405.2 344.3,405 344.5,404.7 344.8,404.5 345,404.4 345.3,404.2 345.6,404.1 345.8,404.1 346.1,404 346.3,404.1 346.6,404.1 346.8,404.2 351.9,407.3 352.1,407.5 352.3,407.6 352.4,407.8 352.5,408.1 352.6,408.3 352.6,408.6 352.6,408.9 352.6,409.2 352.5,409.5 352.4,409.9 352.3,410.2 352.1,410.5 351.9,410.8 351.7,411 351.5,411.3 351.2,411.5 351,411.6 350.7,411.8 350.4,411.9 350.2,411.9 349.9,412 349.7,411.9 349.4,411.9 349.2,411.8" fill="#fff" stroke="#111" stroke-width="1.1" stroke-linejoin="round"/>
<ellipse cx="350.6" cy="409.5" rx="2.6" ry="1.8" transform="rotate(-59 350.6 409.5)" fill="#fff" stroke="#111" stroke-width="1.1"/>
<polyline points="262.9,527.8 360.3,580.4" fill="none" stroke="#222" stroke-width="0.8" stroke-dasharray="10 2 2 2" stroke-dashoffset="0"/>
<polygon points="129,464.2 128.1,463.5 127.4,462.8 126.9,461.9 126.4,460.9 126.1,459.7 125.9,458.5 125.9,457.2 126.1,455.8 126.4,454.5 126.8,453.1 127.4,451.8 128.1,450.5 128.9,449.2 129.8,448.1 130.8,447.1 131.9,446.1 133,445.4 134.2,444.8 135.3,444.3 136.5,444.1 137.6,444 138.7,444.1 139.7,444.3 140.6,444.8 144,446.8 144.9,447.5 145.6,448.2 146.1,449.1 146.6,450.1 146.9,451.3 147.1,452.5 147.1,453.8 146.9,455.2 146.6,456.5 146.2,457.9 145.6,459.2 144.9,460.5 144.1,461.8 143.2,462.9 142.2,463.9 141.1,464.9 140,465.6 138.8,466.2 137.7,466.7 136.5,466.9 135.4,467 134.3,466.9 133.3,466.7 132.4,466.2" fill="#fff" stroke="#111" stroke-width="1.1" stroke-linejoin="round"/>
<ellipse cx="138.2" cy="456.5" rx="11.3" ry="7.8" transform="rotate(-59 138.2 456.5)" fill="#fff" stroke="#111" stroke-width="1.1"/>
<ellipse cx="138.2" cy="456.5" rx="7.8" ry="5.4" transform="rotate(-59 138.2 456.5)" fill="none" stroke="#111" stroke-width="2.4"/>
<ellipse cx="138.2" cy="456.5" rx="5" ry="3.4" transform="rotate(-59 138.2 456.5)" fill="#fff" stroke="#111" stroke-width="0.8"/>
<line x1="147" y1="459" x2="156" y2="463" stroke="#111" stroke-width="0.8"/>
<polygon points="157.7,463.7 155.2,462 155.9,460.9 158.6,462.3 159,461.5 156.7,459.6 157.5,458.6 160,460.1 160.6,459.4 158.4,457.3 159.3,456.4 161.7,458.2 162.3,457.5 160.3,455.2 161.2,454.3 163.5,456.3 164.1,455.7 162.4,453.3 163.4,452.5 165.4,454.7 166.2,454.1 164.6,451.5 165.7,450.8 167.5,453.2 168.3,452.7 167,450 168.1,449.4 169.8,451.9 170.6,451.5 169.5,448.7 170.7,448.1 172.1,450.8 172.9,450.5 172.1,447.6 173.3,447.1 174.5,449.9 175.4,449.6 174.8,446.7 176.1,446.4 177,449.2 177.9,449 177.6,446 178.8,445.8 179.5,448.8 180.4,448.7 180.4,445.6 181.7,445.6 182.1,448.5 183,448.5 183.2,445.5 184.5,445.5 184.7,448.5 185.8,446.4 183.5,462 181.5,476 180.5,481 176.5,485.5 171,486.3 167,483.8 163.2,479.7 156.5,465" fill="#fff" stroke="#111" stroke-width="1.1" stroke-linejoin="round"/>
<polyline points="158,463.8 158.8,462.4 159.7,461 160.7,459.7 161.8,458.5 162.9,457.3 164.2,456.1 165.4,455.1 166.8,454.1 168.1,453.2 169.6,452.3 171,451.6 172.6,450.9 174.1,450.3 175.7,449.9 177.3,449.5 178.9,449.2 180.6,448.9 182.2,448.8 183.9,448.8 185.5,448.9" fill="none" stroke="#111" stroke-width="2.2"/>
<polyline points="160.3,465.2 161.1,463.9 161.9,462.6 162.8,461.4 163.8,460.3 164.8,459.2 165.9,458.2 167.1,457.2 168.3,456.3 169.6,455.5 170.9,454.7 172.2,454 173.6,453.4 175,452.9 176.4,452.5 177.9,452.1 179.4,451.8 180.8,451.6 182.3,451.5 183.8,451.5 185.3,451.6" fill="none" stroke="#111" stroke-width="0.8"/>
<path d="M157,464.5 L163.5,479" stroke="#111" stroke-width="2" fill="none"/>
<ellipse cx="174" cy="476.5" rx="5.8" ry="6.8" transform="rotate(30 174 476.5)" fill="#fff" stroke="#111" stroke-width="1.5"/>
<ellipse cx="174.2" cy="476.7" rx="3.4" ry="4.3" transform="rotate(30 174.2 476.7)" fill="#fff" stroke="#111" stroke-width="0.9"/>
<path d="M165.5,468 C164.5,464 166,461.5 168.5,461.5 L170.5,458 L174,457 L174.5,460.5 L178,460 C180,461 179.5,465 177,466 L173,466.5 L171.5,469.5 C169,471 166.5,470.5 165.5,468 Z" fill="#fff" stroke="#111" stroke-width="1.1"/>
<line x1="168" y1="465.5" x2="176.5" y2="463" stroke="#111" stroke-width="0.8"/>
<path d="M213,456.5 C207,457 205,463 207.5,469 C209,472 211,471 210.5,468.5 M213,456.5 C219,455 222,459 220.5,463 C219.5,466 217.5,466 217,464" fill="none" stroke="#111" stroke-width="1.5"/>
<polyline points="217.4,466.8 223.3,470.7 223.3,486.6" fill="none" stroke="#111" stroke-width="0.8"/>
<polygon points="187.3,478.7 188.2,477.6 188.9,478.3 188.2,479.5 188.5,480.3 189.7,479.8 189.8,481 188.7,481.7 188.6,482.7 189.5,483.1 189.1,484.4 188,484.4 187.5,485.3 187.9,486.3 187,487.3 186.3,486.6 185.5,487.1 185.4,488.5 184.3,488.9 184.1,487.6 183.3,487.7 182.6,488.9 181.7,488.6 182.2,487.2 181.6,486.7 180.6,487.5 180.1,486.5 181.1,485.5 181,484.6 179.9,484.6 180,483.4 181.2,483 181.5,482 180.8,481.3 181.5,480.1 182.4,480.4 183.1,479.7 183,478.4 184,477.7 184.4,478.7 185.3,478.4 185.7,477.1 186.8,477 186.6,478.4" fill="#222" stroke="#111" stroke-width="0.9" stroke-linejoin="round"/>
<polygon points="182.4,487.4 182.1,487.2 181.9,487 181.7,486.8 181.5,486.5 181.3,486.2 181.2,485.9 181.1,485.6 181,485.3 181,484.9 181,484.5 181,484.1 181,483.7 181.1,483.3 181.2,482.9 181.3,482.5 181.5,482.1 181.6,481.7 181.8,481.3 182.1,480.9 182.3,480.6 182.6,480.2 182.9,479.9 183.2,479.6 183.5,479.4 183.8,479.1 184.1,478.9 184.4,478.7 184.8,478.6 185.1,478.5 185.5,478.4 185.8,478.3 186.1,478.3 186.4,478.4 186.7,478.4 187,478.5 187.3,478.7 193,481.8 193.2,482 193.4,482.2 193.6,482.4 193.8,482.7 194,483 194.1,483.3 194.2,483.6 194.3,484 194.4,484.3 194.4,484.7 194.4,485.1 194.3,485.5 194.3,485.9 194.2,486.3 194,486.7 193.9,487.1 193.7,487.5 193.5,487.9 193.3,488.3 193,488.6 192.8,489 192.5,489.3 192.2,489.6 191.9,489.8 191.6,490.1 191.2,490.3 190.9,490.5 190.6,490.6 190.2,490.7 189.9,490.8 189.5,490.9 189.2,490.9 188.9,490.8 188.6,490.8 188.3,490.7 188,490.6" fill="#222" stroke="none" stroke-width="0" stroke-linejoin="round"/>
<polygon points="194,480.9 194.5,481.4 188.9,478.2 188.3,477.7" fill="#bbb" stroke="none" stroke-width="0" stroke-linejoin="round"/>
<polygon points="188.1,492.1 187.5,491.8 181.8,488.6 182.5,488.9" fill="#bbb" stroke="none" stroke-width="0" stroke-linejoin="round"/>
<polygon points="186.1,490.6 185.8,489.9 180.2,486.7 180.5,487.4" fill="#bbb" stroke="none" stroke-width="0" stroke-linejoin="round"/>
<polygon points="185.5,487.7 185.7,486.7 180,483.5 179.9,484.5" fill="#bbb" stroke="none" stroke-width="0" stroke-linejoin="round"/>
<polygon points="186.5,484.3 187,483.4 181.4,480.2 180.9,481.1" fill="#bbb" stroke="none" stroke-width="0" stroke-linejoin="round"/>
<polygon points="188.7,481.5 189.5,481 183.8,477.8 183.1,478.3" fill="#bbb" stroke="none" stroke-width="0" stroke-linejoin="round"/>
<polygon points="191.5,480.2 192.3,480.2 186.6,477 185.9,477.1" fill="#bbb" stroke="none" stroke-width="0" stroke-linejoin="round"/>
<polygon points="193,481.8 193.9,480.8 194.6,481.5 193.8,482.7 194.2,483.5 195.3,483 195.5,484.2 194.4,484.9 194.3,485.9 195.2,486.3 194.8,487.6 193.7,487.6 193.1,488.5 193.6,489.5 192.7,490.5 192,489.8 191.2,490.3 191,491.7 189.9,492.1 189.8,490.8 189,490.9 188.3,492.1 187.4,491.8 187.8,490.4 187.3,489.9 186.2,490.7 185.8,489.7 186.7,488.7 186.6,487.8 185.5,487.8 185.7,486.5 186.8,486.1 187.2,485.1 186.4,484.5 187.1,483.3 188.1,483.6 188.8,482.8 188.6,481.6 189.6,480.9 190.1,481.9 190.9,481.6 191.4,480.3 192.4,480.2 192.2,481.6" fill="#fff" stroke="#111" stroke-width="0.9" stroke-linejoin="round"/>
<ellipse cx="190.5" cy="486.2" rx="4.2" ry="2.9" transform="rotate(-60.6 190.5 486.2)" fill="#fff" stroke="#111" stroke-width="0.8"/>
<polygon points="188.1,490.4 187.8,490.1 187.5,489.8 187.2,489.4 187,489 186.9,488.5 186.8,488 186.8,487.5 186.8,486.9 186.9,486.3 187.1,485.7 187.3,485.1 187.6,484.6 187.9,484 188.3,483.5 188.7,483.1 189.2,482.7 189.6,482.4 190.1,482.1 190.6,481.9 191.1,481.8 191.6,481.7 192,481.7 192.5,481.8 192.9,482 194.6,483 195,483.2 195.3,483.6 195.5,483.9 195.7,484.4 195.9,484.9 195.9,485.4 196,485.9 195.9,486.5 195.8,487.1 195.6,487.7 195.4,488.2 195.1,488.8 194.8,489.3 194.4,489.8 194,490.3 193.6,490.7 193.1,491 192.6,491.3 192.1,491.5 191.6,491.6 191.2,491.7 190.7,491.6 190.3,491.5 189.9,491.4" fill="#fff" stroke="#111" stroke-width="1.1" stroke-linejoin="round"/>
<ellipse cx="192.2" cy="487.2" rx="4.8" ry="3.3" transform="rotate(-60.6 192.2 487.2)" fill="#fff" stroke="#111" stroke-width="1.1"/>
<polygon points="189.4,492.1 189,491.9 188.7,491.5 188.3,491 188.1,490.5 187.9,489.9 187.8,489.3 187.8,488.7 187.9,488 188,487.3 188.2,486.6 188.5,485.9 188.8,485.3 189.2,484.6 189.7,484 190.1,483.5 190.7,483 191.2,482.6 191.8,482.3 192.4,482.1 193,481.9 193.5,481.9 194.1,481.9 194.6,482 195,482.2 222.9,497.9 223.3,498.2 223.7,498.6 224,499 224.3,499.6 224.4,500.1 224.5,500.7 224.5,501.4 224.5,502.1 224.4,502.8 224.2,503.5 223.9,504.2 223.5,504.8 223.2,505.5 222.7,506 222.2,506.6 221.7,507 221.1,507.4 220.6,507.8 220,508 219.4,508.2 218.8,508.2 218.3,508.2 217.8,508.1 217.3,507.9" fill="#fff" stroke="#111" stroke-width="1.1" stroke-linejoin="round"/>
<ellipse cx="220.1" cy="502.9" rx="5.7" ry="3.9" transform="rotate(-60.6 220.1 502.9)" fill="#fff" stroke="#111" stroke-width="1.1"/>
<polygon points="217.2,508.1 216.7,507.8 216.3,507.4 216,506.9 215.8,506.4 215.6,505.8 215.5,505.1 215.5,504.5 215.5,503.7 215.7,503 215.9,502.3 216.2,501.6 216.5,500.9 216.9,500.2 217.4,499.6 217.9,499 218.5,498.5 219.1,498.1 219.7,497.8 220.3,497.5 220.9,497.3 221.5,497.3 222,497.3 222.6,497.4 223.1,497.7 235.3,504.5 235.7,504.8 236.1,505.2 236.4,505.7 236.7,506.3 236.9,506.9 237,507.5 237,508.2 236.9,508.9 236.8,509.6 236.6,510.4 236.3,511.1 235.9,511.8 235.5,512.5 235,513.1 234.5,513.6 234,514.1 233.4,514.6 232.8,514.9 232.2,515.1 231.6,515.3 231,515.4 230.4,515.3 229.9,515.2 229.4,515" fill="#fff" stroke="#111" stroke-width="1.1" stroke-linejoin="round"/>
<ellipse cx="232.3" cy="509.8" rx="6" ry="4.1" transform="rotate(-60.6 232.3 509.8)" fill="#fff" stroke="#111" stroke-width="1.1"/>
<polygon points="229.5,514.7 229.1,514.4 228.7,514.1 228.4,513.6 228.2,513.1 228,512.5 227.9,511.9 227.9,511.3 228,510.6 228.1,509.9 228.3,509.2 228.6,508.5 228.9,507.8 229.3,507.2 229.7,506.6 230.2,506.1 230.7,505.6 231.3,505.2 231.9,504.9 232.5,504.6 233,504.5 233.6,504.4 234.1,504.5 234.6,504.6 235.1,504.8 250.8,513.6 251.2,513.9 251.6,514.3 251.9,514.8 252.1,515.3 252.3,515.8 252.4,516.5 252.4,517.1 252.4,517.8 252.2,518.5 252,519.2 251.8,519.9 251.4,520.5 251,521.2 250.6,521.7 250.1,522.3 249.6,522.8 249,523.2 248.4,523.5 247.9,523.7 247.3,523.9 246.7,523.9 246.2,523.9 245.7,523.8 245.2,523.6" fill="#fff" stroke="#111" stroke-width="1.1" stroke-linejoin="round"/>
<ellipse cx="248" cy="518.6" rx="5.7" ry="3.9" transform="rotate(-60.6 248 518.6)" fill="#fff" stroke="#111" stroke-width="1.1"/>
<polygon points="245.4,523.1 245.1,522.9 244.7,522.5 244.4,522.1 244.2,521.6 244.1,521.1 244,520.6 244,520 244,519.3 244.1,518.7 244.3,518.1 244.6,517.4 244.9,516.8 245.2,516.3 245.6,515.7 246.1,515.2 246.6,514.8 247.1,514.4 247.6,514.2 248.1,513.9 248.6,513.8 249.2,513.7 249.7,513.8 250.1,513.9 250.6,514.1 253.2,515.5 253.6,515.8 253.9,516.2 254.2,516.6 254.4,517 254.5,517.6 254.6,518.1 254.6,518.7 254.6,519.3 254.5,520 254.3,520.6 254,521.2 253.7,521.8 253.4,522.4 253,522.9 252.5,523.4 252,523.9 251.5,524.2 251,524.5 250.5,524.7 250,524.9 249.5,524.9 249,524.9 248.5,524.8 248.1,524.6" fill="#fff" stroke="#111" stroke-width="1.1" stroke-linejoin="round"/>
<ellipse cx="250.6" cy="520.1" rx="5.2" ry="3.6" transform="rotate(-60.6 250.6 520.1)" fill="#fff" stroke="#111" stroke-width="1.1"/>
<polygon points="248.2,524.3 247.8,524.1 247.5,523.8 247.3,523.4 247.1,522.9 246.9,522.4 246.8,521.9 246.8,521.4 246.9,520.8 247,520.2 247.1,519.6 247.4,519 247.7,518.4 248,517.9 248.4,517.4 248.8,516.9 249.3,516.5 249.7,516.2 250.2,515.9 250.7,515.7 251.2,515.5 251.7,515.5 252.2,515.5 252.6,515.6 253,515.8 254.8,516.8 255.1,517 255.4,517.4 255.7,517.7 255.9,518.2 256.1,518.7 256.1,519.2 256.2,519.8 256.1,520.4 256,521 255.8,521.6 255.6,522.1 255.3,522.7 255,523.3 254.6,523.8 254.2,524.2 253.7,524.6 253.2,525 252.7,525.2 252.2,525.5 251.7,525.6 251.3,525.6 250.8,525.6 250.4,525.5 250,525.3" fill="#fff" stroke="#111" stroke-width="1.1" stroke-linejoin="round"/>
<ellipse cx="252.4" cy="521.1" rx="4.9" ry="3.4" transform="rotate(-60.6 252.4 521.1)" fill="#fff" stroke="#111" stroke-width="1.1"/>
<polygon points="250,525.3 249.6,525.1 249.3,524.7 249,524.4 248.8,523.9 248.7,523.4 248.6,522.9 248.6,522.3 248.6,521.8 248.7,521.2 248.9,520.6 249.1,520 249.4,519.4 249.7,518.9 250.1,518.3 250.6,517.9 251,517.5 251.5,517.1 252,516.9 252.5,516.7 253,516.5 253.5,516.5 253.9,516.5 254.4,516.6 254.8,516.8 262.2,521 262.5,521.2 262.8,521.5 263.1,521.9 263.3,522.4 263.5,522.9 263.5,523.4 263.6,523.9 263.5,524.5 263.4,525.1 263.2,525.7 263,526.3 262.7,526.9 262.4,527.4 262,527.9 261.6,528.4 261.1,528.8 260.6,529.1 260.1,529.4 259.6,529.6 259.2,529.8 258.7,529.8 258.2,529.8 257.8,529.7 257.4,529.5" fill="#fff" stroke="#111" stroke-width="1.1" stroke-linejoin="round"/>
<ellipse cx="259.8" cy="525.2" rx="4.9" ry="3.4" transform="rotate(-60.6 259.8 525.2)" fill="#fff" stroke="#111" stroke-width="1.1"/>
<rect x="223.2" y="486.5" width="4.2" height="14" fill="#fff" stroke="#111" stroke-width="0.9"/>
<ellipse cx="225.3" cy="486.5" rx="2.1" ry="1.1" fill="#fff" stroke="#111" stroke-width="0.9"/>
<ellipse cx="259.8" cy="525.2" rx="2.2" ry="1.5" transform="rotate(-60.6 259.8 525.2)" fill="#fff" stroke="#111" stroke-width="0.8"/>
<ellipse cx="280" cy="537" rx="9.7" ry="6.7" transform="rotate(-59 280 537)" fill="#fff" stroke="#111" stroke-width="1.0"/>
<ellipse cx="280.3" cy="537.3" rx="5.5" ry="3.8" transform="rotate(-59 280.3 537.3)" fill="#fff" stroke="#111" stroke-width="1.0"/>
<ellipse cx="309" cy="553" rx="7.2" ry="5" transform="rotate(-59 309 553)" fill="none" stroke="#111" stroke-width="3.0"/>
<ellipse cx="309" cy="553" rx="7.2" ry="5" transform="rotate(-59 309 553)" fill="none" stroke="#fff" stroke-width="1.2"/>
<ellipse cx="311.2" cy="554.3" rx="7.2" ry="5" transform="rotate(-59 311.2 554.3)" fill="none" stroke="#111" stroke-width="3.0"/>
<ellipse cx="311.2" cy="554.3" rx="7.2" ry="5" transform="rotate(-59 311.2 554.3)" fill="none" stroke="#fff" stroke-width="1.2"/>
<ellipse cx="313.4" cy="555.6" rx="7.2" ry="5" transform="rotate(-59 313.4 555.6)" fill="none" stroke="#111" stroke-width="3.0"/>
<ellipse cx="313.4" cy="555.6" rx="7.2" ry="5" transform="rotate(-59 313.4 555.6)" fill="none" stroke="#fff" stroke-width="1.2"/>
<ellipse cx="315.6" cy="556.9" rx="7.2" ry="5" transform="rotate(-59 315.6 556.9)" fill="none" stroke="#111" stroke-width="3.0"/>
<ellipse cx="315.6" cy="556.9" rx="7.2" ry="5" transform="rotate(-59 315.6 556.9)" fill="none" stroke="#fff" stroke-width="1.2"/>
<path d="M296,533.5 L312,541.5 Q318,545 317.5,551 L316.5,556" fill="none" stroke="#111" stroke-width="3.2" stroke-linecap="round"/>
<path d="M296,533.5 L312,541.5 Q318,545 317.5,551 L316.5,556" fill="none" stroke="#fff" stroke-width="1.3"/>
<path d="M303,529.8 L318,537 Q323.5,541 322,548 L320.5,553" fill="none" stroke="#111" stroke-width="3.2" stroke-linecap="round"/>
<path d="M303,529.8 L318,537 Q323.5,541 322,548 L320.5,553" fill="none" stroke="#fff" stroke-width="1.3"/>
<ellipse cx="331.3" cy="566.9" rx="9" ry="6.2" transform="rotate(-59 331.3 566.9)" fill="#fff" stroke="#111" stroke-width="1.0"/>
<ellipse cx="331.5" cy="567.2" rx="5.5" ry="3.8" transform="rotate(-59 331.5 567.2)" fill="#fff" stroke="#111" stroke-width="1.0"/>
<path d="M346,567 C340,567.5 338,574 340.5,580 C342,583 344,582 343.5,579.5 M346,567 C352,566 355,570 353.5,574 C352.5,577 350.5,577 350,575" fill="none" stroke="#111" stroke-width="1.5"/>
<path d="M361.5,575 C355.5,575.5 353.5,582 356,588 C357.5,591 359.5,590 359,587.5 M361.5,575 C367.5,574 370.5,578 369,582 C368,585 366,585 365.5,583" fill="none" stroke="#111" stroke-width="1.5"/>
<path d="M127,103.5 C124.5,99 127.5,93 134.5,89 C139.5,86 143.5,85 145.8,86.6 L162.8,114.2 C163.5,118 158,123.5 152,124.3 Z" fill="#fff" stroke="#111" stroke-width="1.1"/>
<polyline points="128.4,99.8 132,94.5 138.5,90.2 144.5,87.6" fill="none" stroke="#111" stroke-width="1.0"/>
<polyline points="129.8,103.2 134,97.5 140,93.2 147,90" fill="none" stroke="#111" stroke-width="1.0"/>
<polyline points="131,106.6 136.5,100 142.5,95.8 149,92.6" fill="none" stroke="#111" stroke-width="1.0"/>
<polyline points="133.2,108.9 139,102.5 145,98 150.8,95" fill="none" stroke="#111" stroke-width="1.0"/>
<ellipse cx="157.5" cy="119.3" rx="5.6" ry="2.6" transform="rotate(-42 157.5 119.3)" fill="#333" stroke="#111" stroke-width="1"/>
<ellipse cx="157.7" cy="119.5" rx="3.6" ry="1.4" transform="rotate(-42 157.7 119.5)" fill="#fff" stroke="none"/>
<circle cx="157.6" cy="112.3" r="0.9" fill="#111"/>
<circle cx="178.2" cy="98.4" r="1.8" fill="#fff" stroke="#111" stroke-width="0.9"/>
<path d="M160.3,128.6 L218.8,199.5 Q225,208 225.2,218 L225.5,236 L235.5,236 L235.3,216 Q234.5,202 226,192 L166.5,125.2 Q163,123.8 160.3,128.6 Z" fill="#fff" stroke="#111" stroke-width="1.1"/>
<line x1="163.5" y1="128.2" x2="221" y2="197.5" stroke="#111" stroke-width="0.7"/>
<line x1="226.5" y1="197.2" x2="235" y2="204" stroke="#111" stroke-width="0.8"/>
<polygon points="220.5,239 227,235 238,235 239.8,239 239.7,252 233,258.5 224,258 220.1,252.5" fill="#fff" stroke="#111" stroke-width="1.0" stroke-linejoin="round"/>
<polyline points="220.5,239 222,241 234,241 239.8,239" fill="none" stroke="#111" stroke-width="0.8"/>
<line x1="234" y1="241" x2="233" y2="258.5" stroke="#111" stroke-width="0.8"/>
<ellipse cx="225.5" cy="252.3" rx="2.6" ry="3.0" fill="#fff" stroke="#111" stroke-width="0.9"/>
<polyline points="232,252 232,246 236,246 236,250" fill="none" stroke="#111" stroke-width="0.8"/>
<path d="M254,211 L256.5,197 Q259.5,189 263,196 L264.8,204" fill="none" stroke="#111" stroke-width="1.0"/>
<polygon points="249.8,216.7 249.6,216.8 249.3,216.8 249,216.8 248.8,216.7 248.5,216.6 248.2,216.5 247.9,216.3 247.6,216 247.4,215.8 247.1,215.5 246.9,215.1 246.7,214.8 246.5,214.4 246.4,214 246.3,213.7 246.2,213.3 246.2,212.9 246.2,212.6 246.2,212.3 246.3,212 246.4,211.7 246.6,211.5 246.8,211.3 247,211.2 251.4,208.9 251.6,208.8 251.9,208.8 252.2,208.8 252.4,208.9 252.7,209 253,209.1 253.3,209.3 253.6,209.6 253.8,209.8 254.1,210.1 254.3,210.5 254.5,210.8 254.7,211.2 254.8,211.6 254.9,211.9 255,212.3 255,212.7 255,213 255,213.3 254.9,213.6 254.8,213.9 254.6,214.1 254.4,214.3 254.2,214.4" fill="#666" stroke="#111" stroke-width="1.1" stroke-linejoin="round"/>
<ellipse cx="252.8" cy="211.7" rx="3.1" ry="1.9" transform="rotate(-117 252.8 211.7)" fill="#666" stroke="#111" stroke-width="1.1"/>
<ellipse cx="248.4" cy="213.9" rx="3.1" ry="1.9" transform="rotate(-117 248.4 213.9)" fill="#fff" stroke="#111" stroke-width="1.0"/>
<polygon points="264.9,210 264.7,210.1 264.4,210.1 264.1,210.1 263.9,210 263.6,209.9 263.3,209.8 263,209.6 262.7,209.3 262.5,209.1 262.2,208.8 262,208.4 261.8,208.1 261.6,207.7 261.5,207.3 261.4,207 261.3,206.6 261.3,206.2 261.3,205.9 261.3,205.6 261.4,205.3 261.5,205 261.7,204.8 261.9,204.6 262.1,204.5 266.5,202.2 266.7,202.1 267,202.1 267.3,202.1 267.5,202.2 267.8,202.3 268.1,202.4 268.4,202.6 268.7,202.9 268.9,203.1 269.2,203.4 269.4,203.8 269.6,204.1 269.8,204.5 269.9,204.9 270,205.2 270.1,205.6 270.1,206 270.1,206.3 270.1,206.6 270,206.9 269.9,207.2 269.7,207.4 269.5,207.6 269.3,207.7" fill="#666" stroke="#111" stroke-width="1.1" stroke-linejoin="round"/>
<ellipse cx="267.9" cy="205" rx="3.1" ry="1.9" transform="rotate(-117 267.9 205)" fill="#666" stroke="#111" stroke-width="1.1"/>
<ellipse cx="263.5" cy="207.2" rx="3.1" ry="1.9" transform="rotate(-117 263.5 207.2)" fill="#fff" stroke="#111" stroke-width="1.0"/>
<line x1="255" y1="213.5" x2="263" y2="210.5" stroke="#111" stroke-width="0.8"/>
<polygon points="258.8,236.2 258.6,236.3 258.4,236.4 258.1,236.3 257.9,236.3 257.6,236.2 257.4,236.1 257.2,235.9 256.9,235.7 256.7,235.5 256.5,235.2 256.3,234.9 256.1,234.6 255.9,234.3 255.8,234 255.7,233.6 255.6,233.3 255.6,233 255.6,232.7 255.6,232.4 255.7,232.2 255.8,231.9 255.9,231.8 256.1,231.6 256.2,231.5 260.2,229.4 260.4,229.3 260.6,229.2 260.9,229.3 261.1,229.3 261.4,229.4 261.6,229.5 261.8,229.7 262.1,229.9 262.3,230.1 262.5,230.4 262.7,230.7 262.9,231 263.1,231.3 263.2,231.6 263.3,232 263.4,232.3 263.4,232.6 263.4,232.9 263.4,233.2 263.3,233.4 263.2,233.7 263.1,233.8 262.9,234 262.8,234.1" fill="#555" stroke="#111" stroke-width="1.1" stroke-linejoin="round"/>
<ellipse cx="261.5" cy="231.7" rx="2.7" ry="1.6" transform="rotate(-118 261.5 231.7)" fill="#555" stroke="#111" stroke-width="1.1"/>
<polygon points="261.4,234.4 261.2,234.4 261,234.5 260.8,234.5 260.6,234.4 260.4,234.3 260.2,234.2 259.9,234.1 259.7,233.9 259.5,233.7 259.3,233.4 259.1,233.2 259,232.9 258.8,232.6 258.7,232.3 258.6,232.1 258.6,231.8 258.6,231.5 258.6,231.2 258.6,231 258.6,230.7 258.7,230.5 258.8,230.4 259,230.2 259.1,230.1 285.6,216 285.8,216 286,215.9 286.2,215.9 286.4,216 286.6,216.1 286.8,216.2 287.1,216.3 287.3,216.5 287.5,216.7 287.7,217 287.9,217.2 288,217.5 288.2,217.8 288.3,218.1 288.4,218.3 288.4,218.6 288.4,218.9 288.4,219.2 288.4,219.4 288.4,219.7 288.3,219.9 288.2,220 288,220.2 287.9,220.3" fill="#fff" stroke="#111" stroke-width="1.1" stroke-linejoin="round"/>
<ellipse cx="286.7" cy="218.2" rx="2.4" ry="1.4" transform="rotate(-118 286.7 218.2)" fill="#fff" stroke="#111" stroke-width="1.1"/>
<polygon points="289.1,221.1 288.8,221.3 288.6,221.3 288.2,221.3 287.9,221.2 287.6,221.1 287.3,220.9 286.9,220.7 286.6,220.4 286.3,220.1 286,219.8 285.7,219.4 285.5,219 285.3,218.6 285.1,218.1 285,217.7 284.9,217.3 284.9,216.8 284.9,216.4 284.9,216.1 285,215.7 285.1,215.4 285.3,215.2 285.5,215 285.7,214.8 287.5,213.9 287.8,213.7 288,213.7 288.4,213.7 288.7,213.8 289,213.9 289.3,214.1 289.7,214.3 290,214.6 290.3,214.9 290.6,215.2 290.9,215.6 291.1,216 291.3,216.4 291.5,216.9 291.6,217.3 291.7,217.7 291.7,218.2 291.7,218.6 291.7,218.9 291.6,219.3 291.5,219.6 291.3,219.8 291.1,220 290.9,220.2" fill="#222" stroke="#111" stroke-width="1.1" stroke-linejoin="round"/>
<ellipse cx="289.2" cy="217" rx="3.6" ry="2.2" transform="rotate(-118 289.2 217)" fill="#222" stroke="#111" stroke-width="1.1"/>
<ellipse cx="249.5" cy="238.5" rx="4.2" ry="4.8" fill="#fff" stroke="#111" stroke-width="2.2"/>
<circle cx="249.6" cy="238.6" r="1.4" fill="#fff" stroke="#111" stroke-width="0.8"/>
<ellipse cx="214.3" cy="258.5" rx="4.2" ry="4.8" fill="#fff" stroke="#111" stroke-width="2.2"/>
<circle cx="214.4" cy="258.6" r="1.4" fill="#fff" stroke="#111" stroke-width="0.8"/>
<line x1="240" y1="242" x2="245" y2="240" stroke="#111" stroke-width="0.8"/>
<line x1="253.5" y1="236.5" x2="258" y2="234" stroke="#111" stroke-width="0.8"/>
<line x1="218.5" y1="256.5" x2="221" y2="255" stroke="#111" stroke-width="0.8"/>
<path d="M206.5,260.5 C202,260 201,264 203.5,267.5 C205,269.5 207.5,269 208.5,267" fill="none" stroke="#111" stroke-width="1.5"/>
<polygon points="220.8,282.6 224.2,281.2 224.2,274.5 226,271.3 229.9,269.8 233.5,270.8 235.9,273.5 236.6,281.2 243.3,285.8 243.4,289.8 237,298.9 233.5,298.2 231.3,296.5 220.8,290.7" fill="#fff" stroke="#111" stroke-width="1.1" stroke-linejoin="round"/>
<polyline points="221.5,283 231.3,287.9 243.3,286" fill="none" stroke="#111" stroke-width="0.9"/>
<line x1="231.3" y1="287.9" x2="231.3" y2="296.5" stroke="#111" stroke-width="0.9"/>
<line x1="221" y1="285.5" x2="231" y2="290.3" stroke="#111" stroke-width="0.8"/>
<line x1="221" y1="288" x2="231" y2="292.8" stroke="#111" stroke-width="0.8"/>
<polyline points="224.2,281.2 227,282.6 236.6,281.2" fill="none" stroke="#111" stroke-width="0.8"/>
<ellipse cx="229.6" cy="277.2" rx="2.6" ry="2.9" fill="#fff" stroke="#111" stroke-width="1.1"/>
<ellipse cx="236.2" cy="291" rx="2.8" ry="3.6" transform="rotate(20 236.2 291)" fill="#fff" stroke="#111" stroke-width="1.1"/>
<polyline points="238.7,292.7 260.4,301.5" fill="none" stroke="#111" stroke-width="0.8"/>
<line x1="222.4" y1="307.6" x2="230.8" y2="297.3" stroke="#111" stroke-width="0.8"/>
<polygon points="218,311.5 222,306.3 224.6,308.3 220.6,313.5" fill="#333" stroke="#111" stroke-width="1.0" stroke-linejoin="round"/>
<polygon points="213.1,314.8 216,311 220.8,313.8 220,318.3 215.5,318.5" fill="#fff" stroke="#111" stroke-width="1.1" stroke-linejoin="round"/>
<line x1="213.5" y1="315.2" x2="219.5" y2="316" stroke="#111" stroke-width="0.7"/>
<path d="M131.6,224.6 C135,218 138,215 141.6,212.8 C147,207 152,204 155.1,202.9 C160,200 165,198.5 168.7,197.9 C173,197.4 177,197.8 184.1,200.6 L191.3,205.6 L199.5,210.1 L205.4,213.7 L205.4,216.4 L201.3,218.2 L200.4,228.2 C199,230 197,231.5 193.2,233.6 L180,227.3 L172.3,234.5 C171,240 169,244 166,244.5 L156,239.5 L131.6,227.7 Z" fill="#fff" stroke="#111" stroke-width="1.0"/>
<path d="M132.5,224.4 L155.1,236.3 L155.1,239.5" fill="none" stroke="#111" stroke-width="1.2"/>
<path d="M155.1,236.3 C158,232 162,228.5 166,225.5 C170,222 174,219 177.8,216.4 C183,213.5 187,212 191.3,211.5 C196,211 201,212 205.4,214.2" fill="none" stroke="#111" stroke-width="1.0"/>
<path d="M156,239.2 C159,235 163,231.5 167,228.3 C171,225 175,222 179,219.5 C184,216.5 188,215 192,214.6 C196,214.3 200,215 204.5,216.5" fill="none" stroke="#111" stroke-width="1.5"/>
<path d="M141.6,225.5 C143,220 145.5,217 148.8,214.6 C153,210 158,205.5 164.2,202.9 C169,201 174,200.5 178.7,201 C181,201.5 183,202.5 184.1,203.8" fill="none" stroke="#111" stroke-width="1.5"/>
<path d="M141.6,225.5 C144,228 147,229.5 150.6,229.6 C153,229.5 155,228.5 156,227.3 C157,225 157.5,223 158.8,221.9 C160,219.5 161,218.5 162.4,218.2 C164.5,217.6 166.5,217.5 167.8,216.9 C170,215.5 171,214 171.4,212.8 C171.4,211.5 171.4,210.5 171.4,210.1 C172.5,209 174,208.5 176,208.3 C178.5,208 180.5,208 182.3,207.8 C183.5,206.5 184,205 184.1,203.8" fill="none" stroke="#111" stroke-width="1.1"/>
<path d="M184.1,203.8 C186,206 189,208.5 191.3,211.5" fill="none" stroke="#111" stroke-width="1.3"/>
<path d="M131.6,225.5 L155.1,237.8" fill="none" stroke="#555" stroke-width="1.6"/>
<ellipse cx="195.4" cy="229.6" rx="1.6" ry="2" transform="rotate(30 195.4 229.6)" fill="#fff" stroke="#111" stroke-width="0.9"/>
<ellipse cx="166.9" cy="240" rx="1.6" ry="2" transform="rotate(30 166.9 240)" fill="#fff" stroke="#111" stroke-width="0.9"/>
<ellipse cx="116.5" cy="212" rx="4.4" ry="4.9" transform="rotate(-30 116.5 212)" fill="#fff" stroke="#111" stroke-width="1.2"/>
<ellipse cx="117.1" cy="212.3" rx="3" ry="3.6" transform="rotate(-30 116.5 212)" fill="none" stroke="#111" stroke-width="0.8"/>
<polygon points="117,210.5 123.7,212.8 122.7,215.6 116,213.5" fill="#222" stroke="#111" stroke-width="0.9" stroke-linejoin="round"/>
<line x1="120.5" y1="212.2" x2="119.7" y2="214.8" stroke="#999" stroke-width="0.6"/>
<ellipse cx="146.7" cy="195" rx="4.4" ry="4.9" transform="rotate(-30 146.7 195)" fill="#fff" stroke="#111" stroke-width="1.2"/>
<ellipse cx="147.3" cy="195.3" rx="3" ry="3.6" transform="rotate(-30 146.7 195)" fill="none" stroke="#111" stroke-width="0.8"/>
<polygon points="147.2,193.5 153.9,195.8 152.9,198.6 146.2,196.5" fill="#222" stroke="#111" stroke-width="0.9" stroke-linejoin="round"/>
<line x1="150.7" y1="195.2" x2="149.9" y2="197.8" stroke="#999" stroke-width="0.6"/>
<text x="114.8" y="246.3" font-size="14.5" text-anchor="middle">*</text>
<polygon points="42.7,591.7 50.3,578.8 50.8,580.7 65.6,572.1 66.1,581.6 51.3,590.7 50.3,594.5" fill="none" stroke="#111" stroke-width="1.1" stroke-linejoin="round"/>
<path d="M73.4,576 L77.3,563 L82.3,560.2 M75.3,569.6 L80,567" fill="none" stroke="#222" stroke-width="1.1"/>
<path d="M82.4,561.4 L84,569.2 L87.5,562 L89,567.6 L92.4,558.8" fill="none" stroke="#222" stroke-width="1.1"/>
<path d="M94.6,563.6 L96.9,552.6 L99.6,551 C101.3,554 101,559 100,561 Z" fill="none" stroke="#222" stroke-width="1.1"/>
<line x1="316.3" y1="67" x2="319.7" y2="69" stroke="#111" stroke-width="0.8"/>
<line x1="340.1" y1="82.6" x2="343.5" y2="84.6" stroke="#111" stroke-width="0.8"/>
<line x1="368.4" y1="100.3" x2="378" y2="106.1" stroke="#111" stroke-width="0.8"/>
<line x1="384.7" y1="108.9" x2="394.3" y2="114.7" stroke="#111" stroke-width="0.8"/>
<line x1="404.2" y1="122.5" x2="413.2" y2="127.9" stroke="#111" stroke-width="0.8"/>
<line x1="436.2" y1="139.6" x2="447.4" y2="146.4" stroke="#111" stroke-width="0.8"/>
<line x1="629.6" y1="254.1" x2="638" y2="259.1" stroke="#111" stroke-width="0.8"/>
<line x1="663.6" y1="276.5" x2="670.4" y2="280.5" stroke="#111" stroke-width="0.8"/>
<line x1="688.7" y1="292.1" x2="694.3" y2="295.5" stroke="#111" stroke-width="0.8"/>
<line x1="714.3" y1="307.4" x2="722.1" y2="312.2" stroke="#111" stroke-width="0.8"/>
<line x1="738.1" y1="323.5" x2="744.9" y2="327.5" stroke="#111" stroke-width="0.8"/>
<line x1="460.2" y1="274.4" x2="467.6" y2="278.8" stroke="#111" stroke-width="0.8"/>
<line x1="483.6" y1="288" x2="489.8" y2="291.8" stroke="#111" stroke-width="0.8"/>
<line x1="519.8" y1="309.8" x2="526" y2="313.6" stroke="#111" stroke-width="0.8"/>
<line x1="549.7" y1="326.2" x2="557.1" y2="330.6" stroke="#111" stroke-width="0.8"/>
<line x1="574.3" y1="344.1" x2="581.7" y2="348.5" stroke="#111" stroke-width="0.8"/>
<line x1="339.8" y1="282.2" x2="345.4" y2="285.6" stroke="#111" stroke-width="0.8"/>
<line x1="371.4" y1="300.1" x2="378.8" y2="304.5" stroke="#111" stroke-width="0.8"/>
<line x1="386.3" y1="309.3" x2="391.9" y2="312.7" stroke="#111" stroke-width="0.8"/>
<line x1="407.2" y1="322.4" x2="413.4" y2="326.2" stroke="#111" stroke-width="0.8"/>
<line x1="436.1" y1="339.6" x2="445.7" y2="345.4" stroke="#111" stroke-width="0.8"/>
<line x1="537" y1="400.7" x2="542" y2="403.7" stroke="#111" stroke-width="0.8"/>
<line x1="558.4" y1="412.9" x2="563.4" y2="415.9" stroke="#111" stroke-width="0.8"/>
<line x1="591.1" y1="433" x2="597.9" y2="437" stroke="#111" stroke-width="0.8"/>
<line x1="613.4" y1="447.8" x2="618.4" y2="450.8" stroke="#111" stroke-width="0.8"/>
<line x1="277.5" y1="535.6" x2="283.1" y2="539" stroke="#111" stroke-width="0.8"/>
<line x1="328.7" y1="565.5" x2="334.3" y2="568.9" stroke="#111" stroke-width="0.8"/>
<line x1="214.5" y1="373.6" x2="220.7" y2="377.4" stroke="#111" stroke-width="0.8"/>
<line x1="243.5" y1="394" x2="248.5" y2="397" stroke="#111" stroke-width="0.8"/>
<line x1="134.7" y1="454.3" x2="140.3" y2="457.7" stroke="#111" stroke-width="0.8"/>
<line x1="172.2" y1="475.5" x2="176.2" y2="477.9" stroke="#111" stroke-width="0.8"/>
</svg></body></html>
